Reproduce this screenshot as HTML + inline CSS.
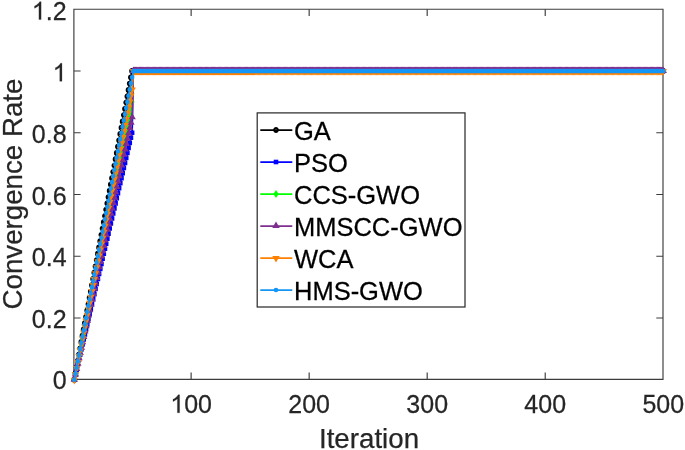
<!DOCTYPE html>
<html><head><meta charset="utf-8"><title>Convergence Rate vs Iteration</title><style>
html,body{margin:0;padding:0;background:#fff;width:685px;height:450px;overflow:hidden}
svg{display:block;will-change:transform}
text{font-family:"Liberation Sans", sans-serif;fill:#262626;stroke:#262626;stroke-width:0.25px}
</style></head><body>
<svg width="685" height="450" viewBox="0 0 685 450">
<rect width="685" height="450" fill="#fff"/>
<path d="M73.9 9.2H663.0V379.3H73.9Z" stroke="#3c3c3c" stroke-width="1.15" fill="none"/>
<path d="M73.9 318.04h6.7M663.0 318.04h-6.7M73.9 256.28h6.7M663.0 256.28h-6.7M73.9 194.52h6.7M663.0 194.52h-6.7M73.9 132.76h6.7M663.0 132.76h-6.7M73.9 71h6.7M663.0 71h-6.7M191.13 379.3v-6.7M191.13 9.2v6.7M309.16 379.3v-6.7M309.16 9.2v6.7M427.19 379.3v-6.7M427.19 9.2v6.7M545.22 379.3v-6.7M545.22 9.2v6.7" stroke="#3c3c3c" stroke-width="1.15" fill="none"/>
<path d="M74.28 379.8L75.46 373.5L76.64 367.2L77.82 360.89L79 354.59L80.18 348.29L81.36 341.99L82.54 335.69L83.72 329.38L84.9 323.08L86.08 316.78L87.26 310.48L88.44 304.18L89.62 297.87L90.8 291.57L91.98 285.27L93.17 278.97L94.35 272.67L95.53 266.36L96.71 260.06L97.89 253.76L99.07 247.46L100.25 241.16L101.43 234.85L102.61 228.55L103.79 222.25L104.97 215.95L106.15 209.64L107.33 203.34L108.51 197.04L109.69 190.74L110.87 184.44L112.05 178.13L113.23 171.83L114.41 165.53L115.59 159.23L116.77 152.93L117.95 146.62L119.13 140.32L120.31 134.02L121.49 127.72L122.67 121.42L123.85 115.11L125.03 108.81L126.21 102.51L127.39 96.21L128.57 89.91L129.75 83.6L130.93 77.3L132.11 71L133.3 71L663.25 71" fill="none" stroke="#000000" stroke-width="1.75" stroke-linejoin="round"/>
<path d="M72.38 379.8a1.9 1.9 0 1 0 3.8 0a1.9 1.9 0 1 0 -3.8 0zM73.56 373.5a1.9 1.9 0 1 0 3.8 0a1.9 1.9 0 1 0 -3.8 0zM74.74 367.2a1.9 1.9 0 1 0 3.8 0a1.9 1.9 0 1 0 -3.8 0zM75.92 360.89a1.9 1.9 0 1 0 3.8 0a1.9 1.9 0 1 0 -3.8 0zM77.1 354.59a1.9 1.9 0 1 0 3.8 0a1.9 1.9 0 1 0 -3.8 0zM78.28 348.29a1.9 1.9 0 1 0 3.8 0a1.9 1.9 0 1 0 -3.8 0zM79.46 341.99a1.9 1.9 0 1 0 3.8 0a1.9 1.9 0 1 0 -3.8 0zM80.64 335.69a1.9 1.9 0 1 0 3.8 0a1.9 1.9 0 1 0 -3.8 0zM81.82 329.38a1.9 1.9 0 1 0 3.8 0a1.9 1.9 0 1 0 -3.8 0zM83 323.08a1.9 1.9 0 1 0 3.8 0a1.9 1.9 0 1 0 -3.8 0zM84.18 316.78a1.9 1.9 0 1 0 3.8 0a1.9 1.9 0 1 0 -3.8 0zM85.36 310.48a1.9 1.9 0 1 0 3.8 0a1.9 1.9 0 1 0 -3.8 0zM86.54 304.18a1.9 1.9 0 1 0 3.8 0a1.9 1.9 0 1 0 -3.8 0zM87.72 297.87a1.9 1.9 0 1 0 3.8 0a1.9 1.9 0 1 0 -3.8 0zM88.9 291.57a1.9 1.9 0 1 0 3.8 0a1.9 1.9 0 1 0 -3.8 0zM90.08 285.27a1.9 1.9 0 1 0 3.8 0a1.9 1.9 0 1 0 -3.8 0zM91.27 278.97a1.9 1.9 0 1 0 3.8 0a1.9 1.9 0 1 0 -3.8 0zM92.45 272.67a1.9 1.9 0 1 0 3.8 0a1.9 1.9 0 1 0 -3.8 0zM93.63 266.36a1.9 1.9 0 1 0 3.8 0a1.9 1.9 0 1 0 -3.8 0zM94.81 260.06a1.9 1.9 0 1 0 3.8 0a1.9 1.9 0 1 0 -3.8 0zM95.99 253.76a1.9 1.9 0 1 0 3.8 0a1.9 1.9 0 1 0 -3.8 0zM97.17 247.46a1.9 1.9 0 1 0 3.8 0a1.9 1.9 0 1 0 -3.8 0zM98.35 241.16a1.9 1.9 0 1 0 3.8 0a1.9 1.9 0 1 0 -3.8 0zM99.53 234.85a1.9 1.9 0 1 0 3.8 0a1.9 1.9 0 1 0 -3.8 0zM100.71 228.55a1.9 1.9 0 1 0 3.8 0a1.9 1.9 0 1 0 -3.8 0zM101.89 222.25a1.9 1.9 0 1 0 3.8 0a1.9 1.9 0 1 0 -3.8 0zM103.07 215.95a1.9 1.9 0 1 0 3.8 0a1.9 1.9 0 1 0 -3.8 0zM104.25 209.64a1.9 1.9 0 1 0 3.8 0a1.9 1.9 0 1 0 -3.8 0zM105.43 203.34a1.9 1.9 0 1 0 3.8 0a1.9 1.9 0 1 0 -3.8 0zM106.61 197.04a1.9 1.9 0 1 0 3.8 0a1.9 1.9 0 1 0 -3.8 0zM107.79 190.74a1.9 1.9 0 1 0 3.8 0a1.9 1.9 0 1 0 -3.8 0zM108.97 184.44a1.9 1.9 0 1 0 3.8 0a1.9 1.9 0 1 0 -3.8 0zM110.15 178.13a1.9 1.9 0 1 0 3.8 0a1.9 1.9 0 1 0 -3.8 0zM111.33 171.83a1.9 1.9 0 1 0 3.8 0a1.9 1.9 0 1 0 -3.8 0zM112.51 165.53a1.9 1.9 0 1 0 3.8 0a1.9 1.9 0 1 0 -3.8 0zM113.69 159.23a1.9 1.9 0 1 0 3.8 0a1.9 1.9 0 1 0 -3.8 0zM114.87 152.93a1.9 1.9 0 1 0 3.8 0a1.9 1.9 0 1 0 -3.8 0zM116.05 146.62a1.9 1.9 0 1 0 3.8 0a1.9 1.9 0 1 0 -3.8 0zM117.23 140.32a1.9 1.9 0 1 0 3.8 0a1.9 1.9 0 1 0 -3.8 0zM118.41 134.02a1.9 1.9 0 1 0 3.8 0a1.9 1.9 0 1 0 -3.8 0zM119.59 127.72a1.9 1.9 0 1 0 3.8 0a1.9 1.9 0 1 0 -3.8 0zM120.77 121.42a1.9 1.9 0 1 0 3.8 0a1.9 1.9 0 1 0 -3.8 0zM121.95 115.11a1.9 1.9 0 1 0 3.8 0a1.9 1.9 0 1 0 -3.8 0zM123.13 108.81a1.9 1.9 0 1 0 3.8 0a1.9 1.9 0 1 0 -3.8 0zM124.31 102.51a1.9 1.9 0 1 0 3.8 0a1.9 1.9 0 1 0 -3.8 0zM125.49 96.21a1.9 1.9 0 1 0 3.8 0a1.9 1.9 0 1 0 -3.8 0zM126.67 89.91a1.9 1.9 0 1 0 3.8 0a1.9 1.9 0 1 0 -3.8 0zM127.85 83.6a1.9 1.9 0 1 0 3.8 0a1.9 1.9 0 1 0 -3.8 0zM129.03 77.3a1.9 1.9 0 1 0 3.8 0a1.9 1.9 0 1 0 -3.8 0zM130.21 71a1.9 1.9 0 1 0 3.8 0a1.9 1.9 0 1 0 -3.8 0zM131.4 71a1.9 1.9 0 1 0 3.8 0a1.9 1.9 0 1 0 -3.8 0zM132.58 71a1.9 1.9 0 1 0 3.8 0a1.9 1.9 0 1 0 -3.8 0zM133.76 71a1.9 1.9 0 1 0 3.8 0a1.9 1.9 0 1 0 -3.8 0zM134.94 71a1.9 1.9 0 1 0 3.8 0a1.9 1.9 0 1 0 -3.8 0zM136.12 71a1.9 1.9 0 1 0 3.8 0a1.9 1.9 0 1 0 -3.8 0zM137.3 71a1.9 1.9 0 1 0 3.8 0a1.9 1.9 0 1 0 -3.8 0zM138.48 71a1.9 1.9 0 1 0 3.8 0a1.9 1.9 0 1 0 -3.8 0zM139.66 71a1.9 1.9 0 1 0 3.8 0a1.9 1.9 0 1 0 -3.8 0zM140.84 71a1.9 1.9 0 1 0 3.8 0a1.9 1.9 0 1 0 -3.8 0zM142.02 71a1.9 1.9 0 1 0 3.8 0a1.9 1.9 0 1 0 -3.8 0zM143.2 71a1.9 1.9 0 1 0 3.8 0a1.9 1.9 0 1 0 -3.8 0zM144.38 71a1.9 1.9 0 1 0 3.8 0a1.9 1.9 0 1 0 -3.8 0zM145.56 71a1.9 1.9 0 1 0 3.8 0a1.9 1.9 0 1 0 -3.8 0zM146.74 71a1.9 1.9 0 1 0 3.8 0a1.9 1.9 0 1 0 -3.8 0zM147.92 71a1.9 1.9 0 1 0 3.8 0a1.9 1.9 0 1 0 -3.8 0zM149.1 71a1.9 1.9 0 1 0 3.8 0a1.9 1.9 0 1 0 -3.8 0zM150.28 71a1.9 1.9 0 1 0 3.8 0a1.9 1.9 0 1 0 -3.8 0zM151.46 71a1.9 1.9 0 1 0 3.8 0a1.9 1.9 0 1 0 -3.8 0zM152.64 71a1.9 1.9 0 1 0 3.8 0a1.9 1.9 0 1 0 -3.8 0zM153.82 71a1.9 1.9 0 1 0 3.8 0a1.9 1.9 0 1 0 -3.8 0zM155 71a1.9 1.9 0 1 0 3.8 0a1.9 1.9 0 1 0 -3.8 0zM156.18 71a1.9 1.9 0 1 0 3.8 0a1.9 1.9 0 1 0 -3.8 0zM157.36 71a1.9 1.9 0 1 0 3.8 0a1.9 1.9 0 1 0 -3.8 0zM158.54 71a1.9 1.9 0 1 0 3.8 0a1.9 1.9 0 1 0 -3.8 0zM159.72 71a1.9 1.9 0 1 0 3.8 0a1.9 1.9 0 1 0 -3.8 0zM160.9 71a1.9 1.9 0 1 0 3.8 0a1.9 1.9 0 1 0 -3.8 0zM162.08 71a1.9 1.9 0 1 0 3.8 0a1.9 1.9 0 1 0 -3.8 0zM163.26 71a1.9 1.9 0 1 0 3.8 0a1.9 1.9 0 1 0 -3.8 0zM164.44 71a1.9 1.9 0 1 0 3.8 0a1.9 1.9 0 1 0 -3.8 0zM165.62 71a1.9 1.9 0 1 0 3.8 0a1.9 1.9 0 1 0 -3.8 0zM166.8 71a1.9 1.9 0 1 0 3.8 0a1.9 1.9 0 1 0 -3.8 0zM167.98 71a1.9 1.9 0 1 0 3.8 0a1.9 1.9 0 1 0 -3.8 0zM169.16 71a1.9 1.9 0 1 0 3.8 0a1.9 1.9 0 1 0 -3.8 0zM170.35 71a1.9 1.9 0 1 0 3.8 0a1.9 1.9 0 1 0 -3.8 0zM171.53 71a1.9 1.9 0 1 0 3.8 0a1.9 1.9 0 1 0 -3.8 0zM172.71 71a1.9 1.9 0 1 0 3.8 0a1.9 1.9 0 1 0 -3.8 0zM173.89 71a1.9 1.9 0 1 0 3.8 0a1.9 1.9 0 1 0 -3.8 0zM175.07 71a1.9 1.9 0 1 0 3.8 0a1.9 1.9 0 1 0 -3.8 0zM176.25 71a1.9 1.9 0 1 0 3.8 0a1.9 1.9 0 1 0 -3.8 0zM177.43 71a1.9 1.9 0 1 0 3.8 0a1.9 1.9 0 1 0 -3.8 0zM178.61 71a1.9 1.9 0 1 0 3.8 0a1.9 1.9 0 1 0 -3.8 0zM179.79 71a1.9 1.9 0 1 0 3.8 0a1.9 1.9 0 1 0 -3.8 0zM180.97 71a1.9 1.9 0 1 0 3.8 0a1.9 1.9 0 1 0 -3.8 0zM182.15 71a1.9 1.9 0 1 0 3.8 0a1.9 1.9 0 1 0 -3.8 0zM183.33 71a1.9 1.9 0 1 0 3.8 0a1.9 1.9 0 1 0 -3.8 0zM184.51 71a1.9 1.9 0 1 0 3.8 0a1.9 1.9 0 1 0 -3.8 0zM185.69 71a1.9 1.9 0 1 0 3.8 0a1.9 1.9 0 1 0 -3.8 0zM186.87 71a1.9 1.9 0 1 0 3.8 0a1.9 1.9 0 1 0 -3.8 0zM188.05 71a1.9 1.9 0 1 0 3.8 0a1.9 1.9 0 1 0 -3.8 0zM189.23 71a1.9 1.9 0 1 0 3.8 0a1.9 1.9 0 1 0 -3.8 0zM190.41 71a1.9 1.9 0 1 0 3.8 0a1.9 1.9 0 1 0 -3.8 0zM191.59 71a1.9 1.9 0 1 0 3.8 0a1.9 1.9 0 1 0 -3.8 0zM192.77 71a1.9 1.9 0 1 0 3.8 0a1.9 1.9 0 1 0 -3.8 0zM193.95 71a1.9 1.9 0 1 0 3.8 0a1.9 1.9 0 1 0 -3.8 0zM195.13 71a1.9 1.9 0 1 0 3.8 0a1.9 1.9 0 1 0 -3.8 0zM196.31 71a1.9 1.9 0 1 0 3.8 0a1.9 1.9 0 1 0 -3.8 0zM197.49 71a1.9 1.9 0 1 0 3.8 0a1.9 1.9 0 1 0 -3.8 0zM198.67 71a1.9 1.9 0 1 0 3.8 0a1.9 1.9 0 1 0 -3.8 0zM199.85 71a1.9 1.9 0 1 0 3.8 0a1.9 1.9 0 1 0 -3.8 0zM201.03 71a1.9 1.9 0 1 0 3.8 0a1.9 1.9 0 1 0 -3.8 0zM202.21 71a1.9 1.9 0 1 0 3.8 0a1.9 1.9 0 1 0 -3.8 0zM203.39 71a1.9 1.9 0 1 0 3.8 0a1.9 1.9 0 1 0 -3.8 0zM204.57 71a1.9 1.9 0 1 0 3.8 0a1.9 1.9 0 1 0 -3.8 0zM205.75 71a1.9 1.9 0 1 0 3.8 0a1.9 1.9 0 1 0 -3.8 0zM206.93 71a1.9 1.9 0 1 0 3.8 0a1.9 1.9 0 1 0 -3.8 0zM208.11 71a1.9 1.9 0 1 0 3.8 0a1.9 1.9 0 1 0 -3.8 0zM209.3 71a1.9 1.9 0 1 0 3.8 0a1.9 1.9 0 1 0 -3.8 0zM210.48 71a1.9 1.9 0 1 0 3.8 0a1.9 1.9 0 1 0 -3.8 0zM211.66 71a1.9 1.9 0 1 0 3.8 0a1.9 1.9 0 1 0 -3.8 0zM212.84 71a1.9 1.9 0 1 0 3.8 0a1.9 1.9 0 1 0 -3.8 0zM214.02 71a1.9 1.9 0 1 0 3.8 0a1.9 1.9 0 1 0 -3.8 0zM215.2 71a1.9 1.9 0 1 0 3.8 0a1.9 1.9 0 1 0 -3.8 0zM216.38 71a1.9 1.9 0 1 0 3.8 0a1.9 1.9 0 1 0 -3.8 0zM217.56 71a1.9 1.9 0 1 0 3.8 0a1.9 1.9 0 1 0 -3.8 0zM218.74 71a1.9 1.9 0 1 0 3.8 0a1.9 1.9 0 1 0 -3.8 0zM219.92 71a1.9 1.9 0 1 0 3.8 0a1.9 1.9 0 1 0 -3.8 0zM221.1 71a1.9 1.9 0 1 0 3.8 0a1.9 1.9 0 1 0 -3.8 0zM222.28 71a1.9 1.9 0 1 0 3.8 0a1.9 1.9 0 1 0 -3.8 0zM223.46 71a1.9 1.9 0 1 0 3.8 0a1.9 1.9 0 1 0 -3.8 0zM224.64 71a1.9 1.9 0 1 0 3.8 0a1.9 1.9 0 1 0 -3.8 0zM225.82 71a1.9 1.9 0 1 0 3.8 0a1.9 1.9 0 1 0 -3.8 0zM227 71a1.9 1.9 0 1 0 3.8 0a1.9 1.9 0 1 0 -3.8 0zM228.18 71a1.9 1.9 0 1 0 3.8 0a1.9 1.9 0 1 0 -3.8 0zM229.36 71a1.9 1.9 0 1 0 3.8 0a1.9 1.9 0 1 0 -3.8 0zM230.54 71a1.9 1.9 0 1 0 3.8 0a1.9 1.9 0 1 0 -3.8 0zM231.72 71a1.9 1.9 0 1 0 3.8 0a1.9 1.9 0 1 0 -3.8 0zM232.9 71a1.9 1.9 0 1 0 3.8 0a1.9 1.9 0 1 0 -3.8 0zM234.08 71a1.9 1.9 0 1 0 3.8 0a1.9 1.9 0 1 0 -3.8 0zM235.26 71a1.9 1.9 0 1 0 3.8 0a1.9 1.9 0 1 0 -3.8 0zM236.44 71a1.9 1.9 0 1 0 3.8 0a1.9 1.9 0 1 0 -3.8 0zM237.62 71a1.9 1.9 0 1 0 3.8 0a1.9 1.9 0 1 0 -3.8 0zM238.8 71a1.9 1.9 0 1 0 3.8 0a1.9 1.9 0 1 0 -3.8 0zM239.98 71a1.9 1.9 0 1 0 3.8 0a1.9 1.9 0 1 0 -3.8 0zM241.16 71a1.9 1.9 0 1 0 3.8 0a1.9 1.9 0 1 0 -3.8 0zM242.34 71a1.9 1.9 0 1 0 3.8 0a1.9 1.9 0 1 0 -3.8 0zM243.52 71a1.9 1.9 0 1 0 3.8 0a1.9 1.9 0 1 0 -3.8 0zM244.7 71a1.9 1.9 0 1 0 3.8 0a1.9 1.9 0 1 0 -3.8 0zM245.88 71a1.9 1.9 0 1 0 3.8 0a1.9 1.9 0 1 0 -3.8 0zM247.06 71a1.9 1.9 0 1 0 3.8 0a1.9 1.9 0 1 0 -3.8 0zM248.24 71a1.9 1.9 0 1 0 3.8 0a1.9 1.9 0 1 0 -3.8 0zM249.43 71a1.9 1.9 0 1 0 3.8 0a1.9 1.9 0 1 0 -3.8 0zM250.61 71a1.9 1.9 0 1 0 3.8 0a1.9 1.9 0 1 0 -3.8 0zM251.79 71a1.9 1.9 0 1 0 3.8 0a1.9 1.9 0 1 0 -3.8 0zM252.97 71a1.9 1.9 0 1 0 3.8 0a1.9 1.9 0 1 0 -3.8 0zM254.15 71a1.9 1.9 0 1 0 3.8 0a1.9 1.9 0 1 0 -3.8 0zM255.33 71a1.9 1.9 0 1 0 3.8 0a1.9 1.9 0 1 0 -3.8 0zM256.51 71a1.9 1.9 0 1 0 3.8 0a1.9 1.9 0 1 0 -3.8 0zM257.69 71a1.9 1.9 0 1 0 3.8 0a1.9 1.9 0 1 0 -3.8 0zM258.87 71a1.9 1.9 0 1 0 3.8 0a1.9 1.9 0 1 0 -3.8 0zM260.05 71a1.9 1.9 0 1 0 3.8 0a1.9 1.9 0 1 0 -3.8 0zM261.23 71a1.9 1.9 0 1 0 3.8 0a1.9 1.9 0 1 0 -3.8 0zM262.41 71a1.9 1.9 0 1 0 3.8 0a1.9 1.9 0 1 0 -3.8 0zM263.59 71a1.9 1.9 0 1 0 3.8 0a1.9 1.9 0 1 0 -3.8 0zM264.77 71a1.9 1.9 0 1 0 3.8 0a1.9 1.9 0 1 0 -3.8 0zM265.95 71a1.9 1.9 0 1 0 3.8 0a1.9 1.9 0 1 0 -3.8 0zM267.13 71a1.9 1.9 0 1 0 3.8 0a1.9 1.9 0 1 0 -3.8 0zM268.31 71a1.9 1.9 0 1 0 3.8 0a1.9 1.9 0 1 0 -3.8 0zM269.49 71a1.9 1.9 0 1 0 3.8 0a1.9 1.9 0 1 0 -3.8 0zM270.67 71a1.9 1.9 0 1 0 3.8 0a1.9 1.9 0 1 0 -3.8 0zM271.85 71a1.9 1.9 0 1 0 3.8 0a1.9 1.9 0 1 0 -3.8 0zM273.03 71a1.9 1.9 0 1 0 3.8 0a1.9 1.9 0 1 0 -3.8 0zM274.21 71a1.9 1.9 0 1 0 3.8 0a1.9 1.9 0 1 0 -3.8 0zM275.39 71a1.9 1.9 0 1 0 3.8 0a1.9 1.9 0 1 0 -3.8 0zM276.57 71a1.9 1.9 0 1 0 3.8 0a1.9 1.9 0 1 0 -3.8 0zM277.75 71a1.9 1.9 0 1 0 3.8 0a1.9 1.9 0 1 0 -3.8 0zM278.93 71a1.9 1.9 0 1 0 3.8 0a1.9 1.9 0 1 0 -3.8 0zM280.11 71a1.9 1.9 0 1 0 3.8 0a1.9 1.9 0 1 0 -3.8 0zM281.29 71a1.9 1.9 0 1 0 3.8 0a1.9 1.9 0 1 0 -3.8 0zM282.47 71a1.9 1.9 0 1 0 3.8 0a1.9 1.9 0 1 0 -3.8 0zM283.65 71a1.9 1.9 0 1 0 3.8 0a1.9 1.9 0 1 0 -3.8 0zM284.83 71a1.9 1.9 0 1 0 3.8 0a1.9 1.9 0 1 0 -3.8 0zM286.01 71a1.9 1.9 0 1 0 3.8 0a1.9 1.9 0 1 0 -3.8 0zM287.19 71a1.9 1.9 0 1 0 3.8 0a1.9 1.9 0 1 0 -3.8 0zM288.38 71a1.9 1.9 0 1 0 3.8 0a1.9 1.9 0 1 0 -3.8 0zM289.56 71a1.9 1.9 0 1 0 3.8 0a1.9 1.9 0 1 0 -3.8 0zM290.74 71a1.9 1.9 0 1 0 3.8 0a1.9 1.9 0 1 0 -3.8 0zM291.92 71a1.9 1.9 0 1 0 3.8 0a1.9 1.9 0 1 0 -3.8 0zM293.1 71a1.9 1.9 0 1 0 3.8 0a1.9 1.9 0 1 0 -3.8 0zM294.28 71a1.9 1.9 0 1 0 3.8 0a1.9 1.9 0 1 0 -3.8 0zM295.46 71a1.9 1.9 0 1 0 3.8 0a1.9 1.9 0 1 0 -3.8 0zM296.64 71a1.9 1.9 0 1 0 3.8 0a1.9 1.9 0 1 0 -3.8 0zM297.82 71a1.9 1.9 0 1 0 3.8 0a1.9 1.9 0 1 0 -3.8 0zM299 71a1.9 1.9 0 1 0 3.8 0a1.9 1.9 0 1 0 -3.8 0zM300.18 71a1.9 1.9 0 1 0 3.8 0a1.9 1.9 0 1 0 -3.8 0zM301.36 71a1.9 1.9 0 1 0 3.8 0a1.9 1.9 0 1 0 -3.8 0zM302.54 71a1.9 1.9 0 1 0 3.8 0a1.9 1.9 0 1 0 -3.8 0zM303.72 71a1.9 1.9 0 1 0 3.8 0a1.9 1.9 0 1 0 -3.8 0zM304.9 71a1.9 1.9 0 1 0 3.8 0a1.9 1.9 0 1 0 -3.8 0zM306.08 71a1.9 1.9 0 1 0 3.8 0a1.9 1.9 0 1 0 -3.8 0zM307.26 71a1.9 1.9 0 1 0 3.8 0a1.9 1.9 0 1 0 -3.8 0zM308.44 71a1.9 1.9 0 1 0 3.8 0a1.9 1.9 0 1 0 -3.8 0zM309.62 71a1.9 1.9 0 1 0 3.8 0a1.9 1.9 0 1 0 -3.8 0zM310.8 71a1.9 1.9 0 1 0 3.8 0a1.9 1.9 0 1 0 -3.8 0zM311.98 71a1.9 1.9 0 1 0 3.8 0a1.9 1.9 0 1 0 -3.8 0zM313.16 71a1.9 1.9 0 1 0 3.8 0a1.9 1.9 0 1 0 -3.8 0zM314.34 71a1.9 1.9 0 1 0 3.8 0a1.9 1.9 0 1 0 -3.8 0zM315.52 71a1.9 1.9 0 1 0 3.8 0a1.9 1.9 0 1 0 -3.8 0zM316.7 71a1.9 1.9 0 1 0 3.8 0a1.9 1.9 0 1 0 -3.8 0zM317.88 71a1.9 1.9 0 1 0 3.8 0a1.9 1.9 0 1 0 -3.8 0zM319.06 71a1.9 1.9 0 1 0 3.8 0a1.9 1.9 0 1 0 -3.8 0zM320.24 71a1.9 1.9 0 1 0 3.8 0a1.9 1.9 0 1 0 -3.8 0zM321.42 71a1.9 1.9 0 1 0 3.8 0a1.9 1.9 0 1 0 -3.8 0zM322.6 71a1.9 1.9 0 1 0 3.8 0a1.9 1.9 0 1 0 -3.8 0zM323.78 71a1.9 1.9 0 1 0 3.8 0a1.9 1.9 0 1 0 -3.8 0zM324.96 71a1.9 1.9 0 1 0 3.8 0a1.9 1.9 0 1 0 -3.8 0zM326.14 71a1.9 1.9 0 1 0 3.8 0a1.9 1.9 0 1 0 -3.8 0zM327.33 71a1.9 1.9 0 1 0 3.8 0a1.9 1.9 0 1 0 -3.8 0zM328.51 71a1.9 1.9 0 1 0 3.8 0a1.9 1.9 0 1 0 -3.8 0zM329.69 71a1.9 1.9 0 1 0 3.8 0a1.9 1.9 0 1 0 -3.8 0zM330.87 71a1.9 1.9 0 1 0 3.8 0a1.9 1.9 0 1 0 -3.8 0zM332.05 71a1.9 1.9 0 1 0 3.8 0a1.9 1.9 0 1 0 -3.8 0zM333.23 71a1.9 1.9 0 1 0 3.8 0a1.9 1.9 0 1 0 -3.8 0zM334.41 71a1.9 1.9 0 1 0 3.8 0a1.9 1.9 0 1 0 -3.8 0zM335.59 71a1.9 1.9 0 1 0 3.8 0a1.9 1.9 0 1 0 -3.8 0zM336.77 71a1.9 1.9 0 1 0 3.8 0a1.9 1.9 0 1 0 -3.8 0zM337.95 71a1.9 1.9 0 1 0 3.8 0a1.9 1.9 0 1 0 -3.8 0zM339.13 71a1.9 1.9 0 1 0 3.8 0a1.9 1.9 0 1 0 -3.8 0zM340.31 71a1.9 1.9 0 1 0 3.8 0a1.9 1.9 0 1 0 -3.8 0zM341.49 71a1.9 1.9 0 1 0 3.8 0a1.9 1.9 0 1 0 -3.8 0zM342.67 71a1.9 1.9 0 1 0 3.8 0a1.9 1.9 0 1 0 -3.8 0zM343.85 71a1.9 1.9 0 1 0 3.8 0a1.9 1.9 0 1 0 -3.8 0zM345.03 71a1.9 1.9 0 1 0 3.8 0a1.9 1.9 0 1 0 -3.8 0zM346.21 71a1.9 1.9 0 1 0 3.8 0a1.9 1.9 0 1 0 -3.8 0zM347.39 71a1.9 1.9 0 1 0 3.8 0a1.9 1.9 0 1 0 -3.8 0zM348.57 71a1.9 1.9 0 1 0 3.8 0a1.9 1.9 0 1 0 -3.8 0zM349.75 71a1.9 1.9 0 1 0 3.8 0a1.9 1.9 0 1 0 -3.8 0zM350.93 71a1.9 1.9 0 1 0 3.8 0a1.9 1.9 0 1 0 -3.8 0zM352.11 71a1.9 1.9 0 1 0 3.8 0a1.9 1.9 0 1 0 -3.8 0zM353.29 71a1.9 1.9 0 1 0 3.8 0a1.9 1.9 0 1 0 -3.8 0zM354.47 71a1.9 1.9 0 1 0 3.8 0a1.9 1.9 0 1 0 -3.8 0zM355.65 71a1.9 1.9 0 1 0 3.8 0a1.9 1.9 0 1 0 -3.8 0zM356.83 71a1.9 1.9 0 1 0 3.8 0a1.9 1.9 0 1 0 -3.8 0zM358.01 71a1.9 1.9 0 1 0 3.8 0a1.9 1.9 0 1 0 -3.8 0zM359.19 71a1.9 1.9 0 1 0 3.8 0a1.9 1.9 0 1 0 -3.8 0zM360.37 71a1.9 1.9 0 1 0 3.8 0a1.9 1.9 0 1 0 -3.8 0zM361.55 71a1.9 1.9 0 1 0 3.8 0a1.9 1.9 0 1 0 -3.8 0zM362.73 71a1.9 1.9 0 1 0 3.8 0a1.9 1.9 0 1 0 -3.8 0zM363.91 71a1.9 1.9 0 1 0 3.8 0a1.9 1.9 0 1 0 -3.8 0zM365.09 71a1.9 1.9 0 1 0 3.8 0a1.9 1.9 0 1 0 -3.8 0zM366.27 71a1.9 1.9 0 1 0 3.8 0a1.9 1.9 0 1 0 -3.8 0zM367.46 71a1.9 1.9 0 1 0 3.8 0a1.9 1.9 0 1 0 -3.8 0zM368.64 71a1.9 1.9 0 1 0 3.8 0a1.9 1.9 0 1 0 -3.8 0zM369.82 71a1.9 1.9 0 1 0 3.8 0a1.9 1.9 0 1 0 -3.8 0zM371 71a1.9 1.9 0 1 0 3.8 0a1.9 1.9 0 1 0 -3.8 0zM372.18 71a1.9 1.9 0 1 0 3.8 0a1.9 1.9 0 1 0 -3.8 0zM373.36 71a1.9 1.9 0 1 0 3.8 0a1.9 1.9 0 1 0 -3.8 0zM374.54 71a1.9 1.9 0 1 0 3.8 0a1.9 1.9 0 1 0 -3.8 0zM375.72 71a1.9 1.9 0 1 0 3.8 0a1.9 1.9 0 1 0 -3.8 0zM376.9 71a1.9 1.9 0 1 0 3.8 0a1.9 1.9 0 1 0 -3.8 0zM378.08 71a1.9 1.9 0 1 0 3.8 0a1.9 1.9 0 1 0 -3.8 0zM379.26 71a1.9 1.9 0 1 0 3.8 0a1.9 1.9 0 1 0 -3.8 0zM380.44 71a1.9 1.9 0 1 0 3.8 0a1.9 1.9 0 1 0 -3.8 0zM381.62 71a1.9 1.9 0 1 0 3.8 0a1.9 1.9 0 1 0 -3.8 0zM382.8 71a1.9 1.9 0 1 0 3.8 0a1.9 1.9 0 1 0 -3.8 0zM383.98 71a1.9 1.9 0 1 0 3.8 0a1.9 1.9 0 1 0 -3.8 0zM385.16 71a1.9 1.9 0 1 0 3.8 0a1.9 1.9 0 1 0 -3.8 0zM386.34 71a1.9 1.9 0 1 0 3.8 0a1.9 1.9 0 1 0 -3.8 0zM387.52 71a1.9 1.9 0 1 0 3.8 0a1.9 1.9 0 1 0 -3.8 0zM388.7 71a1.9 1.9 0 1 0 3.8 0a1.9 1.9 0 1 0 -3.8 0zM389.88 71a1.9 1.9 0 1 0 3.8 0a1.9 1.9 0 1 0 -3.8 0zM391.06 71a1.9 1.9 0 1 0 3.8 0a1.9 1.9 0 1 0 -3.8 0zM392.24 71a1.9 1.9 0 1 0 3.8 0a1.9 1.9 0 1 0 -3.8 0zM393.42 71a1.9 1.9 0 1 0 3.8 0a1.9 1.9 0 1 0 -3.8 0zM394.6 71a1.9 1.9 0 1 0 3.8 0a1.9 1.9 0 1 0 -3.8 0zM395.78 71a1.9 1.9 0 1 0 3.8 0a1.9 1.9 0 1 0 -3.8 0zM396.96 71a1.9 1.9 0 1 0 3.8 0a1.9 1.9 0 1 0 -3.8 0zM398.14 71a1.9 1.9 0 1 0 3.8 0a1.9 1.9 0 1 0 -3.8 0zM399.32 71a1.9 1.9 0 1 0 3.8 0a1.9 1.9 0 1 0 -3.8 0zM400.5 71a1.9 1.9 0 1 0 3.8 0a1.9 1.9 0 1 0 -3.8 0zM401.68 71a1.9 1.9 0 1 0 3.8 0a1.9 1.9 0 1 0 -3.8 0zM402.86 71a1.9 1.9 0 1 0 3.8 0a1.9 1.9 0 1 0 -3.8 0zM404.04 71a1.9 1.9 0 1 0 3.8 0a1.9 1.9 0 1 0 -3.8 0zM405.22 71a1.9 1.9 0 1 0 3.8 0a1.9 1.9 0 1 0 -3.8 0zM406.41 71a1.9 1.9 0 1 0 3.8 0a1.9 1.9 0 1 0 -3.8 0zM407.59 71a1.9 1.9 0 1 0 3.8 0a1.9 1.9 0 1 0 -3.8 0zM408.77 71a1.9 1.9 0 1 0 3.8 0a1.9 1.9 0 1 0 -3.8 0zM409.95 71a1.9 1.9 0 1 0 3.8 0a1.9 1.9 0 1 0 -3.8 0zM411.13 71a1.9 1.9 0 1 0 3.8 0a1.9 1.9 0 1 0 -3.8 0zM412.31 71a1.9 1.9 0 1 0 3.8 0a1.9 1.9 0 1 0 -3.8 0zM413.49 71a1.9 1.9 0 1 0 3.8 0a1.9 1.9 0 1 0 -3.8 0zM414.67 71a1.9 1.9 0 1 0 3.8 0a1.9 1.9 0 1 0 -3.8 0zM415.85 71a1.9 1.9 0 1 0 3.8 0a1.9 1.9 0 1 0 -3.8 0zM417.03 71a1.9 1.9 0 1 0 3.8 0a1.9 1.9 0 1 0 -3.8 0zM418.21 71a1.9 1.9 0 1 0 3.8 0a1.9 1.9 0 1 0 -3.8 0zM419.39 71a1.9 1.9 0 1 0 3.8 0a1.9 1.9 0 1 0 -3.8 0zM420.57 71a1.9 1.9 0 1 0 3.8 0a1.9 1.9 0 1 0 -3.8 0zM421.75 71a1.9 1.9 0 1 0 3.8 0a1.9 1.9 0 1 0 -3.8 0zM422.93 71a1.9 1.9 0 1 0 3.8 0a1.9 1.9 0 1 0 -3.8 0zM424.11 71a1.9 1.9 0 1 0 3.8 0a1.9 1.9 0 1 0 -3.8 0zM425.29 71a1.9 1.9 0 1 0 3.8 0a1.9 1.9 0 1 0 -3.8 0zM426.47 71a1.9 1.9 0 1 0 3.8 0a1.9 1.9 0 1 0 -3.8 0zM427.65 71a1.9 1.9 0 1 0 3.8 0a1.9 1.9 0 1 0 -3.8 0zM428.83 71a1.9 1.9 0 1 0 3.8 0a1.9 1.9 0 1 0 -3.8 0zM430.01 71a1.9 1.9 0 1 0 3.8 0a1.9 1.9 0 1 0 -3.8 0zM431.19 71a1.9 1.9 0 1 0 3.8 0a1.9 1.9 0 1 0 -3.8 0zM432.37 71a1.9 1.9 0 1 0 3.8 0a1.9 1.9 0 1 0 -3.8 0zM433.55 71a1.9 1.9 0 1 0 3.8 0a1.9 1.9 0 1 0 -3.8 0zM434.73 71a1.9 1.9 0 1 0 3.8 0a1.9 1.9 0 1 0 -3.8 0zM435.91 71a1.9 1.9 0 1 0 3.8 0a1.9 1.9 0 1 0 -3.8 0zM437.09 71a1.9 1.9 0 1 0 3.8 0a1.9 1.9 0 1 0 -3.8 0zM438.27 71a1.9 1.9 0 1 0 3.8 0a1.9 1.9 0 1 0 -3.8 0zM439.45 71a1.9 1.9 0 1 0 3.8 0a1.9 1.9 0 1 0 -3.8 0zM440.63 71a1.9 1.9 0 1 0 3.8 0a1.9 1.9 0 1 0 -3.8 0zM441.81 71a1.9 1.9 0 1 0 3.8 0a1.9 1.9 0 1 0 -3.8 0zM442.99 71a1.9 1.9 0 1 0 3.8 0a1.9 1.9 0 1 0 -3.8 0zM444.17 71a1.9 1.9 0 1 0 3.8 0a1.9 1.9 0 1 0 -3.8 0zM445.36 71a1.9 1.9 0 1 0 3.8 0a1.9 1.9 0 1 0 -3.8 0zM446.54 71a1.9 1.9 0 1 0 3.8 0a1.9 1.9 0 1 0 -3.8 0zM447.72 71a1.9 1.9 0 1 0 3.8 0a1.9 1.9 0 1 0 -3.8 0zM448.9 71a1.9 1.9 0 1 0 3.8 0a1.9 1.9 0 1 0 -3.8 0zM450.08 71a1.9 1.9 0 1 0 3.8 0a1.9 1.9 0 1 0 -3.8 0zM451.26 71a1.9 1.9 0 1 0 3.8 0a1.9 1.9 0 1 0 -3.8 0zM452.44 71a1.9 1.9 0 1 0 3.8 0a1.9 1.9 0 1 0 -3.8 0zM453.62 71a1.9 1.9 0 1 0 3.8 0a1.9 1.9 0 1 0 -3.8 0zM454.8 71a1.9 1.9 0 1 0 3.8 0a1.9 1.9 0 1 0 -3.8 0zM455.98 71a1.9 1.9 0 1 0 3.8 0a1.9 1.9 0 1 0 -3.8 0zM457.16 71a1.9 1.9 0 1 0 3.8 0a1.9 1.9 0 1 0 -3.8 0zM458.34 71a1.9 1.9 0 1 0 3.8 0a1.9 1.9 0 1 0 -3.8 0zM459.52 71a1.9 1.9 0 1 0 3.8 0a1.9 1.9 0 1 0 -3.8 0zM460.7 71a1.9 1.9 0 1 0 3.8 0a1.9 1.9 0 1 0 -3.8 0zM461.88 71a1.9 1.9 0 1 0 3.8 0a1.9 1.9 0 1 0 -3.8 0zM463.06 71a1.9 1.9 0 1 0 3.8 0a1.9 1.9 0 1 0 -3.8 0zM464.24 71a1.9 1.9 0 1 0 3.8 0a1.9 1.9 0 1 0 -3.8 0zM465.42 71a1.9 1.9 0 1 0 3.8 0a1.9 1.9 0 1 0 -3.8 0zM466.6 71a1.9 1.9 0 1 0 3.8 0a1.9 1.9 0 1 0 -3.8 0zM467.78 71a1.9 1.9 0 1 0 3.8 0a1.9 1.9 0 1 0 -3.8 0zM468.96 71a1.9 1.9 0 1 0 3.8 0a1.9 1.9 0 1 0 -3.8 0zM470.14 71a1.9 1.9 0 1 0 3.8 0a1.9 1.9 0 1 0 -3.8 0zM471.32 71a1.9 1.9 0 1 0 3.8 0a1.9 1.9 0 1 0 -3.8 0zM472.5 71a1.9 1.9 0 1 0 3.8 0a1.9 1.9 0 1 0 -3.8 0zM473.68 71a1.9 1.9 0 1 0 3.8 0a1.9 1.9 0 1 0 -3.8 0zM474.86 71a1.9 1.9 0 1 0 3.8 0a1.9 1.9 0 1 0 -3.8 0zM476.04 71a1.9 1.9 0 1 0 3.8 0a1.9 1.9 0 1 0 -3.8 0zM477.22 71a1.9 1.9 0 1 0 3.8 0a1.9 1.9 0 1 0 -3.8 0zM478.4 71a1.9 1.9 0 1 0 3.8 0a1.9 1.9 0 1 0 -3.8 0zM479.58 71a1.9 1.9 0 1 0 3.8 0a1.9 1.9 0 1 0 -3.8 0zM480.76 71a1.9 1.9 0 1 0 3.8 0a1.9 1.9 0 1 0 -3.8 0zM481.94 71a1.9 1.9 0 1 0 3.8 0a1.9 1.9 0 1 0 -3.8 0zM483.12 71a1.9 1.9 0 1 0 3.8 0a1.9 1.9 0 1 0 -3.8 0zM484.3 71a1.9 1.9 0 1 0 3.8 0a1.9 1.9 0 1 0 -3.8 0zM485.49 71a1.9 1.9 0 1 0 3.8 0a1.9 1.9 0 1 0 -3.8 0zM486.67 71a1.9 1.9 0 1 0 3.8 0a1.9 1.9 0 1 0 -3.8 0zM487.85 71a1.9 1.9 0 1 0 3.8 0a1.9 1.9 0 1 0 -3.8 0zM489.03 71a1.9 1.9 0 1 0 3.8 0a1.9 1.9 0 1 0 -3.8 0zM490.21 71a1.9 1.9 0 1 0 3.8 0a1.9 1.9 0 1 0 -3.8 0zM491.39 71a1.9 1.9 0 1 0 3.8 0a1.9 1.9 0 1 0 -3.8 0zM492.57 71a1.9 1.9 0 1 0 3.8 0a1.9 1.9 0 1 0 -3.8 0zM493.75 71a1.9 1.9 0 1 0 3.8 0a1.9 1.9 0 1 0 -3.8 0zM494.93 71a1.9 1.9 0 1 0 3.8 0a1.9 1.9 0 1 0 -3.8 0zM496.11 71a1.9 1.9 0 1 0 3.8 0a1.9 1.9 0 1 0 -3.8 0zM497.29 71a1.9 1.9 0 1 0 3.8 0a1.9 1.9 0 1 0 -3.8 0zM498.47 71a1.9 1.9 0 1 0 3.8 0a1.9 1.9 0 1 0 -3.8 0zM499.65 71a1.9 1.9 0 1 0 3.8 0a1.9 1.9 0 1 0 -3.8 0zM500.83 71a1.9 1.9 0 1 0 3.8 0a1.9 1.9 0 1 0 -3.8 0zM502.01 71a1.9 1.9 0 1 0 3.8 0a1.9 1.9 0 1 0 -3.8 0zM503.19 71a1.9 1.9 0 1 0 3.8 0a1.9 1.9 0 1 0 -3.8 0zM504.37 71a1.9 1.9 0 1 0 3.8 0a1.9 1.9 0 1 0 -3.8 0zM505.55 71a1.9 1.9 0 1 0 3.8 0a1.9 1.9 0 1 0 -3.8 0zM506.73 71a1.9 1.9 0 1 0 3.8 0a1.9 1.9 0 1 0 -3.8 0zM507.91 71a1.9 1.9 0 1 0 3.8 0a1.9 1.9 0 1 0 -3.8 0zM509.09 71a1.9 1.9 0 1 0 3.8 0a1.9 1.9 0 1 0 -3.8 0zM510.27 71a1.9 1.9 0 1 0 3.8 0a1.9 1.9 0 1 0 -3.8 0zM511.45 71a1.9 1.9 0 1 0 3.8 0a1.9 1.9 0 1 0 -3.8 0zM512.63 71a1.9 1.9 0 1 0 3.8 0a1.9 1.9 0 1 0 -3.8 0zM513.81 71a1.9 1.9 0 1 0 3.8 0a1.9 1.9 0 1 0 -3.8 0zM514.99 71a1.9 1.9 0 1 0 3.8 0a1.9 1.9 0 1 0 -3.8 0zM516.17 71a1.9 1.9 0 1 0 3.8 0a1.9 1.9 0 1 0 -3.8 0zM517.35 71a1.9 1.9 0 1 0 3.8 0a1.9 1.9 0 1 0 -3.8 0zM518.53 71a1.9 1.9 0 1 0 3.8 0a1.9 1.9 0 1 0 -3.8 0zM519.71 71a1.9 1.9 0 1 0 3.8 0a1.9 1.9 0 1 0 -3.8 0zM520.89 71a1.9 1.9 0 1 0 3.8 0a1.9 1.9 0 1 0 -3.8 0zM522.07 71a1.9 1.9 0 1 0 3.8 0a1.9 1.9 0 1 0 -3.8 0zM523.25 71a1.9 1.9 0 1 0 3.8 0a1.9 1.9 0 1 0 -3.8 0zM524.44 71a1.9 1.9 0 1 0 3.8 0a1.9 1.9 0 1 0 -3.8 0zM525.62 71a1.9 1.9 0 1 0 3.8 0a1.9 1.9 0 1 0 -3.8 0zM526.8 71a1.9 1.9 0 1 0 3.8 0a1.9 1.9 0 1 0 -3.8 0zM527.98 71a1.9 1.9 0 1 0 3.8 0a1.9 1.9 0 1 0 -3.8 0zM529.16 71a1.9 1.9 0 1 0 3.8 0a1.9 1.9 0 1 0 -3.8 0zM530.34 71a1.9 1.9 0 1 0 3.8 0a1.9 1.9 0 1 0 -3.8 0zM531.52 71a1.9 1.9 0 1 0 3.8 0a1.9 1.9 0 1 0 -3.8 0zM532.7 71a1.9 1.9 0 1 0 3.8 0a1.9 1.9 0 1 0 -3.8 0zM533.88 71a1.9 1.9 0 1 0 3.8 0a1.9 1.9 0 1 0 -3.8 0zM535.06 71a1.9 1.9 0 1 0 3.8 0a1.9 1.9 0 1 0 -3.8 0zM536.24 71a1.9 1.9 0 1 0 3.8 0a1.9 1.9 0 1 0 -3.8 0zM537.42 71a1.9 1.9 0 1 0 3.8 0a1.9 1.9 0 1 0 -3.8 0zM538.6 71a1.9 1.9 0 1 0 3.8 0a1.9 1.9 0 1 0 -3.8 0zM539.78 71a1.9 1.9 0 1 0 3.8 0a1.9 1.9 0 1 0 -3.8 0zM540.96 71a1.9 1.9 0 1 0 3.8 0a1.9 1.9 0 1 0 -3.8 0zM542.14 71a1.9 1.9 0 1 0 3.8 0a1.9 1.9 0 1 0 -3.8 0zM543.32 71a1.9 1.9 0 1 0 3.8 0a1.9 1.9 0 1 0 -3.8 0zM544.5 71a1.9 1.9 0 1 0 3.8 0a1.9 1.9 0 1 0 -3.8 0zM545.68 71a1.9 1.9 0 1 0 3.8 0a1.9 1.9 0 1 0 -3.8 0zM546.86 71a1.9 1.9 0 1 0 3.8 0a1.9 1.9 0 1 0 -3.8 0zM548.04 71a1.9 1.9 0 1 0 3.8 0a1.9 1.9 0 1 0 -3.8 0zM549.22 71a1.9 1.9 0 1 0 3.8 0a1.9 1.9 0 1 0 -3.8 0zM550.4 71a1.9 1.9 0 1 0 3.8 0a1.9 1.9 0 1 0 -3.8 0zM551.58 71a1.9 1.9 0 1 0 3.8 0a1.9 1.9 0 1 0 -3.8 0zM552.76 71a1.9 1.9 0 1 0 3.8 0a1.9 1.9 0 1 0 -3.8 0zM553.94 71a1.9 1.9 0 1 0 3.8 0a1.9 1.9 0 1 0 -3.8 0zM555.12 71a1.9 1.9 0 1 0 3.8 0a1.9 1.9 0 1 0 -3.8 0zM556.3 71a1.9 1.9 0 1 0 3.8 0a1.9 1.9 0 1 0 -3.8 0zM557.48 71a1.9 1.9 0 1 0 3.8 0a1.9 1.9 0 1 0 -3.8 0zM558.66 71a1.9 1.9 0 1 0 3.8 0a1.9 1.9 0 1 0 -3.8 0zM559.84 71a1.9 1.9 0 1 0 3.8 0a1.9 1.9 0 1 0 -3.8 0zM561.02 71a1.9 1.9 0 1 0 3.8 0a1.9 1.9 0 1 0 -3.8 0zM562.2 71a1.9 1.9 0 1 0 3.8 0a1.9 1.9 0 1 0 -3.8 0zM563.39 71a1.9 1.9 0 1 0 3.8 0a1.9 1.9 0 1 0 -3.8 0zM564.57 71a1.9 1.9 0 1 0 3.8 0a1.9 1.9 0 1 0 -3.8 0zM565.75 71a1.9 1.9 0 1 0 3.8 0a1.9 1.9 0 1 0 -3.8 0zM566.93 71a1.9 1.9 0 1 0 3.8 0a1.9 1.9 0 1 0 -3.8 0zM568.11 71a1.9 1.9 0 1 0 3.8 0a1.9 1.9 0 1 0 -3.8 0zM569.29 71a1.9 1.9 0 1 0 3.8 0a1.9 1.9 0 1 0 -3.8 0zM570.47 71a1.9 1.9 0 1 0 3.8 0a1.9 1.9 0 1 0 -3.8 0zM571.65 71a1.9 1.9 0 1 0 3.8 0a1.9 1.9 0 1 0 -3.8 0zM572.83 71a1.9 1.9 0 1 0 3.8 0a1.9 1.9 0 1 0 -3.8 0zM574.01 71a1.9 1.9 0 1 0 3.8 0a1.9 1.9 0 1 0 -3.8 0zM575.19 71a1.9 1.9 0 1 0 3.8 0a1.9 1.9 0 1 0 -3.8 0zM576.37 71a1.9 1.9 0 1 0 3.8 0a1.9 1.9 0 1 0 -3.8 0zM577.55 71a1.9 1.9 0 1 0 3.8 0a1.9 1.9 0 1 0 -3.8 0zM578.73 71a1.9 1.9 0 1 0 3.8 0a1.9 1.9 0 1 0 -3.8 0zM579.91 71a1.9 1.9 0 1 0 3.8 0a1.9 1.9 0 1 0 -3.8 0zM581.09 71a1.9 1.9 0 1 0 3.8 0a1.9 1.9 0 1 0 -3.8 0zM582.27 71a1.9 1.9 0 1 0 3.8 0a1.9 1.9 0 1 0 -3.8 0zM583.45 71a1.9 1.9 0 1 0 3.8 0a1.9 1.9 0 1 0 -3.8 0zM584.63 71a1.9 1.9 0 1 0 3.8 0a1.9 1.9 0 1 0 -3.8 0zM585.81 71a1.9 1.9 0 1 0 3.8 0a1.9 1.9 0 1 0 -3.8 0zM586.99 71a1.9 1.9 0 1 0 3.8 0a1.9 1.9 0 1 0 -3.8 0zM588.17 71a1.9 1.9 0 1 0 3.8 0a1.9 1.9 0 1 0 -3.8 0zM589.35 71a1.9 1.9 0 1 0 3.8 0a1.9 1.9 0 1 0 -3.8 0zM590.53 71a1.9 1.9 0 1 0 3.8 0a1.9 1.9 0 1 0 -3.8 0zM591.71 71a1.9 1.9 0 1 0 3.8 0a1.9 1.9 0 1 0 -3.8 0zM592.89 71a1.9 1.9 0 1 0 3.8 0a1.9 1.9 0 1 0 -3.8 0zM594.07 71a1.9 1.9 0 1 0 3.8 0a1.9 1.9 0 1 0 -3.8 0zM595.25 71a1.9 1.9 0 1 0 3.8 0a1.9 1.9 0 1 0 -3.8 0zM596.43 71a1.9 1.9 0 1 0 3.8 0a1.9 1.9 0 1 0 -3.8 0zM597.61 71a1.9 1.9 0 1 0 3.8 0a1.9 1.9 0 1 0 -3.8 0zM598.79 71a1.9 1.9 0 1 0 3.8 0a1.9 1.9 0 1 0 -3.8 0zM599.97 71a1.9 1.9 0 1 0 3.8 0a1.9 1.9 0 1 0 -3.8 0zM601.15 71a1.9 1.9 0 1 0 3.8 0a1.9 1.9 0 1 0 -3.8 0zM602.34 71a1.9 1.9 0 1 0 3.8 0a1.9 1.9 0 1 0 -3.8 0zM603.52 71a1.9 1.9 0 1 0 3.8 0a1.9 1.9 0 1 0 -3.8 0zM604.7 71a1.9 1.9 0 1 0 3.8 0a1.9 1.9 0 1 0 -3.8 0zM605.88 71a1.9 1.9 0 1 0 3.8 0a1.9 1.9 0 1 0 -3.8 0zM607.06 71a1.9 1.9 0 1 0 3.8 0a1.9 1.9 0 1 0 -3.8 0zM608.24 71a1.9 1.9 0 1 0 3.8 0a1.9 1.9 0 1 0 -3.8 0zM609.42 71a1.9 1.9 0 1 0 3.8 0a1.9 1.9 0 1 0 -3.8 0zM610.6 71a1.9 1.9 0 1 0 3.8 0a1.9 1.9 0 1 0 -3.8 0zM611.78 71a1.9 1.9 0 1 0 3.8 0a1.9 1.9 0 1 0 -3.8 0zM612.96 71a1.9 1.9 0 1 0 3.8 0a1.9 1.9 0 1 0 -3.8 0zM614.14 71a1.9 1.9 0 1 0 3.8 0a1.9 1.9 0 1 0 -3.8 0zM615.32 71a1.9 1.9 0 1 0 3.8 0a1.9 1.9 0 1 0 -3.8 0zM616.5 71a1.9 1.9 0 1 0 3.8 0a1.9 1.9 0 1 0 -3.8 0zM617.68 71a1.9 1.9 0 1 0 3.8 0a1.9 1.9 0 1 0 -3.8 0zM618.86 71a1.9 1.9 0 1 0 3.8 0a1.9 1.9 0 1 0 -3.8 0zM620.04 71a1.9 1.9 0 1 0 3.8 0a1.9 1.9 0 1 0 -3.8 0zM621.22 71a1.9 1.9 0 1 0 3.8 0a1.9 1.9 0 1 0 -3.8 0zM622.4 71a1.9 1.9 0 1 0 3.8 0a1.9 1.9 0 1 0 -3.8 0zM623.58 71a1.9 1.9 0 1 0 3.8 0a1.9 1.9 0 1 0 -3.8 0zM624.76 71a1.9 1.9 0 1 0 3.8 0a1.9 1.9 0 1 0 -3.8 0zM625.94 71a1.9 1.9 0 1 0 3.8 0a1.9 1.9 0 1 0 -3.8 0zM627.12 71a1.9 1.9 0 1 0 3.8 0a1.9 1.9 0 1 0 -3.8 0zM628.3 71a1.9 1.9 0 1 0 3.8 0a1.9 1.9 0 1 0 -3.8 0zM629.48 71a1.9 1.9 0 1 0 3.8 0a1.9 1.9 0 1 0 -3.8 0zM630.66 71a1.9 1.9 0 1 0 3.8 0a1.9 1.9 0 1 0 -3.8 0zM631.84 71a1.9 1.9 0 1 0 3.8 0a1.9 1.9 0 1 0 -3.8 0zM633.02 71a1.9 1.9 0 1 0 3.8 0a1.9 1.9 0 1 0 -3.8 0zM634.2 71a1.9 1.9 0 1 0 3.8 0a1.9 1.9 0 1 0 -3.8 0zM635.38 71a1.9 1.9 0 1 0 3.8 0a1.9 1.9 0 1 0 -3.8 0zM636.56 71a1.9 1.9 0 1 0 3.8 0a1.9 1.9 0 1 0 -3.8 0zM637.74 71a1.9 1.9 0 1 0 3.8 0a1.9 1.9 0 1 0 -3.8 0zM638.92 71a1.9 1.9 0 1 0 3.8 0a1.9 1.9 0 1 0 -3.8 0zM640.1 71a1.9 1.9 0 1 0 3.8 0a1.9 1.9 0 1 0 -3.8 0zM641.28 71a1.9 1.9 0 1 0 3.8 0a1.9 1.9 0 1 0 -3.8 0zM642.47 71a1.9 1.9 0 1 0 3.8 0a1.9 1.9 0 1 0 -3.8 0zM643.65 71a1.9 1.9 0 1 0 3.8 0a1.9 1.9 0 1 0 -3.8 0zM644.83 71a1.9 1.9 0 1 0 3.8 0a1.9 1.9 0 1 0 -3.8 0zM646.01 71a1.9 1.9 0 1 0 3.8 0a1.9 1.9 0 1 0 -3.8 0zM647.19 71a1.9 1.9 0 1 0 3.8 0a1.9 1.9 0 1 0 -3.8 0zM648.37 71a1.9 1.9 0 1 0 3.8 0a1.9 1.9 0 1 0 -3.8 0zM649.55 71a1.9 1.9 0 1 0 3.8 0a1.9 1.9 0 1 0 -3.8 0zM650.73 71a1.9 1.9 0 1 0 3.8 0a1.9 1.9 0 1 0 -3.8 0zM651.91 71a1.9 1.9 0 1 0 3.8 0a1.9 1.9 0 1 0 -3.8 0zM653.09 71a1.9 1.9 0 1 0 3.8 0a1.9 1.9 0 1 0 -3.8 0zM654.27 71a1.9 1.9 0 1 0 3.8 0a1.9 1.9 0 1 0 -3.8 0zM655.45 71a1.9 1.9 0 1 0 3.8 0a1.9 1.9 0 1 0 -3.8 0zM656.63 71a1.9 1.9 0 1 0 3.8 0a1.9 1.9 0 1 0 -3.8 0zM657.81 71a1.9 1.9 0 1 0 3.8 0a1.9 1.9 0 1 0 -3.8 0zM658.99 71a1.9 1.9 0 1 0 3.8 0a1.9 1.9 0 1 0 -3.8 0zM660.17 71a1.9 1.9 0 1 0 3.8 0a1.9 1.9 0 1 0 -3.8 0zM661.35 71a1.9 1.9 0 1 0 3.8 0a1.9 1.9 0 1 0 -3.8 0z" fill="none" stroke="#000000" stroke-width="2.0"/>
<path d="M74.28 379.8L75.46 374.76L76.64 369.72L77.82 364.68L79 359.63L80.18 354.59L81.36 349.55L82.54 344.51L83.72 339.47L84.9 334.43L86.08 329.38L87.26 324.34L88.44 319.3L89.62 314.26L90.8 309.22L91.98 304.18L93.17 299.13L94.35 294.09L95.53 289.05L96.71 284.01L97.89 278.97L99.07 273.93L100.25 268.88L101.43 263.84L102.61 258.8L103.79 253.76L104.97 248.72L106.15 243.68L107.33 238.63L108.51 233.59L109.69 228.55L110.87 223.51L112.05 218.47L113.23 213.43L114.41 208.38L115.59 203.34L116.77 198.3L117.95 193.26L119.13 188.22L120.31 183.18L121.49 178.13L122.67 173.09L123.85 168.05L125.03 163.01L126.21 157.97L127.39 152.93L128.57 147.88L129.75 142.84L130.93 137.8L132.11 132.76L133.3 71L663.25 71" fill="none" stroke="#0000FF" stroke-width="1.75" stroke-linejoin="round"/>
<path d="M71.98 377.5h4.6v4.6h-4.6zM73.16 372.46h4.6v4.6h-4.6zM74.34 367.42h4.6v4.6h-4.6zM75.52 362.38h4.6v4.6h-4.6zM76.7 357.33h4.6v4.6h-4.6zM77.88 352.29h4.6v4.6h-4.6zM79.06 347.25h4.6v4.6h-4.6zM80.24 342.21h4.6v4.6h-4.6zM81.42 337.17h4.6v4.6h-4.6zM82.6 332.13h4.6v4.6h-4.6zM83.78 327.08h4.6v4.6h-4.6zM84.96 322.04h4.6v4.6h-4.6zM86.14 317h4.6v4.6h-4.6zM87.32 311.96h4.6v4.6h-4.6zM88.5 306.92h4.6v4.6h-4.6zM89.68 301.88h4.6v4.6h-4.6zM90.87 296.83h4.6v4.6h-4.6zM92.05 291.79h4.6v4.6h-4.6zM93.23 286.75h4.6v4.6h-4.6zM94.41 281.71h4.6v4.6h-4.6zM95.59 276.67h4.6v4.6h-4.6zM96.77 271.63h4.6v4.6h-4.6zM97.95 266.58h4.6v4.6h-4.6zM99.13 261.54h4.6v4.6h-4.6zM100.31 256.5h4.6v4.6h-4.6zM101.49 251.46h4.6v4.6h-4.6zM102.67 246.42h4.6v4.6h-4.6zM103.85 241.38h4.6v4.6h-4.6zM105.03 236.33h4.6v4.6h-4.6zM106.21 231.29h4.6v4.6h-4.6zM107.39 226.25h4.6v4.6h-4.6zM108.57 221.21h4.6v4.6h-4.6zM109.75 216.17h4.6v4.6h-4.6zM110.93 211.13h4.6v4.6h-4.6zM112.11 206.08h4.6v4.6h-4.6zM113.29 201.04h4.6v4.6h-4.6zM114.47 196h4.6v4.6h-4.6zM115.65 190.96h4.6v4.6h-4.6zM116.83 185.92h4.6v4.6h-4.6zM118.01 180.88h4.6v4.6h-4.6zM119.19 175.83h4.6v4.6h-4.6zM120.37 170.79h4.6v4.6h-4.6zM121.55 165.75h4.6v4.6h-4.6zM122.73 160.71h4.6v4.6h-4.6zM123.91 155.67h4.6v4.6h-4.6zM125.09 150.63h4.6v4.6h-4.6zM126.27 145.58h4.6v4.6h-4.6zM127.45 140.54h4.6v4.6h-4.6zM128.63 135.5h4.6v4.6h-4.6zM129.81 130.46h4.6v4.6h-4.6zM131 68.7h4.6v4.6h-4.6zM132.18 68.7h4.6v4.6h-4.6zM133.36 68.7h4.6v4.6h-4.6zM134.54 68.7h4.6v4.6h-4.6zM135.72 68.7h4.6v4.6h-4.6zM136.9 68.7h4.6v4.6h-4.6zM138.08 68.7h4.6v4.6h-4.6zM139.26 68.7h4.6v4.6h-4.6zM140.44 68.7h4.6v4.6h-4.6zM141.62 68.7h4.6v4.6h-4.6zM142.8 68.7h4.6v4.6h-4.6zM143.98 68.7h4.6v4.6h-4.6zM145.16 68.7h4.6v4.6h-4.6zM146.34 68.7h4.6v4.6h-4.6zM147.52 68.7h4.6v4.6h-4.6zM148.7 68.7h4.6v4.6h-4.6zM149.88 68.7h4.6v4.6h-4.6zM151.06 68.7h4.6v4.6h-4.6zM152.24 68.7h4.6v4.6h-4.6zM153.42 68.7h4.6v4.6h-4.6zM154.6 68.7h4.6v4.6h-4.6zM155.78 68.7h4.6v4.6h-4.6zM156.96 68.7h4.6v4.6h-4.6zM158.14 68.7h4.6v4.6h-4.6zM159.32 68.7h4.6v4.6h-4.6zM160.5 68.7h4.6v4.6h-4.6zM161.68 68.7h4.6v4.6h-4.6zM162.86 68.7h4.6v4.6h-4.6zM164.04 68.7h4.6v4.6h-4.6zM165.22 68.7h4.6v4.6h-4.6zM166.4 68.7h4.6v4.6h-4.6zM167.58 68.7h4.6v4.6h-4.6zM168.76 68.7h4.6v4.6h-4.6zM169.95 68.7h4.6v4.6h-4.6zM171.13 68.7h4.6v4.6h-4.6zM172.31 68.7h4.6v4.6h-4.6zM173.49 68.7h4.6v4.6h-4.6zM174.67 68.7h4.6v4.6h-4.6zM175.85 68.7h4.6v4.6h-4.6zM177.03 68.7h4.6v4.6h-4.6zM178.21 68.7h4.6v4.6h-4.6zM179.39 68.7h4.6v4.6h-4.6zM180.57 68.7h4.6v4.6h-4.6zM181.75 68.7h4.6v4.6h-4.6zM182.93 68.7h4.6v4.6h-4.6zM184.11 68.7h4.6v4.6h-4.6zM185.29 68.7h4.6v4.6h-4.6zM186.47 68.7h4.6v4.6h-4.6zM187.65 68.7h4.6v4.6h-4.6zM188.83 68.7h4.6v4.6h-4.6zM190.01 68.7h4.6v4.6h-4.6zM191.19 68.7h4.6v4.6h-4.6zM192.37 68.7h4.6v4.6h-4.6zM193.55 68.7h4.6v4.6h-4.6zM194.73 68.7h4.6v4.6h-4.6zM195.91 68.7h4.6v4.6h-4.6zM197.09 68.7h4.6v4.6h-4.6zM198.27 68.7h4.6v4.6h-4.6zM199.45 68.7h4.6v4.6h-4.6zM200.63 68.7h4.6v4.6h-4.6zM201.81 68.7h4.6v4.6h-4.6zM202.99 68.7h4.6v4.6h-4.6zM204.17 68.7h4.6v4.6h-4.6zM205.35 68.7h4.6v4.6h-4.6zM206.53 68.7h4.6v4.6h-4.6zM207.71 68.7h4.6v4.6h-4.6zM208.9 68.7h4.6v4.6h-4.6zM210.08 68.7h4.6v4.6h-4.6zM211.26 68.7h4.6v4.6h-4.6zM212.44 68.7h4.6v4.6h-4.6zM213.62 68.7h4.6v4.6h-4.6zM214.8 68.7h4.6v4.6h-4.6zM215.98 68.7h4.6v4.6h-4.6zM217.16 68.7h4.6v4.6h-4.6zM218.34 68.7h4.6v4.6h-4.6zM219.52 68.7h4.6v4.6h-4.6zM220.7 68.7h4.6v4.6h-4.6zM221.88 68.7h4.6v4.6h-4.6zM223.06 68.7h4.6v4.6h-4.6zM224.24 68.7h4.6v4.6h-4.6zM225.42 68.7h4.6v4.6h-4.6zM226.6 68.7h4.6v4.6h-4.6zM227.78 68.7h4.6v4.6h-4.6zM228.96 68.7h4.6v4.6h-4.6zM230.14 68.7h4.6v4.6h-4.6zM231.32 68.7h4.6v4.6h-4.6zM232.5 68.7h4.6v4.6h-4.6zM233.68 68.7h4.6v4.6h-4.6zM234.86 68.7h4.6v4.6h-4.6zM236.04 68.7h4.6v4.6h-4.6zM237.22 68.7h4.6v4.6h-4.6zM238.4 68.7h4.6v4.6h-4.6zM239.58 68.7h4.6v4.6h-4.6zM240.76 68.7h4.6v4.6h-4.6zM241.94 68.7h4.6v4.6h-4.6zM243.12 68.7h4.6v4.6h-4.6zM244.3 68.7h4.6v4.6h-4.6zM245.48 68.7h4.6v4.6h-4.6zM246.66 68.7h4.6v4.6h-4.6zM247.84 68.7h4.6v4.6h-4.6zM249.03 68.7h4.6v4.6h-4.6zM250.21 68.7h4.6v4.6h-4.6zM251.39 68.7h4.6v4.6h-4.6zM252.57 68.7h4.6v4.6h-4.6zM253.75 68.7h4.6v4.6h-4.6zM254.93 68.7h4.6v4.6h-4.6zM256.11 68.7h4.6v4.6h-4.6zM257.29 68.7h4.6v4.6h-4.6zM258.47 68.7h4.6v4.6h-4.6zM259.65 68.7h4.6v4.6h-4.6zM260.83 68.7h4.6v4.6h-4.6zM262.01 68.7h4.6v4.6h-4.6zM263.19 68.7h4.6v4.6h-4.6zM264.37 68.7h4.6v4.6h-4.6zM265.55 68.7h4.6v4.6h-4.6zM266.73 68.7h4.6v4.6h-4.6zM267.91 68.7h4.6v4.6h-4.6zM269.09 68.7h4.6v4.6h-4.6zM270.27 68.7h4.6v4.6h-4.6zM271.45 68.7h4.6v4.6h-4.6zM272.63 68.7h4.6v4.6h-4.6zM273.81 68.7h4.6v4.6h-4.6zM274.99 68.7h4.6v4.6h-4.6zM276.17 68.7h4.6v4.6h-4.6zM277.35 68.7h4.6v4.6h-4.6zM278.53 68.7h4.6v4.6h-4.6zM279.71 68.7h4.6v4.6h-4.6zM280.89 68.7h4.6v4.6h-4.6zM282.07 68.7h4.6v4.6h-4.6zM283.25 68.7h4.6v4.6h-4.6zM284.43 68.7h4.6v4.6h-4.6zM285.61 68.7h4.6v4.6h-4.6zM286.79 68.7h4.6v4.6h-4.6zM287.98 68.7h4.6v4.6h-4.6zM289.16 68.7h4.6v4.6h-4.6zM290.34 68.7h4.6v4.6h-4.6zM291.52 68.7h4.6v4.6h-4.6zM292.7 68.7h4.6v4.6h-4.6zM293.88 68.7h4.6v4.6h-4.6zM295.06 68.7h4.6v4.6h-4.6zM296.24 68.7h4.6v4.6h-4.6zM297.42 68.7h4.6v4.6h-4.6zM298.6 68.7h4.6v4.6h-4.6zM299.78 68.7h4.6v4.6h-4.6zM300.96 68.7h4.6v4.6h-4.6zM302.14 68.7h4.6v4.6h-4.6zM303.32 68.7h4.6v4.6h-4.6zM304.5 68.7h4.6v4.6h-4.6zM305.68 68.7h4.6v4.6h-4.6zM306.86 68.7h4.6v4.6h-4.6zM308.04 68.7h4.6v4.6h-4.6zM309.22 68.7h4.6v4.6h-4.6zM310.4 68.7h4.6v4.6h-4.6zM311.58 68.7h4.6v4.6h-4.6zM312.76 68.7h4.6v4.6h-4.6zM313.94 68.7h4.6v4.6h-4.6zM315.12 68.7h4.6v4.6h-4.6zM316.3 68.7h4.6v4.6h-4.6zM317.48 68.7h4.6v4.6h-4.6zM318.66 68.7h4.6v4.6h-4.6zM319.84 68.7h4.6v4.6h-4.6zM321.02 68.7h4.6v4.6h-4.6zM322.2 68.7h4.6v4.6h-4.6zM323.38 68.7h4.6v4.6h-4.6zM324.56 68.7h4.6v4.6h-4.6zM325.74 68.7h4.6v4.6h-4.6zM326.93 68.7h4.6v4.6h-4.6zM328.11 68.7h4.6v4.6h-4.6zM329.29 68.7h4.6v4.6h-4.6zM330.47 68.7h4.6v4.6h-4.6zM331.65 68.7h4.6v4.6h-4.6zM332.83 68.7h4.6v4.6h-4.6zM334.01 68.7h4.6v4.6h-4.6zM335.19 68.7h4.6v4.6h-4.6zM336.37 68.7h4.6v4.6h-4.6zM337.55 68.7h4.6v4.6h-4.6zM338.73 68.7h4.6v4.6h-4.6zM339.91 68.7h4.6v4.6h-4.6zM341.09 68.7h4.6v4.6h-4.6zM342.27 68.7h4.6v4.6h-4.6zM343.45 68.7h4.6v4.6h-4.6zM344.63 68.7h4.6v4.6h-4.6zM345.81 68.7h4.6v4.6h-4.6zM346.99 68.7h4.6v4.6h-4.6zM348.17 68.7h4.6v4.6h-4.6zM349.35 68.7h4.6v4.6h-4.6zM350.53 68.7h4.6v4.6h-4.6zM351.71 68.7h4.6v4.6h-4.6zM352.89 68.7h4.6v4.6h-4.6zM354.07 68.7h4.6v4.6h-4.6zM355.25 68.7h4.6v4.6h-4.6zM356.43 68.7h4.6v4.6h-4.6zM357.61 68.7h4.6v4.6h-4.6zM358.79 68.7h4.6v4.6h-4.6zM359.97 68.7h4.6v4.6h-4.6zM361.15 68.7h4.6v4.6h-4.6zM362.33 68.7h4.6v4.6h-4.6zM363.51 68.7h4.6v4.6h-4.6zM364.69 68.7h4.6v4.6h-4.6zM365.87 68.7h4.6v4.6h-4.6zM367.06 68.7h4.6v4.6h-4.6zM368.24 68.7h4.6v4.6h-4.6zM369.42 68.7h4.6v4.6h-4.6zM370.6 68.7h4.6v4.6h-4.6zM371.78 68.7h4.6v4.6h-4.6zM372.96 68.7h4.6v4.6h-4.6zM374.14 68.7h4.6v4.6h-4.6zM375.32 68.7h4.6v4.6h-4.6zM376.5 68.7h4.6v4.6h-4.6zM377.68 68.7h4.6v4.6h-4.6zM378.86 68.7h4.6v4.6h-4.6zM380.04 68.7h4.6v4.6h-4.6zM381.22 68.7h4.6v4.6h-4.6zM382.4 68.7h4.6v4.6h-4.6zM383.58 68.7h4.6v4.6h-4.6zM384.76 68.7h4.6v4.6h-4.6zM385.94 68.7h4.6v4.6h-4.6zM387.12 68.7h4.6v4.6h-4.6zM388.3 68.7h4.6v4.6h-4.6zM389.48 68.7h4.6v4.6h-4.6zM390.66 68.7h4.6v4.6h-4.6zM391.84 68.7h4.6v4.6h-4.6zM393.02 68.7h4.6v4.6h-4.6zM394.2 68.7h4.6v4.6h-4.6zM395.38 68.7h4.6v4.6h-4.6zM396.56 68.7h4.6v4.6h-4.6zM397.74 68.7h4.6v4.6h-4.6zM398.92 68.7h4.6v4.6h-4.6zM400.1 68.7h4.6v4.6h-4.6zM401.28 68.7h4.6v4.6h-4.6zM402.46 68.7h4.6v4.6h-4.6zM403.64 68.7h4.6v4.6h-4.6zM404.82 68.7h4.6v4.6h-4.6zM406.01 68.7h4.6v4.6h-4.6zM407.19 68.7h4.6v4.6h-4.6zM408.37 68.7h4.6v4.6h-4.6zM409.55 68.7h4.6v4.6h-4.6zM410.73 68.7h4.6v4.6h-4.6zM411.91 68.7h4.6v4.6h-4.6zM413.09 68.7h4.6v4.6h-4.6zM414.27 68.7h4.6v4.6h-4.6zM415.45 68.7h4.6v4.6h-4.6zM416.63 68.7h4.6v4.6h-4.6zM417.81 68.7h4.6v4.6h-4.6zM418.99 68.7h4.6v4.6h-4.6zM420.17 68.7h4.6v4.6h-4.6zM421.35 68.7h4.6v4.6h-4.6zM422.53 68.7h4.6v4.6h-4.6zM423.71 68.7h4.6v4.6h-4.6zM424.89 68.7h4.6v4.6h-4.6zM426.07 68.7h4.6v4.6h-4.6zM427.25 68.7h4.6v4.6h-4.6zM428.43 68.7h4.6v4.6h-4.6zM429.61 68.7h4.6v4.6h-4.6zM430.79 68.7h4.6v4.6h-4.6zM431.97 68.7h4.6v4.6h-4.6zM433.15 68.7h4.6v4.6h-4.6zM434.33 68.7h4.6v4.6h-4.6zM435.51 68.7h4.6v4.6h-4.6zM436.69 68.7h4.6v4.6h-4.6zM437.87 68.7h4.6v4.6h-4.6zM439.05 68.7h4.6v4.6h-4.6zM440.23 68.7h4.6v4.6h-4.6zM441.41 68.7h4.6v4.6h-4.6zM442.59 68.7h4.6v4.6h-4.6zM443.77 68.7h4.6v4.6h-4.6zM444.96 68.7h4.6v4.6h-4.6zM446.14 68.7h4.6v4.6h-4.6zM447.32 68.7h4.6v4.6h-4.6zM448.5 68.7h4.6v4.6h-4.6zM449.68 68.7h4.6v4.6h-4.6zM450.86 68.7h4.6v4.6h-4.6zM452.04 68.7h4.6v4.6h-4.6zM453.22 68.7h4.6v4.6h-4.6zM454.4 68.7h4.6v4.6h-4.6zM455.58 68.7h4.6v4.6h-4.6zM456.76 68.7h4.6v4.6h-4.6zM457.94 68.7h4.6v4.6h-4.6zM459.12 68.7h4.6v4.6h-4.6zM460.3 68.7h4.6v4.6h-4.6zM461.48 68.7h4.6v4.6h-4.6zM462.66 68.7h4.6v4.6h-4.6zM463.84 68.7h4.6v4.6h-4.6zM465.02 68.7h4.6v4.6h-4.6zM466.2 68.7h4.6v4.6h-4.6zM467.38 68.7h4.6v4.6h-4.6zM468.56 68.7h4.6v4.6h-4.6zM469.74 68.7h4.6v4.6h-4.6zM470.92 68.7h4.6v4.6h-4.6zM472.1 68.7h4.6v4.6h-4.6zM473.28 68.7h4.6v4.6h-4.6zM474.46 68.7h4.6v4.6h-4.6zM475.64 68.7h4.6v4.6h-4.6zM476.82 68.7h4.6v4.6h-4.6zM478 68.7h4.6v4.6h-4.6zM479.18 68.7h4.6v4.6h-4.6zM480.36 68.7h4.6v4.6h-4.6zM481.54 68.7h4.6v4.6h-4.6zM482.72 68.7h4.6v4.6h-4.6zM483.9 68.7h4.6v4.6h-4.6zM485.09 68.7h4.6v4.6h-4.6zM486.27 68.7h4.6v4.6h-4.6zM487.45 68.7h4.6v4.6h-4.6zM488.63 68.7h4.6v4.6h-4.6zM489.81 68.7h4.6v4.6h-4.6zM490.99 68.7h4.6v4.6h-4.6zM492.17 68.7h4.6v4.6h-4.6zM493.35 68.7h4.6v4.6h-4.6zM494.53 68.7h4.6v4.6h-4.6zM495.71 68.7h4.6v4.6h-4.6zM496.89 68.7h4.6v4.6h-4.6zM498.07 68.7h4.6v4.6h-4.6zM499.25 68.7h4.6v4.6h-4.6zM500.43 68.7h4.6v4.6h-4.6zM501.61 68.7h4.6v4.6h-4.6zM502.79 68.7h4.6v4.6h-4.6zM503.97 68.7h4.6v4.6h-4.6zM505.15 68.7h4.6v4.6h-4.6zM506.33 68.7h4.6v4.6h-4.6zM507.51 68.7h4.6v4.6h-4.6zM508.69 68.7h4.6v4.6h-4.6zM509.87 68.7h4.6v4.6h-4.6zM511.05 68.7h4.6v4.6h-4.6zM512.23 68.7h4.6v4.6h-4.6zM513.41 68.7h4.6v4.6h-4.6zM514.59 68.7h4.6v4.6h-4.6zM515.77 68.7h4.6v4.6h-4.6zM516.95 68.7h4.6v4.6h-4.6zM518.13 68.7h4.6v4.6h-4.6zM519.31 68.7h4.6v4.6h-4.6zM520.49 68.7h4.6v4.6h-4.6zM521.67 68.7h4.6v4.6h-4.6zM522.85 68.7h4.6v4.6h-4.6zM524.04 68.7h4.6v4.6h-4.6zM525.22 68.7h4.6v4.6h-4.6zM526.4 68.7h4.6v4.6h-4.6zM527.58 68.7h4.6v4.6h-4.6zM528.76 68.7h4.6v4.6h-4.6zM529.94 68.7h4.6v4.6h-4.6zM531.12 68.7h4.6v4.6h-4.6zM532.3 68.7h4.6v4.6h-4.6zM533.48 68.7h4.6v4.6h-4.6zM534.66 68.7h4.6v4.6h-4.6zM535.84 68.7h4.6v4.6h-4.6zM537.02 68.7h4.6v4.6h-4.6zM538.2 68.7h4.6v4.6h-4.6zM539.38 68.7h4.6v4.6h-4.6zM540.56 68.7h4.6v4.6h-4.6zM541.74 68.7h4.6v4.6h-4.6zM542.92 68.7h4.6v4.6h-4.6zM544.1 68.7h4.6v4.6h-4.6zM545.28 68.7h4.6v4.6h-4.6zM546.46 68.7h4.6v4.6h-4.6zM547.64 68.7h4.6v4.6h-4.6zM548.82 68.7h4.6v4.6h-4.6zM550 68.7h4.6v4.6h-4.6zM551.18 68.7h4.6v4.6h-4.6zM552.36 68.7h4.6v4.6h-4.6zM553.54 68.7h4.6v4.6h-4.6zM554.72 68.7h4.6v4.6h-4.6zM555.9 68.7h4.6v4.6h-4.6zM557.08 68.7h4.6v4.6h-4.6zM558.26 68.7h4.6v4.6h-4.6zM559.44 68.7h4.6v4.6h-4.6zM560.62 68.7h4.6v4.6h-4.6zM561.8 68.7h4.6v4.6h-4.6zM562.99 68.7h4.6v4.6h-4.6zM564.17 68.7h4.6v4.6h-4.6zM565.35 68.7h4.6v4.6h-4.6zM566.53 68.7h4.6v4.6h-4.6zM567.71 68.7h4.6v4.6h-4.6zM568.89 68.7h4.6v4.6h-4.6zM570.07 68.7h4.6v4.6h-4.6zM571.25 68.7h4.6v4.6h-4.6zM572.43 68.7h4.6v4.6h-4.6zM573.61 68.7h4.6v4.6h-4.6zM574.79 68.7h4.6v4.6h-4.6zM575.97 68.7h4.6v4.6h-4.6zM577.15 68.7h4.6v4.6h-4.6zM578.33 68.7h4.6v4.6h-4.6zM579.51 68.7h4.6v4.6h-4.6zM580.69 68.7h4.6v4.6h-4.6zM581.87 68.7h4.6v4.6h-4.6zM583.05 68.7h4.6v4.6h-4.6zM584.23 68.7h4.6v4.6h-4.6zM585.41 68.7h4.6v4.6h-4.6zM586.59 68.7h4.6v4.6h-4.6zM587.77 68.7h4.6v4.6h-4.6zM588.95 68.7h4.6v4.6h-4.6zM590.13 68.7h4.6v4.6h-4.6zM591.31 68.7h4.6v4.6h-4.6zM592.49 68.7h4.6v4.6h-4.6zM593.67 68.7h4.6v4.6h-4.6zM594.85 68.7h4.6v4.6h-4.6zM596.03 68.7h4.6v4.6h-4.6zM597.21 68.7h4.6v4.6h-4.6zM598.39 68.7h4.6v4.6h-4.6zM599.57 68.7h4.6v4.6h-4.6zM600.75 68.7h4.6v4.6h-4.6zM601.94 68.7h4.6v4.6h-4.6zM603.12 68.7h4.6v4.6h-4.6zM604.3 68.7h4.6v4.6h-4.6zM605.48 68.7h4.6v4.6h-4.6zM606.66 68.7h4.6v4.6h-4.6zM607.84 68.7h4.6v4.6h-4.6zM609.02 68.7h4.6v4.6h-4.6zM610.2 68.7h4.6v4.6h-4.6zM611.38 68.7h4.6v4.6h-4.6zM612.56 68.7h4.6v4.6h-4.6zM613.74 68.7h4.6v4.6h-4.6zM614.92 68.7h4.6v4.6h-4.6zM616.1 68.7h4.6v4.6h-4.6zM617.28 68.7h4.6v4.6h-4.6zM618.46 68.7h4.6v4.6h-4.6zM619.64 68.7h4.6v4.6h-4.6zM620.82 68.7h4.6v4.6h-4.6zM622 68.7h4.6v4.6h-4.6zM623.18 68.7h4.6v4.6h-4.6zM624.36 68.7h4.6v4.6h-4.6zM625.54 68.7h4.6v4.6h-4.6zM626.72 68.7h4.6v4.6h-4.6zM627.9 68.7h4.6v4.6h-4.6zM629.08 68.7h4.6v4.6h-4.6zM630.26 68.7h4.6v4.6h-4.6zM631.44 68.7h4.6v4.6h-4.6zM632.62 68.7h4.6v4.6h-4.6zM633.8 68.7h4.6v4.6h-4.6zM634.98 68.7h4.6v4.6h-4.6zM636.16 68.7h4.6v4.6h-4.6zM637.34 68.7h4.6v4.6h-4.6zM638.52 68.7h4.6v4.6h-4.6zM639.7 68.7h4.6v4.6h-4.6zM640.88 68.7h4.6v4.6h-4.6zM642.07 68.7h4.6v4.6h-4.6zM643.25 68.7h4.6v4.6h-4.6zM644.43 68.7h4.6v4.6h-4.6zM645.61 68.7h4.6v4.6h-4.6zM646.79 68.7h4.6v4.6h-4.6zM647.97 68.7h4.6v4.6h-4.6zM649.15 68.7h4.6v4.6h-4.6zM650.33 68.7h4.6v4.6h-4.6zM651.51 68.7h4.6v4.6h-4.6zM652.69 68.7h4.6v4.6h-4.6zM653.87 68.7h4.6v4.6h-4.6zM655.05 68.7h4.6v4.6h-4.6zM656.23 68.7h4.6v4.6h-4.6zM657.41 68.7h4.6v4.6h-4.6zM658.59 68.7h4.6v4.6h-4.6zM659.77 68.7h4.6v4.6h-4.6zM660.95 68.7h4.6v4.6h-4.6z" fill="#0000FF"/>
<path d="M74.28 379.8L75.46 374.13L76.64 368.46L77.82 362.78L79 357.11L80.18 351.44L81.36 345.77L82.54 340.1L83.72 334.43L84.9 328.75L86.08 323.08L87.26 317.41L88.44 311.74L89.62 306.07L90.8 300.39L91.98 294.72L93.17 289.05L94.35 283.38L95.53 277.71L96.71 272.04L97.89 266.36L99.07 260.69L100.25 255.02L101.43 249.35L102.61 243.68L103.79 238L104.97 232.33L106.15 226.66L107.33 220.99L108.51 215.32L109.69 209.64L110.87 203.97L112.05 198.3L113.23 192.63L114.41 186.96L115.59 181.29L116.77 175.61L117.95 169.94L119.13 164.27L120.31 158.6L121.49 152.93L122.67 147.25L123.85 141.58L125.03 135.91L126.21 130.24L127.39 124.57L128.57 118.9L129.75 113.22L130.93 107.55L132.11 101.88L133.3 71L663.25 71" fill="none" stroke="#00FF00" stroke-width="1.75" stroke-linejoin="round"/>
<path d="M74.28 376.5l2.5 3.3l-2.5 3.3l-2.5 -3.3zM75.46 370.83l2.5 3.3l-2.5 3.3l-2.5 -3.3zM76.64 365.16l2.5 3.3l-2.5 3.3l-2.5 -3.3zM77.82 359.48l2.5 3.3l-2.5 3.3l-2.5 -3.3zM79 353.81l2.5 3.3l-2.5 3.3l-2.5 -3.3zM80.18 348.14l2.5 3.3l-2.5 3.3l-2.5 -3.3zM81.36 342.47l2.5 3.3l-2.5 3.3l-2.5 -3.3zM82.54 336.8l2.5 3.3l-2.5 3.3l-2.5 -3.3zM83.72 331.13l2.5 3.3l-2.5 3.3l-2.5 -3.3zM84.9 325.45l2.5 3.3l-2.5 3.3l-2.5 -3.3zM86.08 319.78l2.5 3.3l-2.5 3.3l-2.5 -3.3zM87.26 314.11l2.5 3.3l-2.5 3.3l-2.5 -3.3zM88.44 308.44l2.5 3.3l-2.5 3.3l-2.5 -3.3zM89.62 302.77l2.5 3.3l-2.5 3.3l-2.5 -3.3zM90.8 297.09l2.5 3.3l-2.5 3.3l-2.5 -3.3zM91.98 291.42l2.5 3.3l-2.5 3.3l-2.5 -3.3zM93.17 285.75l2.5 3.3l-2.5 3.3l-2.5 -3.3zM94.35 280.08l2.5 3.3l-2.5 3.3l-2.5 -3.3zM95.53 274.41l2.5 3.3l-2.5 3.3l-2.5 -3.3zM96.71 268.74l2.5 3.3l-2.5 3.3l-2.5 -3.3zM97.89 263.06l2.5 3.3l-2.5 3.3l-2.5 -3.3zM99.07 257.39l2.5 3.3l-2.5 3.3l-2.5 -3.3zM100.25 251.72l2.5 3.3l-2.5 3.3l-2.5 -3.3zM101.43 246.05l2.5 3.3l-2.5 3.3l-2.5 -3.3zM102.61 240.38l2.5 3.3l-2.5 3.3l-2.5 -3.3zM103.79 234.7l2.5 3.3l-2.5 3.3l-2.5 -3.3zM104.97 229.03l2.5 3.3l-2.5 3.3l-2.5 -3.3zM106.15 223.36l2.5 3.3l-2.5 3.3l-2.5 -3.3zM107.33 217.69l2.5 3.3l-2.5 3.3l-2.5 -3.3zM108.51 212.02l2.5 3.3l-2.5 3.3l-2.5 -3.3zM109.69 206.34l2.5 3.3l-2.5 3.3l-2.5 -3.3zM110.87 200.67l2.5 3.3l-2.5 3.3l-2.5 -3.3zM112.05 195l2.5 3.3l-2.5 3.3l-2.5 -3.3zM113.23 189.33l2.5 3.3l-2.5 3.3l-2.5 -3.3zM114.41 183.66l2.5 3.3l-2.5 3.3l-2.5 -3.3zM115.59 177.99l2.5 3.3l-2.5 3.3l-2.5 -3.3zM116.77 172.31l2.5 3.3l-2.5 3.3l-2.5 -3.3zM117.95 166.64l2.5 3.3l-2.5 3.3l-2.5 -3.3zM119.13 160.97l2.5 3.3l-2.5 3.3l-2.5 -3.3zM120.31 155.3l2.5 3.3l-2.5 3.3l-2.5 -3.3zM121.49 149.63l2.5 3.3l-2.5 3.3l-2.5 -3.3zM122.67 143.95l2.5 3.3l-2.5 3.3l-2.5 -3.3zM123.85 138.28l2.5 3.3l-2.5 3.3l-2.5 -3.3zM125.03 132.61l2.5 3.3l-2.5 3.3l-2.5 -3.3zM126.21 126.94l2.5 3.3l-2.5 3.3l-2.5 -3.3zM127.39 121.27l2.5 3.3l-2.5 3.3l-2.5 -3.3zM128.57 115.6l2.5 3.3l-2.5 3.3l-2.5 -3.3zM129.75 109.92l2.5 3.3l-2.5 3.3l-2.5 -3.3zM130.93 104.25l2.5 3.3l-2.5 3.3l-2.5 -3.3zM132.11 98.58l2.5 3.3l-2.5 3.3l-2.5 -3.3zM133.3 67.7l2.5 3.3l-2.5 3.3l-2.5 -3.3zM134.48 67.7l2.5 3.3l-2.5 3.3l-2.5 -3.3zM135.66 67.7l2.5 3.3l-2.5 3.3l-2.5 -3.3zM136.84 67.7l2.5 3.3l-2.5 3.3l-2.5 -3.3zM138.02 67.7l2.5 3.3l-2.5 3.3l-2.5 -3.3zM139.2 67.7l2.5 3.3l-2.5 3.3l-2.5 -3.3zM140.38 67.7l2.5 3.3l-2.5 3.3l-2.5 -3.3zM141.56 67.7l2.5 3.3l-2.5 3.3l-2.5 -3.3zM142.74 67.7l2.5 3.3l-2.5 3.3l-2.5 -3.3zM143.92 67.7l2.5 3.3l-2.5 3.3l-2.5 -3.3zM145.1 67.7l2.5 3.3l-2.5 3.3l-2.5 -3.3zM146.28 67.7l2.5 3.3l-2.5 3.3l-2.5 -3.3zM147.46 67.7l2.5 3.3l-2.5 3.3l-2.5 -3.3zM148.64 67.7l2.5 3.3l-2.5 3.3l-2.5 -3.3zM149.82 67.7l2.5 3.3l-2.5 3.3l-2.5 -3.3zM151 67.7l2.5 3.3l-2.5 3.3l-2.5 -3.3zM152.18 67.7l2.5 3.3l-2.5 3.3l-2.5 -3.3zM153.36 67.7l2.5 3.3l-2.5 3.3l-2.5 -3.3zM154.54 67.7l2.5 3.3l-2.5 3.3l-2.5 -3.3zM155.72 67.7l2.5 3.3l-2.5 3.3l-2.5 -3.3zM156.9 67.7l2.5 3.3l-2.5 3.3l-2.5 -3.3zM158.08 67.7l2.5 3.3l-2.5 3.3l-2.5 -3.3zM159.26 67.7l2.5 3.3l-2.5 3.3l-2.5 -3.3zM160.44 67.7l2.5 3.3l-2.5 3.3l-2.5 -3.3zM161.62 67.7l2.5 3.3l-2.5 3.3l-2.5 -3.3zM162.8 67.7l2.5 3.3l-2.5 3.3l-2.5 -3.3zM163.98 67.7l2.5 3.3l-2.5 3.3l-2.5 -3.3zM165.16 67.7l2.5 3.3l-2.5 3.3l-2.5 -3.3zM166.34 67.7l2.5 3.3l-2.5 3.3l-2.5 -3.3zM167.52 67.7l2.5 3.3l-2.5 3.3l-2.5 -3.3zM168.7 67.7l2.5 3.3l-2.5 3.3l-2.5 -3.3zM169.88 67.7l2.5 3.3l-2.5 3.3l-2.5 -3.3zM171.06 67.7l2.5 3.3l-2.5 3.3l-2.5 -3.3zM172.25 67.7l2.5 3.3l-2.5 3.3l-2.5 -3.3zM173.43 67.7l2.5 3.3l-2.5 3.3l-2.5 -3.3zM174.61 67.7l2.5 3.3l-2.5 3.3l-2.5 -3.3zM175.79 67.7l2.5 3.3l-2.5 3.3l-2.5 -3.3zM176.97 67.7l2.5 3.3l-2.5 3.3l-2.5 -3.3zM178.15 67.7l2.5 3.3l-2.5 3.3l-2.5 -3.3zM179.33 67.7l2.5 3.3l-2.5 3.3l-2.5 -3.3zM180.51 67.7l2.5 3.3l-2.5 3.3l-2.5 -3.3zM181.69 67.7l2.5 3.3l-2.5 3.3l-2.5 -3.3zM182.87 67.7l2.5 3.3l-2.5 3.3l-2.5 -3.3zM184.05 67.7l2.5 3.3l-2.5 3.3l-2.5 -3.3zM185.23 67.7l2.5 3.3l-2.5 3.3l-2.5 -3.3zM186.41 67.7l2.5 3.3l-2.5 3.3l-2.5 -3.3zM187.59 67.7l2.5 3.3l-2.5 3.3l-2.5 -3.3zM188.77 67.7l2.5 3.3l-2.5 3.3l-2.5 -3.3zM189.95 67.7l2.5 3.3l-2.5 3.3l-2.5 -3.3zM191.13 67.7l2.5 3.3l-2.5 3.3l-2.5 -3.3zM192.31 67.7l2.5 3.3l-2.5 3.3l-2.5 -3.3zM193.49 67.7l2.5 3.3l-2.5 3.3l-2.5 -3.3zM194.67 67.7l2.5 3.3l-2.5 3.3l-2.5 -3.3zM195.85 67.7l2.5 3.3l-2.5 3.3l-2.5 -3.3zM197.03 67.7l2.5 3.3l-2.5 3.3l-2.5 -3.3zM198.21 67.7l2.5 3.3l-2.5 3.3l-2.5 -3.3zM199.39 67.7l2.5 3.3l-2.5 3.3l-2.5 -3.3zM200.57 67.7l2.5 3.3l-2.5 3.3l-2.5 -3.3zM201.75 67.7l2.5 3.3l-2.5 3.3l-2.5 -3.3zM202.93 67.7l2.5 3.3l-2.5 3.3l-2.5 -3.3zM204.11 67.7l2.5 3.3l-2.5 3.3l-2.5 -3.3zM205.29 67.7l2.5 3.3l-2.5 3.3l-2.5 -3.3zM206.47 67.7l2.5 3.3l-2.5 3.3l-2.5 -3.3zM207.65 67.7l2.5 3.3l-2.5 3.3l-2.5 -3.3zM208.83 67.7l2.5 3.3l-2.5 3.3l-2.5 -3.3zM210.01 67.7l2.5 3.3l-2.5 3.3l-2.5 -3.3zM211.2 67.7l2.5 3.3l-2.5 3.3l-2.5 -3.3zM212.38 67.7l2.5 3.3l-2.5 3.3l-2.5 -3.3zM213.56 67.7l2.5 3.3l-2.5 3.3l-2.5 -3.3zM214.74 67.7l2.5 3.3l-2.5 3.3l-2.5 -3.3zM215.92 67.7l2.5 3.3l-2.5 3.3l-2.5 -3.3zM217.1 67.7l2.5 3.3l-2.5 3.3l-2.5 -3.3zM218.28 67.7l2.5 3.3l-2.5 3.3l-2.5 -3.3zM219.46 67.7l2.5 3.3l-2.5 3.3l-2.5 -3.3zM220.64 67.7l2.5 3.3l-2.5 3.3l-2.5 -3.3zM221.82 67.7l2.5 3.3l-2.5 3.3l-2.5 -3.3zM223 67.7l2.5 3.3l-2.5 3.3l-2.5 -3.3zM224.18 67.7l2.5 3.3l-2.5 3.3l-2.5 -3.3zM225.36 67.7l2.5 3.3l-2.5 3.3l-2.5 -3.3zM226.54 67.7l2.5 3.3l-2.5 3.3l-2.5 -3.3zM227.72 67.7l2.5 3.3l-2.5 3.3l-2.5 -3.3zM228.9 67.7l2.5 3.3l-2.5 3.3l-2.5 -3.3zM230.08 67.7l2.5 3.3l-2.5 3.3l-2.5 -3.3zM231.26 67.7l2.5 3.3l-2.5 3.3l-2.5 -3.3zM232.44 67.7l2.5 3.3l-2.5 3.3l-2.5 -3.3zM233.62 67.7l2.5 3.3l-2.5 3.3l-2.5 -3.3zM234.8 67.7l2.5 3.3l-2.5 3.3l-2.5 -3.3zM235.98 67.7l2.5 3.3l-2.5 3.3l-2.5 -3.3zM237.16 67.7l2.5 3.3l-2.5 3.3l-2.5 -3.3zM238.34 67.7l2.5 3.3l-2.5 3.3l-2.5 -3.3zM239.52 67.7l2.5 3.3l-2.5 3.3l-2.5 -3.3zM240.7 67.7l2.5 3.3l-2.5 3.3l-2.5 -3.3zM241.88 67.7l2.5 3.3l-2.5 3.3l-2.5 -3.3zM243.06 67.7l2.5 3.3l-2.5 3.3l-2.5 -3.3zM244.24 67.7l2.5 3.3l-2.5 3.3l-2.5 -3.3zM245.42 67.7l2.5 3.3l-2.5 3.3l-2.5 -3.3zM246.6 67.7l2.5 3.3l-2.5 3.3l-2.5 -3.3zM247.78 67.7l2.5 3.3l-2.5 3.3l-2.5 -3.3zM248.96 67.7l2.5 3.3l-2.5 3.3l-2.5 -3.3zM250.14 67.7l2.5 3.3l-2.5 3.3l-2.5 -3.3zM251.33 67.7l2.5 3.3l-2.5 3.3l-2.5 -3.3zM252.51 67.7l2.5 3.3l-2.5 3.3l-2.5 -3.3zM253.69 67.7l2.5 3.3l-2.5 3.3l-2.5 -3.3zM254.87 67.7l2.5 3.3l-2.5 3.3l-2.5 -3.3zM256.05 67.7l2.5 3.3l-2.5 3.3l-2.5 -3.3zM257.23 67.7l2.5 3.3l-2.5 3.3l-2.5 -3.3zM258.41 67.7l2.5 3.3l-2.5 3.3l-2.5 -3.3zM259.59 67.7l2.5 3.3l-2.5 3.3l-2.5 -3.3zM260.77 67.7l2.5 3.3l-2.5 3.3l-2.5 -3.3zM261.95 67.7l2.5 3.3l-2.5 3.3l-2.5 -3.3zM263.13 67.7l2.5 3.3l-2.5 3.3l-2.5 -3.3zM264.31 67.7l2.5 3.3l-2.5 3.3l-2.5 -3.3zM265.49 67.7l2.5 3.3l-2.5 3.3l-2.5 -3.3zM266.67 67.7l2.5 3.3l-2.5 3.3l-2.5 -3.3zM267.85 67.7l2.5 3.3l-2.5 3.3l-2.5 -3.3zM269.03 67.7l2.5 3.3l-2.5 3.3l-2.5 -3.3zM270.21 67.7l2.5 3.3l-2.5 3.3l-2.5 -3.3zM271.39 67.7l2.5 3.3l-2.5 3.3l-2.5 -3.3zM272.57 67.7l2.5 3.3l-2.5 3.3l-2.5 -3.3zM273.75 67.7l2.5 3.3l-2.5 3.3l-2.5 -3.3zM274.93 67.7l2.5 3.3l-2.5 3.3l-2.5 -3.3zM276.11 67.7l2.5 3.3l-2.5 3.3l-2.5 -3.3zM277.29 67.7l2.5 3.3l-2.5 3.3l-2.5 -3.3zM278.47 67.7l2.5 3.3l-2.5 3.3l-2.5 -3.3zM279.65 67.7l2.5 3.3l-2.5 3.3l-2.5 -3.3zM280.83 67.7l2.5 3.3l-2.5 3.3l-2.5 -3.3zM282.01 67.7l2.5 3.3l-2.5 3.3l-2.5 -3.3zM283.19 67.7l2.5 3.3l-2.5 3.3l-2.5 -3.3zM284.37 67.7l2.5 3.3l-2.5 3.3l-2.5 -3.3zM285.55 67.7l2.5 3.3l-2.5 3.3l-2.5 -3.3zM286.73 67.7l2.5 3.3l-2.5 3.3l-2.5 -3.3zM287.91 67.7l2.5 3.3l-2.5 3.3l-2.5 -3.3zM289.09 67.7l2.5 3.3l-2.5 3.3l-2.5 -3.3zM290.28 67.7l2.5 3.3l-2.5 3.3l-2.5 -3.3zM291.46 67.7l2.5 3.3l-2.5 3.3l-2.5 -3.3zM292.64 67.7l2.5 3.3l-2.5 3.3l-2.5 -3.3zM293.82 67.7l2.5 3.3l-2.5 3.3l-2.5 -3.3zM295 67.7l2.5 3.3l-2.5 3.3l-2.5 -3.3zM296.18 67.7l2.5 3.3l-2.5 3.3l-2.5 -3.3zM297.36 67.7l2.5 3.3l-2.5 3.3l-2.5 -3.3zM298.54 67.7l2.5 3.3l-2.5 3.3l-2.5 -3.3zM299.72 67.7l2.5 3.3l-2.5 3.3l-2.5 -3.3zM300.9 67.7l2.5 3.3l-2.5 3.3l-2.5 -3.3zM302.08 67.7l2.5 3.3l-2.5 3.3l-2.5 -3.3zM303.26 67.7l2.5 3.3l-2.5 3.3l-2.5 -3.3zM304.44 67.7l2.5 3.3l-2.5 3.3l-2.5 -3.3zM305.62 67.7l2.5 3.3l-2.5 3.3l-2.5 -3.3zM306.8 67.7l2.5 3.3l-2.5 3.3l-2.5 -3.3zM307.98 67.7l2.5 3.3l-2.5 3.3l-2.5 -3.3zM309.16 67.7l2.5 3.3l-2.5 3.3l-2.5 -3.3zM310.34 67.7l2.5 3.3l-2.5 3.3l-2.5 -3.3zM311.52 67.7l2.5 3.3l-2.5 3.3l-2.5 -3.3zM312.7 67.7l2.5 3.3l-2.5 3.3l-2.5 -3.3zM313.88 67.7l2.5 3.3l-2.5 3.3l-2.5 -3.3zM315.06 67.7l2.5 3.3l-2.5 3.3l-2.5 -3.3zM316.24 67.7l2.5 3.3l-2.5 3.3l-2.5 -3.3zM317.42 67.7l2.5 3.3l-2.5 3.3l-2.5 -3.3zM318.6 67.7l2.5 3.3l-2.5 3.3l-2.5 -3.3zM319.78 67.7l2.5 3.3l-2.5 3.3l-2.5 -3.3zM320.96 67.7l2.5 3.3l-2.5 3.3l-2.5 -3.3zM322.14 67.7l2.5 3.3l-2.5 3.3l-2.5 -3.3zM323.32 67.7l2.5 3.3l-2.5 3.3l-2.5 -3.3zM324.5 67.7l2.5 3.3l-2.5 3.3l-2.5 -3.3zM325.68 67.7l2.5 3.3l-2.5 3.3l-2.5 -3.3zM326.86 67.7l2.5 3.3l-2.5 3.3l-2.5 -3.3zM328.04 67.7l2.5 3.3l-2.5 3.3l-2.5 -3.3zM329.23 67.7l2.5 3.3l-2.5 3.3l-2.5 -3.3zM330.41 67.7l2.5 3.3l-2.5 3.3l-2.5 -3.3zM331.59 67.7l2.5 3.3l-2.5 3.3l-2.5 -3.3zM332.77 67.7l2.5 3.3l-2.5 3.3l-2.5 -3.3zM333.95 67.7l2.5 3.3l-2.5 3.3l-2.5 -3.3zM335.13 67.7l2.5 3.3l-2.5 3.3l-2.5 -3.3zM336.31 67.7l2.5 3.3l-2.5 3.3l-2.5 -3.3zM337.49 67.7l2.5 3.3l-2.5 3.3l-2.5 -3.3zM338.67 67.7l2.5 3.3l-2.5 3.3l-2.5 -3.3zM339.85 67.7l2.5 3.3l-2.5 3.3l-2.5 -3.3zM341.03 67.7l2.5 3.3l-2.5 3.3l-2.5 -3.3zM342.21 67.7l2.5 3.3l-2.5 3.3l-2.5 -3.3zM343.39 67.7l2.5 3.3l-2.5 3.3l-2.5 -3.3zM344.57 67.7l2.5 3.3l-2.5 3.3l-2.5 -3.3zM345.75 67.7l2.5 3.3l-2.5 3.3l-2.5 -3.3zM346.93 67.7l2.5 3.3l-2.5 3.3l-2.5 -3.3zM348.11 67.7l2.5 3.3l-2.5 3.3l-2.5 -3.3zM349.29 67.7l2.5 3.3l-2.5 3.3l-2.5 -3.3zM350.47 67.7l2.5 3.3l-2.5 3.3l-2.5 -3.3zM351.65 67.7l2.5 3.3l-2.5 3.3l-2.5 -3.3zM352.83 67.7l2.5 3.3l-2.5 3.3l-2.5 -3.3zM354.01 67.7l2.5 3.3l-2.5 3.3l-2.5 -3.3zM355.19 67.7l2.5 3.3l-2.5 3.3l-2.5 -3.3zM356.37 67.7l2.5 3.3l-2.5 3.3l-2.5 -3.3zM357.55 67.7l2.5 3.3l-2.5 3.3l-2.5 -3.3zM358.73 67.7l2.5 3.3l-2.5 3.3l-2.5 -3.3zM359.91 67.7l2.5 3.3l-2.5 3.3l-2.5 -3.3zM361.09 67.7l2.5 3.3l-2.5 3.3l-2.5 -3.3zM362.27 67.7l2.5 3.3l-2.5 3.3l-2.5 -3.3zM363.45 67.7l2.5 3.3l-2.5 3.3l-2.5 -3.3zM364.63 67.7l2.5 3.3l-2.5 3.3l-2.5 -3.3zM365.81 67.7l2.5 3.3l-2.5 3.3l-2.5 -3.3zM366.99 67.7l2.5 3.3l-2.5 3.3l-2.5 -3.3zM368.17 67.7l2.5 3.3l-2.5 3.3l-2.5 -3.3zM369.36 67.7l2.5 3.3l-2.5 3.3l-2.5 -3.3zM370.54 67.7l2.5 3.3l-2.5 3.3l-2.5 -3.3zM371.72 67.7l2.5 3.3l-2.5 3.3l-2.5 -3.3zM372.9 67.7l2.5 3.3l-2.5 3.3l-2.5 -3.3zM374.08 67.7l2.5 3.3l-2.5 3.3l-2.5 -3.3zM375.26 67.7l2.5 3.3l-2.5 3.3l-2.5 -3.3zM376.44 67.7l2.5 3.3l-2.5 3.3l-2.5 -3.3zM377.62 67.7l2.5 3.3l-2.5 3.3l-2.5 -3.3zM378.8 67.7l2.5 3.3l-2.5 3.3l-2.5 -3.3zM379.98 67.7l2.5 3.3l-2.5 3.3l-2.5 -3.3zM381.16 67.7l2.5 3.3l-2.5 3.3l-2.5 -3.3zM382.34 67.7l2.5 3.3l-2.5 3.3l-2.5 -3.3zM383.52 67.7l2.5 3.3l-2.5 3.3l-2.5 -3.3zM384.7 67.7l2.5 3.3l-2.5 3.3l-2.5 -3.3zM385.88 67.7l2.5 3.3l-2.5 3.3l-2.5 -3.3zM387.06 67.7l2.5 3.3l-2.5 3.3l-2.5 -3.3zM388.24 67.7l2.5 3.3l-2.5 3.3l-2.5 -3.3zM389.42 67.7l2.5 3.3l-2.5 3.3l-2.5 -3.3zM390.6 67.7l2.5 3.3l-2.5 3.3l-2.5 -3.3zM391.78 67.7l2.5 3.3l-2.5 3.3l-2.5 -3.3zM392.96 67.7l2.5 3.3l-2.5 3.3l-2.5 -3.3zM394.14 67.7l2.5 3.3l-2.5 3.3l-2.5 -3.3zM395.32 67.7l2.5 3.3l-2.5 3.3l-2.5 -3.3zM396.5 67.7l2.5 3.3l-2.5 3.3l-2.5 -3.3zM397.68 67.7l2.5 3.3l-2.5 3.3l-2.5 -3.3zM398.86 67.7l2.5 3.3l-2.5 3.3l-2.5 -3.3zM400.04 67.7l2.5 3.3l-2.5 3.3l-2.5 -3.3zM401.22 67.7l2.5 3.3l-2.5 3.3l-2.5 -3.3zM402.4 67.7l2.5 3.3l-2.5 3.3l-2.5 -3.3zM403.58 67.7l2.5 3.3l-2.5 3.3l-2.5 -3.3zM404.76 67.7l2.5 3.3l-2.5 3.3l-2.5 -3.3zM405.94 67.7l2.5 3.3l-2.5 3.3l-2.5 -3.3zM407.12 67.7l2.5 3.3l-2.5 3.3l-2.5 -3.3zM408.31 67.7l2.5 3.3l-2.5 3.3l-2.5 -3.3zM409.49 67.7l2.5 3.3l-2.5 3.3l-2.5 -3.3zM410.67 67.7l2.5 3.3l-2.5 3.3l-2.5 -3.3zM411.85 67.7l2.5 3.3l-2.5 3.3l-2.5 -3.3zM413.03 67.7l2.5 3.3l-2.5 3.3l-2.5 -3.3zM414.21 67.7l2.5 3.3l-2.5 3.3l-2.5 -3.3zM415.39 67.7l2.5 3.3l-2.5 3.3l-2.5 -3.3zM416.57 67.7l2.5 3.3l-2.5 3.3l-2.5 -3.3zM417.75 67.7l2.5 3.3l-2.5 3.3l-2.5 -3.3zM418.93 67.7l2.5 3.3l-2.5 3.3l-2.5 -3.3zM420.11 67.7l2.5 3.3l-2.5 3.3l-2.5 -3.3zM421.29 67.7l2.5 3.3l-2.5 3.3l-2.5 -3.3zM422.47 67.7l2.5 3.3l-2.5 3.3l-2.5 -3.3zM423.65 67.7l2.5 3.3l-2.5 3.3l-2.5 -3.3zM424.83 67.7l2.5 3.3l-2.5 3.3l-2.5 -3.3zM426.01 67.7l2.5 3.3l-2.5 3.3l-2.5 -3.3zM427.19 67.7l2.5 3.3l-2.5 3.3l-2.5 -3.3zM428.37 67.7l2.5 3.3l-2.5 3.3l-2.5 -3.3zM429.55 67.7l2.5 3.3l-2.5 3.3l-2.5 -3.3zM430.73 67.7l2.5 3.3l-2.5 3.3l-2.5 -3.3zM431.91 67.7l2.5 3.3l-2.5 3.3l-2.5 -3.3zM433.09 67.7l2.5 3.3l-2.5 3.3l-2.5 -3.3zM434.27 67.7l2.5 3.3l-2.5 3.3l-2.5 -3.3zM435.45 67.7l2.5 3.3l-2.5 3.3l-2.5 -3.3zM436.63 67.7l2.5 3.3l-2.5 3.3l-2.5 -3.3zM437.81 67.7l2.5 3.3l-2.5 3.3l-2.5 -3.3zM438.99 67.7l2.5 3.3l-2.5 3.3l-2.5 -3.3zM440.17 67.7l2.5 3.3l-2.5 3.3l-2.5 -3.3zM441.35 67.7l2.5 3.3l-2.5 3.3l-2.5 -3.3zM442.53 67.7l2.5 3.3l-2.5 3.3l-2.5 -3.3zM443.71 67.7l2.5 3.3l-2.5 3.3l-2.5 -3.3zM444.89 67.7l2.5 3.3l-2.5 3.3l-2.5 -3.3zM446.07 67.7l2.5 3.3l-2.5 3.3l-2.5 -3.3zM447.26 67.7l2.5 3.3l-2.5 3.3l-2.5 -3.3zM448.44 67.7l2.5 3.3l-2.5 3.3l-2.5 -3.3zM449.62 67.7l2.5 3.3l-2.5 3.3l-2.5 -3.3zM450.8 67.7l2.5 3.3l-2.5 3.3l-2.5 -3.3zM451.98 67.7l2.5 3.3l-2.5 3.3l-2.5 -3.3zM453.16 67.7l2.5 3.3l-2.5 3.3l-2.5 -3.3zM454.34 67.7l2.5 3.3l-2.5 3.3l-2.5 -3.3zM455.52 67.7l2.5 3.3l-2.5 3.3l-2.5 -3.3zM456.7 67.7l2.5 3.3l-2.5 3.3l-2.5 -3.3zM457.88 67.7l2.5 3.3l-2.5 3.3l-2.5 -3.3zM459.06 67.7l2.5 3.3l-2.5 3.3l-2.5 -3.3zM460.24 67.7l2.5 3.3l-2.5 3.3l-2.5 -3.3zM461.42 67.7l2.5 3.3l-2.5 3.3l-2.5 -3.3zM462.6 67.7l2.5 3.3l-2.5 3.3l-2.5 -3.3zM463.78 67.7l2.5 3.3l-2.5 3.3l-2.5 -3.3zM464.96 67.7l2.5 3.3l-2.5 3.3l-2.5 -3.3zM466.14 67.7l2.5 3.3l-2.5 3.3l-2.5 -3.3zM467.32 67.7l2.5 3.3l-2.5 3.3l-2.5 -3.3zM468.5 67.7l2.5 3.3l-2.5 3.3l-2.5 -3.3zM469.68 67.7l2.5 3.3l-2.5 3.3l-2.5 -3.3zM470.86 67.7l2.5 3.3l-2.5 3.3l-2.5 -3.3zM472.04 67.7l2.5 3.3l-2.5 3.3l-2.5 -3.3zM473.22 67.7l2.5 3.3l-2.5 3.3l-2.5 -3.3zM474.4 67.7l2.5 3.3l-2.5 3.3l-2.5 -3.3zM475.58 67.7l2.5 3.3l-2.5 3.3l-2.5 -3.3zM476.76 67.7l2.5 3.3l-2.5 3.3l-2.5 -3.3zM477.94 67.7l2.5 3.3l-2.5 3.3l-2.5 -3.3zM479.12 67.7l2.5 3.3l-2.5 3.3l-2.5 -3.3zM480.3 67.7l2.5 3.3l-2.5 3.3l-2.5 -3.3zM481.48 67.7l2.5 3.3l-2.5 3.3l-2.5 -3.3zM482.66 67.7l2.5 3.3l-2.5 3.3l-2.5 -3.3zM483.84 67.7l2.5 3.3l-2.5 3.3l-2.5 -3.3zM485.02 67.7l2.5 3.3l-2.5 3.3l-2.5 -3.3zM486.2 67.7l2.5 3.3l-2.5 3.3l-2.5 -3.3zM487.39 67.7l2.5 3.3l-2.5 3.3l-2.5 -3.3zM488.57 67.7l2.5 3.3l-2.5 3.3l-2.5 -3.3zM489.75 67.7l2.5 3.3l-2.5 3.3l-2.5 -3.3zM490.93 67.7l2.5 3.3l-2.5 3.3l-2.5 -3.3zM492.11 67.7l2.5 3.3l-2.5 3.3l-2.5 -3.3zM493.29 67.7l2.5 3.3l-2.5 3.3l-2.5 -3.3zM494.47 67.7l2.5 3.3l-2.5 3.3l-2.5 -3.3zM495.65 67.7l2.5 3.3l-2.5 3.3l-2.5 -3.3zM496.83 67.7l2.5 3.3l-2.5 3.3l-2.5 -3.3zM498.01 67.7l2.5 3.3l-2.5 3.3l-2.5 -3.3zM499.19 67.7l2.5 3.3l-2.5 3.3l-2.5 -3.3zM500.37 67.7l2.5 3.3l-2.5 3.3l-2.5 -3.3zM501.55 67.7l2.5 3.3l-2.5 3.3l-2.5 -3.3zM502.73 67.7l2.5 3.3l-2.5 3.3l-2.5 -3.3zM503.91 67.7l2.5 3.3l-2.5 3.3l-2.5 -3.3zM505.09 67.7l2.5 3.3l-2.5 3.3l-2.5 -3.3zM506.27 67.7l2.5 3.3l-2.5 3.3l-2.5 -3.3zM507.45 67.7l2.5 3.3l-2.5 3.3l-2.5 -3.3zM508.63 67.7l2.5 3.3l-2.5 3.3l-2.5 -3.3zM509.81 67.7l2.5 3.3l-2.5 3.3l-2.5 -3.3zM510.99 67.7l2.5 3.3l-2.5 3.3l-2.5 -3.3zM512.17 67.7l2.5 3.3l-2.5 3.3l-2.5 -3.3zM513.35 67.7l2.5 3.3l-2.5 3.3l-2.5 -3.3zM514.53 67.7l2.5 3.3l-2.5 3.3l-2.5 -3.3zM515.71 67.7l2.5 3.3l-2.5 3.3l-2.5 -3.3zM516.89 67.7l2.5 3.3l-2.5 3.3l-2.5 -3.3zM518.07 67.7l2.5 3.3l-2.5 3.3l-2.5 -3.3zM519.25 67.7l2.5 3.3l-2.5 3.3l-2.5 -3.3zM520.43 67.7l2.5 3.3l-2.5 3.3l-2.5 -3.3zM521.61 67.7l2.5 3.3l-2.5 3.3l-2.5 -3.3zM522.79 67.7l2.5 3.3l-2.5 3.3l-2.5 -3.3zM523.97 67.7l2.5 3.3l-2.5 3.3l-2.5 -3.3zM525.15 67.7l2.5 3.3l-2.5 3.3l-2.5 -3.3zM526.34 67.7l2.5 3.3l-2.5 3.3l-2.5 -3.3zM527.52 67.7l2.5 3.3l-2.5 3.3l-2.5 -3.3zM528.7 67.7l2.5 3.3l-2.5 3.3l-2.5 -3.3zM529.88 67.7l2.5 3.3l-2.5 3.3l-2.5 -3.3zM531.06 67.7l2.5 3.3l-2.5 3.3l-2.5 -3.3zM532.24 67.7l2.5 3.3l-2.5 3.3l-2.5 -3.3zM533.42 67.7l2.5 3.3l-2.5 3.3l-2.5 -3.3zM534.6 67.7l2.5 3.3l-2.5 3.3l-2.5 -3.3zM535.78 67.7l2.5 3.3l-2.5 3.3l-2.5 -3.3zM536.96 67.7l2.5 3.3l-2.5 3.3l-2.5 -3.3zM538.14 67.7l2.5 3.3l-2.5 3.3l-2.5 -3.3zM539.32 67.7l2.5 3.3l-2.5 3.3l-2.5 -3.3zM540.5 67.7l2.5 3.3l-2.5 3.3l-2.5 -3.3zM541.68 67.7l2.5 3.3l-2.5 3.3l-2.5 -3.3zM542.86 67.7l2.5 3.3l-2.5 3.3l-2.5 -3.3zM544.04 67.7l2.5 3.3l-2.5 3.3l-2.5 -3.3zM545.22 67.7l2.5 3.3l-2.5 3.3l-2.5 -3.3zM546.4 67.7l2.5 3.3l-2.5 3.3l-2.5 -3.3zM547.58 67.7l2.5 3.3l-2.5 3.3l-2.5 -3.3zM548.76 67.7l2.5 3.3l-2.5 3.3l-2.5 -3.3zM549.94 67.7l2.5 3.3l-2.5 3.3l-2.5 -3.3zM551.12 67.7l2.5 3.3l-2.5 3.3l-2.5 -3.3zM552.3 67.7l2.5 3.3l-2.5 3.3l-2.5 -3.3zM553.48 67.7l2.5 3.3l-2.5 3.3l-2.5 -3.3zM554.66 67.7l2.5 3.3l-2.5 3.3l-2.5 -3.3zM555.84 67.7l2.5 3.3l-2.5 3.3l-2.5 -3.3zM557.02 67.7l2.5 3.3l-2.5 3.3l-2.5 -3.3zM558.2 67.7l2.5 3.3l-2.5 3.3l-2.5 -3.3zM559.38 67.7l2.5 3.3l-2.5 3.3l-2.5 -3.3zM560.56 67.7l2.5 3.3l-2.5 3.3l-2.5 -3.3zM561.74 67.7l2.5 3.3l-2.5 3.3l-2.5 -3.3zM562.92 67.7l2.5 3.3l-2.5 3.3l-2.5 -3.3zM564.1 67.7l2.5 3.3l-2.5 3.3l-2.5 -3.3zM565.29 67.7l2.5 3.3l-2.5 3.3l-2.5 -3.3zM566.47 67.7l2.5 3.3l-2.5 3.3l-2.5 -3.3zM567.65 67.7l2.5 3.3l-2.5 3.3l-2.5 -3.3zM568.83 67.7l2.5 3.3l-2.5 3.3l-2.5 -3.3zM570.01 67.7l2.5 3.3l-2.5 3.3l-2.5 -3.3zM571.19 67.7l2.5 3.3l-2.5 3.3l-2.5 -3.3zM572.37 67.7l2.5 3.3l-2.5 3.3l-2.5 -3.3zM573.55 67.7l2.5 3.3l-2.5 3.3l-2.5 -3.3zM574.73 67.7l2.5 3.3l-2.5 3.3l-2.5 -3.3zM575.91 67.7l2.5 3.3l-2.5 3.3l-2.5 -3.3zM577.09 67.7l2.5 3.3l-2.5 3.3l-2.5 -3.3zM578.27 67.7l2.5 3.3l-2.5 3.3l-2.5 -3.3zM579.45 67.7l2.5 3.3l-2.5 3.3l-2.5 -3.3zM580.63 67.7l2.5 3.3l-2.5 3.3l-2.5 -3.3zM581.81 67.7l2.5 3.3l-2.5 3.3l-2.5 -3.3zM582.99 67.7l2.5 3.3l-2.5 3.3l-2.5 -3.3zM584.17 67.7l2.5 3.3l-2.5 3.3l-2.5 -3.3zM585.35 67.7l2.5 3.3l-2.5 3.3l-2.5 -3.3zM586.53 67.7l2.5 3.3l-2.5 3.3l-2.5 -3.3zM587.71 67.7l2.5 3.3l-2.5 3.3l-2.5 -3.3zM588.89 67.7l2.5 3.3l-2.5 3.3l-2.5 -3.3zM590.07 67.7l2.5 3.3l-2.5 3.3l-2.5 -3.3zM591.25 67.7l2.5 3.3l-2.5 3.3l-2.5 -3.3zM592.43 67.7l2.5 3.3l-2.5 3.3l-2.5 -3.3zM593.61 67.7l2.5 3.3l-2.5 3.3l-2.5 -3.3zM594.79 67.7l2.5 3.3l-2.5 3.3l-2.5 -3.3zM595.97 67.7l2.5 3.3l-2.5 3.3l-2.5 -3.3zM597.15 67.7l2.5 3.3l-2.5 3.3l-2.5 -3.3zM598.33 67.7l2.5 3.3l-2.5 3.3l-2.5 -3.3zM599.51 67.7l2.5 3.3l-2.5 3.3l-2.5 -3.3zM600.69 67.7l2.5 3.3l-2.5 3.3l-2.5 -3.3zM601.87 67.7l2.5 3.3l-2.5 3.3l-2.5 -3.3zM603.05 67.7l2.5 3.3l-2.5 3.3l-2.5 -3.3zM604.24 67.7l2.5 3.3l-2.5 3.3l-2.5 -3.3zM605.42 67.7l2.5 3.3l-2.5 3.3l-2.5 -3.3zM606.6 67.7l2.5 3.3l-2.5 3.3l-2.5 -3.3zM607.78 67.7l2.5 3.3l-2.5 3.3l-2.5 -3.3zM608.96 67.7l2.5 3.3l-2.5 3.3l-2.5 -3.3zM610.14 67.7l2.5 3.3l-2.5 3.3l-2.5 -3.3zM611.32 67.7l2.5 3.3l-2.5 3.3l-2.5 -3.3zM612.5 67.7l2.5 3.3l-2.5 3.3l-2.5 -3.3zM613.68 67.7l2.5 3.3l-2.5 3.3l-2.5 -3.3zM614.86 67.7l2.5 3.3l-2.5 3.3l-2.5 -3.3zM616.04 67.7l2.5 3.3l-2.5 3.3l-2.5 -3.3zM617.22 67.7l2.5 3.3l-2.5 3.3l-2.5 -3.3zM618.4 67.7l2.5 3.3l-2.5 3.3l-2.5 -3.3zM619.58 67.7l2.5 3.3l-2.5 3.3l-2.5 -3.3zM620.76 67.7l2.5 3.3l-2.5 3.3l-2.5 -3.3zM621.94 67.7l2.5 3.3l-2.5 3.3l-2.5 -3.3zM623.12 67.7l2.5 3.3l-2.5 3.3l-2.5 -3.3zM624.3 67.7l2.5 3.3l-2.5 3.3l-2.5 -3.3zM625.48 67.7l2.5 3.3l-2.5 3.3l-2.5 -3.3zM626.66 67.7l2.5 3.3l-2.5 3.3l-2.5 -3.3zM627.84 67.7l2.5 3.3l-2.5 3.3l-2.5 -3.3zM629.02 67.7l2.5 3.3l-2.5 3.3l-2.5 -3.3zM630.2 67.7l2.5 3.3l-2.5 3.3l-2.5 -3.3zM631.38 67.7l2.5 3.3l-2.5 3.3l-2.5 -3.3zM632.56 67.7l2.5 3.3l-2.5 3.3l-2.5 -3.3zM633.74 67.7l2.5 3.3l-2.5 3.3l-2.5 -3.3zM634.92 67.7l2.5 3.3l-2.5 3.3l-2.5 -3.3zM636.1 67.7l2.5 3.3l-2.5 3.3l-2.5 -3.3zM637.28 67.7l2.5 3.3l-2.5 3.3l-2.5 -3.3zM638.46 67.7l2.5 3.3l-2.5 3.3l-2.5 -3.3zM639.64 67.7l2.5 3.3l-2.5 3.3l-2.5 -3.3zM640.82 67.7l2.5 3.3l-2.5 3.3l-2.5 -3.3zM642 67.7l2.5 3.3l-2.5 3.3l-2.5 -3.3zM643.18 67.7l2.5 3.3l-2.5 3.3l-2.5 -3.3zM644.37 67.7l2.5 3.3l-2.5 3.3l-2.5 -3.3zM645.55 67.7l2.5 3.3l-2.5 3.3l-2.5 -3.3zM646.73 67.7l2.5 3.3l-2.5 3.3l-2.5 -3.3zM647.91 67.7l2.5 3.3l-2.5 3.3l-2.5 -3.3zM649.09 67.7l2.5 3.3l-2.5 3.3l-2.5 -3.3zM650.27 67.7l2.5 3.3l-2.5 3.3l-2.5 -3.3zM651.45 67.7l2.5 3.3l-2.5 3.3l-2.5 -3.3zM652.63 67.7l2.5 3.3l-2.5 3.3l-2.5 -3.3zM653.81 67.7l2.5 3.3l-2.5 3.3l-2.5 -3.3zM654.99 67.7l2.5 3.3l-2.5 3.3l-2.5 -3.3zM656.17 67.7l2.5 3.3l-2.5 3.3l-2.5 -3.3zM657.35 67.7l2.5 3.3l-2.5 3.3l-2.5 -3.3zM658.53 67.7l2.5 3.3l-2.5 3.3l-2.5 -3.3zM659.71 67.7l2.5 3.3l-2.5 3.3l-2.5 -3.3zM660.89 67.7l2.5 3.3l-2.5 3.3l-2.5 -3.3zM662.07 67.7l2.5 3.3l-2.5 3.3l-2.5 -3.3zM663.25 67.7l2.5 3.3l-2.5 3.3l-2.5 -3.3z" fill="#00FF00"/>
<path d="M74.28 379.8L75.46 374.44L76.64 369.09L77.82 363.73L79 358.37L80.18 353.02L81.36 347.66L82.54 342.3L83.72 336.95L84.9 331.59L86.08 326.23L87.26 320.88L88.44 315.52L89.62 310.16L90.8 304.81L91.98 299.45L93.17 294.09L94.35 288.74L95.53 283.38L96.71 278.02L97.89 272.67L99.07 267.31L100.25 261.95L101.43 256.6L102.61 251.24L103.79 245.88L104.97 240.52L106.15 235.17L107.33 229.81L108.51 224.45L109.69 219.1L110.87 213.74L112.05 208.38L113.23 203.03L114.41 197.67L115.59 192.31L116.77 186.96L117.95 181.6L119.13 176.24L120.31 170.89L121.49 165.53L122.67 160.17L123.85 154.82L125.03 149.46L126.21 144.1L127.39 138.75L128.57 133.39L129.75 128.03L130.93 122.68L132.11 117.32L133.3 71L663.25 71" fill="none" stroke="#7E2F8E" stroke-width="1.75" stroke-linejoin="round"/>
<path d="M74.28 375.2l3.7 6.6h-7.4zM75.46 369.84l3.7 6.6h-7.4zM76.64 364.49l3.7 6.6h-7.4zM77.82 359.13l3.7 6.6h-7.4zM79 353.77l3.7 6.6h-7.4zM80.18 348.42l3.7 6.6h-7.4zM81.36 343.06l3.7 6.6h-7.4zM82.54 337.7l3.7 6.6h-7.4zM83.72 332.35l3.7 6.6h-7.4zM84.9 326.99l3.7 6.6h-7.4zM86.08 321.63l3.7 6.6h-7.4zM87.26 316.28l3.7 6.6h-7.4zM88.44 310.92l3.7 6.6h-7.4zM89.62 305.56l3.7 6.6h-7.4zM90.8 300.21l3.7 6.6h-7.4zM91.98 294.85l3.7 6.6h-7.4zM93.17 289.49l3.7 6.6h-7.4zM94.35 284.14l3.7 6.6h-7.4zM95.53 278.78l3.7 6.6h-7.4zM96.71 273.42l3.7 6.6h-7.4zM97.89 268.07l3.7 6.6h-7.4zM99.07 262.71l3.7 6.6h-7.4zM100.25 257.35l3.7 6.6h-7.4zM101.43 252l3.7 6.6h-7.4zM102.61 246.64l3.7 6.6h-7.4zM103.79 241.28l3.7 6.6h-7.4zM104.97 235.92l3.7 6.6h-7.4zM106.15 230.57l3.7 6.6h-7.4zM107.33 225.21l3.7 6.6h-7.4zM108.51 219.85l3.7 6.6h-7.4zM109.69 214.5l3.7 6.6h-7.4zM110.87 209.14l3.7 6.6h-7.4zM112.05 203.78l3.7 6.6h-7.4zM113.23 198.43l3.7 6.6h-7.4zM114.41 193.07l3.7 6.6h-7.4zM115.59 187.71l3.7 6.6h-7.4zM116.77 182.36l3.7 6.6h-7.4zM117.95 177l3.7 6.6h-7.4zM119.13 171.64l3.7 6.6h-7.4zM120.31 166.29l3.7 6.6h-7.4zM121.49 160.93l3.7 6.6h-7.4zM122.67 155.57l3.7 6.6h-7.4zM123.85 150.22l3.7 6.6h-7.4zM125.03 144.86l3.7 6.6h-7.4zM126.21 139.5l3.7 6.6h-7.4zM127.39 134.15l3.7 6.6h-7.4zM128.57 128.79l3.7 6.6h-7.4zM129.75 123.43l3.7 6.6h-7.4zM130.93 118.08l3.7 6.6h-7.4zM132.11 112.72l3.7 6.6h-7.4zM133.3 66.4l3.7 6.6h-7.4zM134.48 66.4l3.7 6.6h-7.4zM135.66 66.4l3.7 6.6h-7.4zM136.84 66.4l3.7 6.6h-7.4zM138.02 66.4l3.7 6.6h-7.4zM139.2 66.4l3.7 6.6h-7.4zM140.38 66.4l3.7 6.6h-7.4zM141.56 66.4l3.7 6.6h-7.4zM142.74 66.4l3.7 6.6h-7.4zM143.92 66.4l3.7 6.6h-7.4zM145.1 66.4l3.7 6.6h-7.4zM146.28 66.4l3.7 6.6h-7.4zM147.46 66.4l3.7 6.6h-7.4zM148.64 66.4l3.7 6.6h-7.4zM149.82 66.4l3.7 6.6h-7.4zM151 66.4l3.7 6.6h-7.4zM152.18 66.4l3.7 6.6h-7.4zM153.36 66.4l3.7 6.6h-7.4zM154.54 66.4l3.7 6.6h-7.4zM155.72 66.4l3.7 6.6h-7.4zM156.9 66.4l3.7 6.6h-7.4zM158.08 66.4l3.7 6.6h-7.4zM159.26 66.4l3.7 6.6h-7.4zM160.44 66.4l3.7 6.6h-7.4zM161.62 66.4l3.7 6.6h-7.4zM162.8 66.4l3.7 6.6h-7.4zM163.98 66.4l3.7 6.6h-7.4zM165.16 66.4l3.7 6.6h-7.4zM166.34 66.4l3.7 6.6h-7.4zM167.52 66.4l3.7 6.6h-7.4zM168.7 66.4l3.7 6.6h-7.4zM169.88 66.4l3.7 6.6h-7.4zM171.06 66.4l3.7 6.6h-7.4zM172.25 66.4l3.7 6.6h-7.4zM173.43 66.4l3.7 6.6h-7.4zM174.61 66.4l3.7 6.6h-7.4zM175.79 66.4l3.7 6.6h-7.4zM176.97 66.4l3.7 6.6h-7.4zM178.15 66.4l3.7 6.6h-7.4zM179.33 66.4l3.7 6.6h-7.4zM180.51 66.4l3.7 6.6h-7.4zM181.69 66.4l3.7 6.6h-7.4zM182.87 66.4l3.7 6.6h-7.4zM184.05 66.4l3.7 6.6h-7.4zM185.23 66.4l3.7 6.6h-7.4zM186.41 66.4l3.7 6.6h-7.4zM187.59 66.4l3.7 6.6h-7.4zM188.77 66.4l3.7 6.6h-7.4zM189.95 66.4l3.7 6.6h-7.4zM191.13 66.4l3.7 6.6h-7.4zM192.31 66.4l3.7 6.6h-7.4zM193.49 66.4l3.7 6.6h-7.4zM194.67 66.4l3.7 6.6h-7.4zM195.85 66.4l3.7 6.6h-7.4zM197.03 66.4l3.7 6.6h-7.4zM198.21 66.4l3.7 6.6h-7.4zM199.39 66.4l3.7 6.6h-7.4zM200.57 66.4l3.7 6.6h-7.4zM201.75 66.4l3.7 6.6h-7.4zM202.93 66.4l3.7 6.6h-7.4zM204.11 66.4l3.7 6.6h-7.4zM205.29 66.4l3.7 6.6h-7.4zM206.47 66.4l3.7 6.6h-7.4zM207.65 66.4l3.7 6.6h-7.4zM208.83 66.4l3.7 6.6h-7.4zM210.01 66.4l3.7 6.6h-7.4zM211.2 66.4l3.7 6.6h-7.4zM212.38 66.4l3.7 6.6h-7.4zM213.56 66.4l3.7 6.6h-7.4zM214.74 66.4l3.7 6.6h-7.4zM215.92 66.4l3.7 6.6h-7.4zM217.1 66.4l3.7 6.6h-7.4zM218.28 66.4l3.7 6.6h-7.4zM219.46 66.4l3.7 6.6h-7.4zM220.64 66.4l3.7 6.6h-7.4zM221.82 66.4l3.7 6.6h-7.4zM223 66.4l3.7 6.6h-7.4zM224.18 66.4l3.7 6.6h-7.4zM225.36 66.4l3.7 6.6h-7.4zM226.54 66.4l3.7 6.6h-7.4zM227.72 66.4l3.7 6.6h-7.4zM228.9 66.4l3.7 6.6h-7.4zM230.08 66.4l3.7 6.6h-7.4zM231.26 66.4l3.7 6.6h-7.4zM232.44 66.4l3.7 6.6h-7.4zM233.62 66.4l3.7 6.6h-7.4zM234.8 66.4l3.7 6.6h-7.4zM235.98 66.4l3.7 6.6h-7.4zM237.16 66.4l3.7 6.6h-7.4zM238.34 66.4l3.7 6.6h-7.4zM239.52 66.4l3.7 6.6h-7.4zM240.7 66.4l3.7 6.6h-7.4zM241.88 66.4l3.7 6.6h-7.4zM243.06 66.4l3.7 6.6h-7.4zM244.24 66.4l3.7 6.6h-7.4zM245.42 66.4l3.7 6.6h-7.4zM246.6 66.4l3.7 6.6h-7.4zM247.78 66.4l3.7 6.6h-7.4zM248.96 66.4l3.7 6.6h-7.4zM250.14 66.4l3.7 6.6h-7.4zM251.33 66.4l3.7 6.6h-7.4zM252.51 66.4l3.7 6.6h-7.4zM253.69 66.4l3.7 6.6h-7.4zM254.87 66.4l3.7 6.6h-7.4zM256.05 66.4l3.7 6.6h-7.4zM257.23 66.4l3.7 6.6h-7.4zM258.41 66.4l3.7 6.6h-7.4zM259.59 66.4l3.7 6.6h-7.4zM260.77 66.4l3.7 6.6h-7.4zM261.95 66.4l3.7 6.6h-7.4zM263.13 66.4l3.7 6.6h-7.4zM264.31 66.4l3.7 6.6h-7.4zM265.49 66.4l3.7 6.6h-7.4zM266.67 66.4l3.7 6.6h-7.4zM267.85 66.4l3.7 6.6h-7.4zM269.03 66.4l3.7 6.6h-7.4zM270.21 66.4l3.7 6.6h-7.4zM271.39 66.4l3.7 6.6h-7.4zM272.57 66.4l3.7 6.6h-7.4zM273.75 66.4l3.7 6.6h-7.4zM274.93 66.4l3.7 6.6h-7.4zM276.11 66.4l3.7 6.6h-7.4zM277.29 66.4l3.7 6.6h-7.4zM278.47 66.4l3.7 6.6h-7.4zM279.65 66.4l3.7 6.6h-7.4zM280.83 66.4l3.7 6.6h-7.4zM282.01 66.4l3.7 6.6h-7.4zM283.19 66.4l3.7 6.6h-7.4zM284.37 66.4l3.7 6.6h-7.4zM285.55 66.4l3.7 6.6h-7.4zM286.73 66.4l3.7 6.6h-7.4zM287.91 66.4l3.7 6.6h-7.4zM289.09 66.4l3.7 6.6h-7.4zM290.28 66.4l3.7 6.6h-7.4zM291.46 66.4l3.7 6.6h-7.4zM292.64 66.4l3.7 6.6h-7.4zM293.82 66.4l3.7 6.6h-7.4zM295 66.4l3.7 6.6h-7.4zM296.18 66.4l3.7 6.6h-7.4zM297.36 66.4l3.7 6.6h-7.4zM298.54 66.4l3.7 6.6h-7.4zM299.72 66.4l3.7 6.6h-7.4zM300.9 66.4l3.7 6.6h-7.4zM302.08 66.4l3.7 6.6h-7.4zM303.26 66.4l3.7 6.6h-7.4zM304.44 66.4l3.7 6.6h-7.4zM305.62 66.4l3.7 6.6h-7.4zM306.8 66.4l3.7 6.6h-7.4zM307.98 66.4l3.7 6.6h-7.4zM309.16 66.4l3.7 6.6h-7.4zM310.34 66.4l3.7 6.6h-7.4zM311.52 66.4l3.7 6.6h-7.4zM312.7 66.4l3.7 6.6h-7.4zM313.88 66.4l3.7 6.6h-7.4zM315.06 66.4l3.7 6.6h-7.4zM316.24 66.4l3.7 6.6h-7.4zM317.42 66.4l3.7 6.6h-7.4zM318.6 66.4l3.7 6.6h-7.4zM319.78 66.4l3.7 6.6h-7.4zM320.96 66.4l3.7 6.6h-7.4zM322.14 66.4l3.7 6.6h-7.4zM323.32 66.4l3.7 6.6h-7.4zM324.5 66.4l3.7 6.6h-7.4zM325.68 66.4l3.7 6.6h-7.4zM326.86 66.4l3.7 6.6h-7.4zM328.04 66.4l3.7 6.6h-7.4zM329.23 66.4l3.7 6.6h-7.4zM330.41 66.4l3.7 6.6h-7.4zM331.59 66.4l3.7 6.6h-7.4zM332.77 66.4l3.7 6.6h-7.4zM333.95 66.4l3.7 6.6h-7.4zM335.13 66.4l3.7 6.6h-7.4zM336.31 66.4l3.7 6.6h-7.4zM337.49 66.4l3.7 6.6h-7.4zM338.67 66.4l3.7 6.6h-7.4zM339.85 66.4l3.7 6.6h-7.4zM341.03 66.4l3.7 6.6h-7.4zM342.21 66.4l3.7 6.6h-7.4zM343.39 66.4l3.7 6.6h-7.4zM344.57 66.4l3.7 6.6h-7.4zM345.75 66.4l3.7 6.6h-7.4zM346.93 66.4l3.7 6.6h-7.4zM348.11 66.4l3.7 6.6h-7.4zM349.29 66.4l3.7 6.6h-7.4zM350.47 66.4l3.7 6.6h-7.4zM351.65 66.4l3.7 6.6h-7.4zM352.83 66.4l3.7 6.6h-7.4zM354.01 66.4l3.7 6.6h-7.4zM355.19 66.4l3.7 6.6h-7.4zM356.37 66.4l3.7 6.6h-7.4zM357.55 66.4l3.7 6.6h-7.4zM358.73 66.4l3.7 6.6h-7.4zM359.91 66.4l3.7 6.6h-7.4zM361.09 66.4l3.7 6.6h-7.4zM362.27 66.4l3.7 6.6h-7.4zM363.45 66.4l3.7 6.6h-7.4zM364.63 66.4l3.7 6.6h-7.4zM365.81 66.4l3.7 6.6h-7.4zM366.99 66.4l3.7 6.6h-7.4zM368.17 66.4l3.7 6.6h-7.4zM369.36 66.4l3.7 6.6h-7.4zM370.54 66.4l3.7 6.6h-7.4zM371.72 66.4l3.7 6.6h-7.4zM372.9 66.4l3.7 6.6h-7.4zM374.08 66.4l3.7 6.6h-7.4zM375.26 66.4l3.7 6.6h-7.4zM376.44 66.4l3.7 6.6h-7.4zM377.62 66.4l3.7 6.6h-7.4zM378.8 66.4l3.7 6.6h-7.4zM379.98 66.4l3.7 6.6h-7.4zM381.16 66.4l3.7 6.6h-7.4zM382.34 66.4l3.7 6.6h-7.4zM383.52 66.4l3.7 6.6h-7.4zM384.7 66.4l3.7 6.6h-7.4zM385.88 66.4l3.7 6.6h-7.4zM387.06 66.4l3.7 6.6h-7.4zM388.24 66.4l3.7 6.6h-7.4zM389.42 66.4l3.7 6.6h-7.4zM390.6 66.4l3.7 6.6h-7.4zM391.78 66.4l3.7 6.6h-7.4zM392.96 66.4l3.7 6.6h-7.4zM394.14 66.4l3.7 6.6h-7.4zM395.32 66.4l3.7 6.6h-7.4zM396.5 66.4l3.7 6.6h-7.4zM397.68 66.4l3.7 6.6h-7.4zM398.86 66.4l3.7 6.6h-7.4zM400.04 66.4l3.7 6.6h-7.4zM401.22 66.4l3.7 6.6h-7.4zM402.4 66.4l3.7 6.6h-7.4zM403.58 66.4l3.7 6.6h-7.4zM404.76 66.4l3.7 6.6h-7.4zM405.94 66.4l3.7 6.6h-7.4zM407.12 66.4l3.7 6.6h-7.4zM408.31 66.4l3.7 6.6h-7.4zM409.49 66.4l3.7 6.6h-7.4zM410.67 66.4l3.7 6.6h-7.4zM411.85 66.4l3.7 6.6h-7.4zM413.03 66.4l3.7 6.6h-7.4zM414.21 66.4l3.7 6.6h-7.4zM415.39 66.4l3.7 6.6h-7.4zM416.57 66.4l3.7 6.6h-7.4zM417.75 66.4l3.7 6.6h-7.4zM418.93 66.4l3.7 6.6h-7.4zM420.11 66.4l3.7 6.6h-7.4zM421.29 66.4l3.7 6.6h-7.4zM422.47 66.4l3.7 6.6h-7.4zM423.65 66.4l3.7 6.6h-7.4zM424.83 66.4l3.7 6.6h-7.4zM426.01 66.4l3.7 6.6h-7.4zM427.19 66.4l3.7 6.6h-7.4zM428.37 66.4l3.7 6.6h-7.4zM429.55 66.4l3.7 6.6h-7.4zM430.73 66.4l3.7 6.6h-7.4zM431.91 66.4l3.7 6.6h-7.4zM433.09 66.4l3.7 6.6h-7.4zM434.27 66.4l3.7 6.6h-7.4zM435.45 66.4l3.7 6.6h-7.4zM436.63 66.4l3.7 6.6h-7.4zM437.81 66.4l3.7 6.6h-7.4zM438.99 66.4l3.7 6.6h-7.4zM440.17 66.4l3.7 6.6h-7.4zM441.35 66.4l3.7 6.6h-7.4zM442.53 66.4l3.7 6.6h-7.4zM443.71 66.4l3.7 6.6h-7.4zM444.89 66.4l3.7 6.6h-7.4zM446.07 66.4l3.7 6.6h-7.4zM447.26 66.4l3.7 6.6h-7.4zM448.44 66.4l3.7 6.6h-7.4zM449.62 66.4l3.7 6.6h-7.4zM450.8 66.4l3.7 6.6h-7.4zM451.98 66.4l3.7 6.6h-7.4zM453.16 66.4l3.7 6.6h-7.4zM454.34 66.4l3.7 6.6h-7.4zM455.52 66.4l3.7 6.6h-7.4zM456.7 66.4l3.7 6.6h-7.4zM457.88 66.4l3.7 6.6h-7.4zM459.06 66.4l3.7 6.6h-7.4zM460.24 66.4l3.7 6.6h-7.4zM461.42 66.4l3.7 6.6h-7.4zM462.6 66.4l3.7 6.6h-7.4zM463.78 66.4l3.7 6.6h-7.4zM464.96 66.4l3.7 6.6h-7.4zM466.14 66.4l3.7 6.6h-7.4zM467.32 66.4l3.7 6.6h-7.4zM468.5 66.4l3.7 6.6h-7.4zM469.68 66.4l3.7 6.6h-7.4zM470.86 66.4l3.7 6.6h-7.4zM472.04 66.4l3.7 6.6h-7.4zM473.22 66.4l3.7 6.6h-7.4zM474.4 66.4l3.7 6.6h-7.4zM475.58 66.4l3.7 6.6h-7.4zM476.76 66.4l3.7 6.6h-7.4zM477.94 66.4l3.7 6.6h-7.4zM479.12 66.4l3.7 6.6h-7.4zM480.3 66.4l3.7 6.6h-7.4zM481.48 66.4l3.7 6.6h-7.4zM482.66 66.4l3.7 6.6h-7.4zM483.84 66.4l3.7 6.6h-7.4zM485.02 66.4l3.7 6.6h-7.4zM486.2 66.4l3.7 6.6h-7.4zM487.39 66.4l3.7 6.6h-7.4zM488.57 66.4l3.7 6.6h-7.4zM489.75 66.4l3.7 6.6h-7.4zM490.93 66.4l3.7 6.6h-7.4zM492.11 66.4l3.7 6.6h-7.4zM493.29 66.4l3.7 6.6h-7.4zM494.47 66.4l3.7 6.6h-7.4zM495.65 66.4l3.7 6.6h-7.4zM496.83 66.4l3.7 6.6h-7.4zM498.01 66.4l3.7 6.6h-7.4zM499.19 66.4l3.7 6.6h-7.4zM500.37 66.4l3.7 6.6h-7.4zM501.55 66.4l3.7 6.6h-7.4zM502.73 66.4l3.7 6.6h-7.4zM503.91 66.4l3.7 6.6h-7.4zM505.09 66.4l3.7 6.6h-7.4zM506.27 66.4l3.7 6.6h-7.4zM507.45 66.4l3.7 6.6h-7.4zM508.63 66.4l3.7 6.6h-7.4zM509.81 66.4l3.7 6.6h-7.4zM510.99 66.4l3.7 6.6h-7.4zM512.17 66.4l3.7 6.6h-7.4zM513.35 66.4l3.7 6.6h-7.4zM514.53 66.4l3.7 6.6h-7.4zM515.71 66.4l3.7 6.6h-7.4zM516.89 66.4l3.7 6.6h-7.4zM518.07 66.4l3.7 6.6h-7.4zM519.25 66.4l3.7 6.6h-7.4zM520.43 66.4l3.7 6.6h-7.4zM521.61 66.4l3.7 6.6h-7.4zM522.79 66.4l3.7 6.6h-7.4zM523.97 66.4l3.7 6.6h-7.4zM525.15 66.4l3.7 6.6h-7.4zM526.34 66.4l3.7 6.6h-7.4zM527.52 66.4l3.7 6.6h-7.4zM528.7 66.4l3.7 6.6h-7.4zM529.88 66.4l3.7 6.6h-7.4zM531.06 66.4l3.7 6.6h-7.4zM532.24 66.4l3.7 6.6h-7.4zM533.42 66.4l3.7 6.6h-7.4zM534.6 66.4l3.7 6.6h-7.4zM535.78 66.4l3.7 6.6h-7.4zM536.96 66.4l3.7 6.6h-7.4zM538.14 66.4l3.7 6.6h-7.4zM539.32 66.4l3.7 6.6h-7.4zM540.5 66.4l3.7 6.6h-7.4zM541.68 66.4l3.7 6.6h-7.4zM542.86 66.4l3.7 6.6h-7.4zM544.04 66.4l3.7 6.6h-7.4zM545.22 66.4l3.7 6.6h-7.4zM546.4 66.4l3.7 6.6h-7.4zM547.58 66.4l3.7 6.6h-7.4zM548.76 66.4l3.7 6.6h-7.4zM549.94 66.4l3.7 6.6h-7.4zM551.12 66.4l3.7 6.6h-7.4zM552.3 66.4l3.7 6.6h-7.4zM553.48 66.4l3.7 6.6h-7.4zM554.66 66.4l3.7 6.6h-7.4zM555.84 66.4l3.7 6.6h-7.4zM557.02 66.4l3.7 6.6h-7.4zM558.2 66.4l3.7 6.6h-7.4zM559.38 66.4l3.7 6.6h-7.4zM560.56 66.4l3.7 6.6h-7.4zM561.74 66.4l3.7 6.6h-7.4zM562.92 66.4l3.7 6.6h-7.4zM564.1 66.4l3.7 6.6h-7.4zM565.29 66.4l3.7 6.6h-7.4zM566.47 66.4l3.7 6.6h-7.4zM567.65 66.4l3.7 6.6h-7.4zM568.83 66.4l3.7 6.6h-7.4zM570.01 66.4l3.7 6.6h-7.4zM571.19 66.4l3.7 6.6h-7.4zM572.37 66.4l3.7 6.6h-7.4zM573.55 66.4l3.7 6.6h-7.4zM574.73 66.4l3.7 6.6h-7.4zM575.91 66.4l3.7 6.6h-7.4zM577.09 66.4l3.7 6.6h-7.4zM578.27 66.4l3.7 6.6h-7.4zM579.45 66.4l3.7 6.6h-7.4zM580.63 66.4l3.7 6.6h-7.4zM581.81 66.4l3.7 6.6h-7.4zM582.99 66.4l3.7 6.6h-7.4zM584.17 66.4l3.7 6.6h-7.4zM585.35 66.4l3.7 6.6h-7.4zM586.53 66.4l3.7 6.6h-7.4zM587.71 66.4l3.7 6.6h-7.4zM588.89 66.4l3.7 6.6h-7.4zM590.07 66.4l3.7 6.6h-7.4zM591.25 66.4l3.7 6.6h-7.4zM592.43 66.4l3.7 6.6h-7.4zM593.61 66.4l3.7 6.6h-7.4zM594.79 66.4l3.7 6.6h-7.4zM595.97 66.4l3.7 6.6h-7.4zM597.15 66.4l3.7 6.6h-7.4zM598.33 66.4l3.7 6.6h-7.4zM599.51 66.4l3.7 6.6h-7.4zM600.69 66.4l3.7 6.6h-7.4zM601.87 66.4l3.7 6.6h-7.4zM603.05 66.4l3.7 6.6h-7.4zM604.24 66.4l3.7 6.6h-7.4zM605.42 66.4l3.7 6.6h-7.4zM606.6 66.4l3.7 6.6h-7.4zM607.78 66.4l3.7 6.6h-7.4zM608.96 66.4l3.7 6.6h-7.4zM610.14 66.4l3.7 6.6h-7.4zM611.32 66.4l3.7 6.6h-7.4zM612.5 66.4l3.7 6.6h-7.4zM613.68 66.4l3.7 6.6h-7.4zM614.86 66.4l3.7 6.6h-7.4zM616.04 66.4l3.7 6.6h-7.4zM617.22 66.4l3.7 6.6h-7.4zM618.4 66.4l3.7 6.6h-7.4zM619.58 66.4l3.7 6.6h-7.4zM620.76 66.4l3.7 6.6h-7.4zM621.94 66.4l3.7 6.6h-7.4zM623.12 66.4l3.7 6.6h-7.4zM624.3 66.4l3.7 6.6h-7.4zM625.48 66.4l3.7 6.6h-7.4zM626.66 66.4l3.7 6.6h-7.4zM627.84 66.4l3.7 6.6h-7.4zM629.02 66.4l3.7 6.6h-7.4zM630.2 66.4l3.7 6.6h-7.4zM631.38 66.4l3.7 6.6h-7.4zM632.56 66.4l3.7 6.6h-7.4zM633.74 66.4l3.7 6.6h-7.4zM634.92 66.4l3.7 6.6h-7.4zM636.1 66.4l3.7 6.6h-7.4zM637.28 66.4l3.7 6.6h-7.4zM638.46 66.4l3.7 6.6h-7.4zM639.64 66.4l3.7 6.6h-7.4zM640.82 66.4l3.7 6.6h-7.4zM642 66.4l3.7 6.6h-7.4zM643.18 66.4l3.7 6.6h-7.4zM644.37 66.4l3.7 6.6h-7.4zM645.55 66.4l3.7 6.6h-7.4zM646.73 66.4l3.7 6.6h-7.4zM647.91 66.4l3.7 6.6h-7.4zM649.09 66.4l3.7 6.6h-7.4zM650.27 66.4l3.7 6.6h-7.4zM651.45 66.4l3.7 6.6h-7.4zM652.63 66.4l3.7 6.6h-7.4zM653.81 66.4l3.7 6.6h-7.4zM654.99 66.4l3.7 6.6h-7.4zM656.17 66.4l3.7 6.6h-7.4zM657.35 66.4l3.7 6.6h-7.4zM658.53 66.4l3.7 6.6h-7.4zM659.71 66.4l3.7 6.6h-7.4zM660.89 66.4l3.7 6.6h-7.4zM662.07 66.4l3.7 6.6h-7.4zM663.25 66.4l3.7 6.6h-7.4z" fill="#7E2F8E"/>
<path d="M74.28 379.8L75.46 373.88L76.64 367.95L77.82 362.03L79 356.1L80.18 350.18L81.36 344.26L82.54 338.33L83.72 332.41L84.9 326.48L86.08 320.56L87.26 314.64L88.44 308.71L89.62 302.79L90.8 296.87L91.98 290.94L93.17 285.02L94.35 279.09L95.53 273.17L96.71 267.25L97.89 261.32L99.07 255.4L100.25 249.47L101.43 243.55L102.61 237.63L103.79 231.7L104.97 225.78L106.15 219.85L107.33 213.93L108.51 208.01L109.69 202.08L110.87 196.16L112.05 190.23L113.23 184.31L114.41 178.39L115.59 172.46L116.77 166.54L117.95 160.62L119.13 154.69L120.31 148.77L121.49 142.84L122.67 136.92L123.85 131L125.03 125.07L126.21 119.15L127.39 113.22L128.57 107.3L129.75 101.38L130.93 95.45L132.11 89.53L133.3 71L663.25 71" fill="none" stroke="#FF8000" stroke-width="1.75" stroke-linejoin="round"/>
<path d="M74.28 384.4l3.7 -6.6h-7.4zM75.46 378.48l3.7 -6.6h-7.4zM76.64 372.55l3.7 -6.6h-7.4zM77.82 366.63l3.7 -6.6h-7.4zM79 360.7l3.7 -6.6h-7.4zM80.18 354.78l3.7 -6.6h-7.4zM81.36 348.86l3.7 -6.6h-7.4zM82.54 342.93l3.7 -6.6h-7.4zM83.72 337.01l3.7 -6.6h-7.4zM84.9 331.08l3.7 -6.6h-7.4zM86.08 325.16l3.7 -6.6h-7.4zM87.26 319.24l3.7 -6.6h-7.4zM88.44 313.31l3.7 -6.6h-7.4zM89.62 307.39l3.7 -6.6h-7.4zM90.8 301.47l3.7 -6.6h-7.4zM91.98 295.54l3.7 -6.6h-7.4zM93.17 289.62l3.7 -6.6h-7.4zM94.35 283.69l3.7 -6.6h-7.4zM95.53 277.77l3.7 -6.6h-7.4zM96.71 271.85l3.7 -6.6h-7.4zM97.89 265.92l3.7 -6.6h-7.4zM99.07 260l3.7 -6.6h-7.4zM100.25 254.07l3.7 -6.6h-7.4zM101.43 248.15l3.7 -6.6h-7.4zM102.61 242.23l3.7 -6.6h-7.4zM103.79 236.3l3.7 -6.6h-7.4zM104.97 230.38l3.7 -6.6h-7.4zM106.15 224.45l3.7 -6.6h-7.4zM107.33 218.53l3.7 -6.6h-7.4zM108.51 212.61l3.7 -6.6h-7.4zM109.69 206.68l3.7 -6.6h-7.4zM110.87 200.76l3.7 -6.6h-7.4zM112.05 194.83l3.7 -6.6h-7.4zM113.23 188.91l3.7 -6.6h-7.4zM114.41 182.99l3.7 -6.6h-7.4zM115.59 177.06l3.7 -6.6h-7.4zM116.77 171.14l3.7 -6.6h-7.4zM117.95 165.22l3.7 -6.6h-7.4zM119.13 159.29l3.7 -6.6h-7.4zM120.31 153.37l3.7 -6.6h-7.4zM121.49 147.44l3.7 -6.6h-7.4zM122.67 141.52l3.7 -6.6h-7.4zM123.85 135.6l3.7 -6.6h-7.4zM125.03 129.67l3.7 -6.6h-7.4zM126.21 123.75l3.7 -6.6h-7.4zM127.39 117.82l3.7 -6.6h-7.4zM128.57 111.9l3.7 -6.6h-7.4zM129.75 105.98l3.7 -6.6h-7.4zM130.93 100.05l3.7 -6.6h-7.4zM132.11 94.13l3.7 -6.6h-7.4zM133.3 75.6l3.7 -6.6h-7.4zM134.48 75.6l3.7 -6.6h-7.4zM135.66 75.6l3.7 -6.6h-7.4zM136.84 75.6l3.7 -6.6h-7.4zM138.02 75.6l3.7 -6.6h-7.4zM139.2 75.6l3.7 -6.6h-7.4zM140.38 75.6l3.7 -6.6h-7.4zM141.56 75.6l3.7 -6.6h-7.4zM142.74 75.6l3.7 -6.6h-7.4zM143.92 75.6l3.7 -6.6h-7.4zM145.1 75.6l3.7 -6.6h-7.4zM146.28 75.6l3.7 -6.6h-7.4zM147.46 75.6l3.7 -6.6h-7.4zM148.64 75.6l3.7 -6.6h-7.4zM149.82 75.6l3.7 -6.6h-7.4zM151 75.6l3.7 -6.6h-7.4zM152.18 75.6l3.7 -6.6h-7.4zM153.36 75.6l3.7 -6.6h-7.4zM154.54 75.6l3.7 -6.6h-7.4zM155.72 75.6l3.7 -6.6h-7.4zM156.9 75.6l3.7 -6.6h-7.4zM158.08 75.6l3.7 -6.6h-7.4zM159.26 75.6l3.7 -6.6h-7.4zM160.44 75.6l3.7 -6.6h-7.4zM161.62 75.6l3.7 -6.6h-7.4zM162.8 75.6l3.7 -6.6h-7.4zM163.98 75.6l3.7 -6.6h-7.4zM165.16 75.6l3.7 -6.6h-7.4zM166.34 75.6l3.7 -6.6h-7.4zM167.52 75.6l3.7 -6.6h-7.4zM168.7 75.6l3.7 -6.6h-7.4zM169.88 75.6l3.7 -6.6h-7.4zM171.06 75.6l3.7 -6.6h-7.4zM172.25 75.6l3.7 -6.6h-7.4zM173.43 75.6l3.7 -6.6h-7.4zM174.61 75.6l3.7 -6.6h-7.4zM175.79 75.6l3.7 -6.6h-7.4zM176.97 75.6l3.7 -6.6h-7.4zM178.15 75.6l3.7 -6.6h-7.4zM179.33 75.6l3.7 -6.6h-7.4zM180.51 75.6l3.7 -6.6h-7.4zM181.69 75.6l3.7 -6.6h-7.4zM182.87 75.6l3.7 -6.6h-7.4zM184.05 75.6l3.7 -6.6h-7.4zM185.23 75.6l3.7 -6.6h-7.4zM186.41 75.6l3.7 -6.6h-7.4zM187.59 75.6l3.7 -6.6h-7.4zM188.77 75.6l3.7 -6.6h-7.4zM189.95 75.6l3.7 -6.6h-7.4zM191.13 75.6l3.7 -6.6h-7.4zM192.31 75.6l3.7 -6.6h-7.4zM193.49 75.6l3.7 -6.6h-7.4zM194.67 75.6l3.7 -6.6h-7.4zM195.85 75.6l3.7 -6.6h-7.4zM197.03 75.6l3.7 -6.6h-7.4zM198.21 75.6l3.7 -6.6h-7.4zM199.39 75.6l3.7 -6.6h-7.4zM200.57 75.6l3.7 -6.6h-7.4zM201.75 75.6l3.7 -6.6h-7.4zM202.93 75.6l3.7 -6.6h-7.4zM204.11 75.6l3.7 -6.6h-7.4zM205.29 75.6l3.7 -6.6h-7.4zM206.47 75.6l3.7 -6.6h-7.4zM207.65 75.6l3.7 -6.6h-7.4zM208.83 75.6l3.7 -6.6h-7.4zM210.01 75.6l3.7 -6.6h-7.4zM211.2 75.6l3.7 -6.6h-7.4zM212.38 75.6l3.7 -6.6h-7.4zM213.56 75.6l3.7 -6.6h-7.4zM214.74 75.6l3.7 -6.6h-7.4zM215.92 75.6l3.7 -6.6h-7.4zM217.1 75.6l3.7 -6.6h-7.4zM218.28 75.6l3.7 -6.6h-7.4zM219.46 75.6l3.7 -6.6h-7.4zM220.64 75.6l3.7 -6.6h-7.4zM221.82 75.6l3.7 -6.6h-7.4zM223 75.6l3.7 -6.6h-7.4zM224.18 75.6l3.7 -6.6h-7.4zM225.36 75.6l3.7 -6.6h-7.4zM226.54 75.6l3.7 -6.6h-7.4zM227.72 75.6l3.7 -6.6h-7.4zM228.9 75.6l3.7 -6.6h-7.4zM230.08 75.6l3.7 -6.6h-7.4zM231.26 75.6l3.7 -6.6h-7.4zM232.44 75.6l3.7 -6.6h-7.4zM233.62 75.6l3.7 -6.6h-7.4zM234.8 75.6l3.7 -6.6h-7.4zM235.98 75.6l3.7 -6.6h-7.4zM237.16 75.6l3.7 -6.6h-7.4zM238.34 75.6l3.7 -6.6h-7.4zM239.52 75.6l3.7 -6.6h-7.4zM240.7 75.6l3.7 -6.6h-7.4zM241.88 75.6l3.7 -6.6h-7.4zM243.06 75.6l3.7 -6.6h-7.4zM244.24 75.6l3.7 -6.6h-7.4zM245.42 75.6l3.7 -6.6h-7.4zM246.6 75.6l3.7 -6.6h-7.4zM247.78 75.6l3.7 -6.6h-7.4zM248.96 75.6l3.7 -6.6h-7.4zM250.14 75.6l3.7 -6.6h-7.4zM251.33 75.6l3.7 -6.6h-7.4zM252.51 75.6l3.7 -6.6h-7.4zM253.69 75.6l3.7 -6.6h-7.4zM254.87 75.6l3.7 -6.6h-7.4zM256.05 75.6l3.7 -6.6h-7.4zM257.23 75.6l3.7 -6.6h-7.4zM258.41 75.6l3.7 -6.6h-7.4zM259.59 75.6l3.7 -6.6h-7.4zM260.77 75.6l3.7 -6.6h-7.4zM261.95 75.6l3.7 -6.6h-7.4zM263.13 75.6l3.7 -6.6h-7.4zM264.31 75.6l3.7 -6.6h-7.4zM265.49 75.6l3.7 -6.6h-7.4zM266.67 75.6l3.7 -6.6h-7.4zM267.85 75.6l3.7 -6.6h-7.4zM269.03 75.6l3.7 -6.6h-7.4zM270.21 75.6l3.7 -6.6h-7.4zM271.39 75.6l3.7 -6.6h-7.4zM272.57 75.6l3.7 -6.6h-7.4zM273.75 75.6l3.7 -6.6h-7.4zM274.93 75.6l3.7 -6.6h-7.4zM276.11 75.6l3.7 -6.6h-7.4zM277.29 75.6l3.7 -6.6h-7.4zM278.47 75.6l3.7 -6.6h-7.4zM279.65 75.6l3.7 -6.6h-7.4zM280.83 75.6l3.7 -6.6h-7.4zM282.01 75.6l3.7 -6.6h-7.4zM283.19 75.6l3.7 -6.6h-7.4zM284.37 75.6l3.7 -6.6h-7.4zM285.55 75.6l3.7 -6.6h-7.4zM286.73 75.6l3.7 -6.6h-7.4zM287.91 75.6l3.7 -6.6h-7.4zM289.09 75.6l3.7 -6.6h-7.4zM290.28 75.6l3.7 -6.6h-7.4zM291.46 75.6l3.7 -6.6h-7.4zM292.64 75.6l3.7 -6.6h-7.4zM293.82 75.6l3.7 -6.6h-7.4zM295 75.6l3.7 -6.6h-7.4zM296.18 75.6l3.7 -6.6h-7.4zM297.36 75.6l3.7 -6.6h-7.4zM298.54 75.6l3.7 -6.6h-7.4zM299.72 75.6l3.7 -6.6h-7.4zM300.9 75.6l3.7 -6.6h-7.4zM302.08 75.6l3.7 -6.6h-7.4zM303.26 75.6l3.7 -6.6h-7.4zM304.44 75.6l3.7 -6.6h-7.4zM305.62 75.6l3.7 -6.6h-7.4zM306.8 75.6l3.7 -6.6h-7.4zM307.98 75.6l3.7 -6.6h-7.4zM309.16 75.6l3.7 -6.6h-7.4zM310.34 75.6l3.7 -6.6h-7.4zM311.52 75.6l3.7 -6.6h-7.4zM312.7 75.6l3.7 -6.6h-7.4zM313.88 75.6l3.7 -6.6h-7.4zM315.06 75.6l3.7 -6.6h-7.4zM316.24 75.6l3.7 -6.6h-7.4zM317.42 75.6l3.7 -6.6h-7.4zM318.6 75.6l3.7 -6.6h-7.4zM319.78 75.6l3.7 -6.6h-7.4zM320.96 75.6l3.7 -6.6h-7.4zM322.14 75.6l3.7 -6.6h-7.4zM323.32 75.6l3.7 -6.6h-7.4zM324.5 75.6l3.7 -6.6h-7.4zM325.68 75.6l3.7 -6.6h-7.4zM326.86 75.6l3.7 -6.6h-7.4zM328.04 75.6l3.7 -6.6h-7.4zM329.23 75.6l3.7 -6.6h-7.4zM330.41 75.6l3.7 -6.6h-7.4zM331.59 75.6l3.7 -6.6h-7.4zM332.77 75.6l3.7 -6.6h-7.4zM333.95 75.6l3.7 -6.6h-7.4zM335.13 75.6l3.7 -6.6h-7.4zM336.31 75.6l3.7 -6.6h-7.4zM337.49 75.6l3.7 -6.6h-7.4zM338.67 75.6l3.7 -6.6h-7.4zM339.85 75.6l3.7 -6.6h-7.4zM341.03 75.6l3.7 -6.6h-7.4zM342.21 75.6l3.7 -6.6h-7.4zM343.39 75.6l3.7 -6.6h-7.4zM344.57 75.6l3.7 -6.6h-7.4zM345.75 75.6l3.7 -6.6h-7.4zM346.93 75.6l3.7 -6.6h-7.4zM348.11 75.6l3.7 -6.6h-7.4zM349.29 75.6l3.7 -6.6h-7.4zM350.47 75.6l3.7 -6.6h-7.4zM351.65 75.6l3.7 -6.6h-7.4zM352.83 75.6l3.7 -6.6h-7.4zM354.01 75.6l3.7 -6.6h-7.4zM355.19 75.6l3.7 -6.6h-7.4zM356.37 75.6l3.7 -6.6h-7.4zM357.55 75.6l3.7 -6.6h-7.4zM358.73 75.6l3.7 -6.6h-7.4zM359.91 75.6l3.7 -6.6h-7.4zM361.09 75.6l3.7 -6.6h-7.4zM362.27 75.6l3.7 -6.6h-7.4zM363.45 75.6l3.7 -6.6h-7.4zM364.63 75.6l3.7 -6.6h-7.4zM365.81 75.6l3.7 -6.6h-7.4zM366.99 75.6l3.7 -6.6h-7.4zM368.17 75.6l3.7 -6.6h-7.4zM369.36 75.6l3.7 -6.6h-7.4zM370.54 75.6l3.7 -6.6h-7.4zM371.72 75.6l3.7 -6.6h-7.4zM372.9 75.6l3.7 -6.6h-7.4zM374.08 75.6l3.7 -6.6h-7.4zM375.26 75.6l3.7 -6.6h-7.4zM376.44 75.6l3.7 -6.6h-7.4zM377.62 75.6l3.7 -6.6h-7.4zM378.8 75.6l3.7 -6.6h-7.4zM379.98 75.6l3.7 -6.6h-7.4zM381.16 75.6l3.7 -6.6h-7.4zM382.34 75.6l3.7 -6.6h-7.4zM383.52 75.6l3.7 -6.6h-7.4zM384.7 75.6l3.7 -6.6h-7.4zM385.88 75.6l3.7 -6.6h-7.4zM387.06 75.6l3.7 -6.6h-7.4zM388.24 75.6l3.7 -6.6h-7.4zM389.42 75.6l3.7 -6.6h-7.4zM390.6 75.6l3.7 -6.6h-7.4zM391.78 75.6l3.7 -6.6h-7.4zM392.96 75.6l3.7 -6.6h-7.4zM394.14 75.6l3.7 -6.6h-7.4zM395.32 75.6l3.7 -6.6h-7.4zM396.5 75.6l3.7 -6.6h-7.4zM397.68 75.6l3.7 -6.6h-7.4zM398.86 75.6l3.7 -6.6h-7.4zM400.04 75.6l3.7 -6.6h-7.4zM401.22 75.6l3.7 -6.6h-7.4zM402.4 75.6l3.7 -6.6h-7.4zM403.58 75.6l3.7 -6.6h-7.4zM404.76 75.6l3.7 -6.6h-7.4zM405.94 75.6l3.7 -6.6h-7.4zM407.12 75.6l3.7 -6.6h-7.4zM408.31 75.6l3.7 -6.6h-7.4zM409.49 75.6l3.7 -6.6h-7.4zM410.67 75.6l3.7 -6.6h-7.4zM411.85 75.6l3.7 -6.6h-7.4zM413.03 75.6l3.7 -6.6h-7.4zM414.21 75.6l3.7 -6.6h-7.4zM415.39 75.6l3.7 -6.6h-7.4zM416.57 75.6l3.7 -6.6h-7.4zM417.75 75.6l3.7 -6.6h-7.4zM418.93 75.6l3.7 -6.6h-7.4zM420.11 75.6l3.7 -6.6h-7.4zM421.29 75.6l3.7 -6.6h-7.4zM422.47 75.6l3.7 -6.6h-7.4zM423.65 75.6l3.7 -6.6h-7.4zM424.83 75.6l3.7 -6.6h-7.4zM426.01 75.6l3.7 -6.6h-7.4zM427.19 75.6l3.7 -6.6h-7.4zM428.37 75.6l3.7 -6.6h-7.4zM429.55 75.6l3.7 -6.6h-7.4zM430.73 75.6l3.7 -6.6h-7.4zM431.91 75.6l3.7 -6.6h-7.4zM433.09 75.6l3.7 -6.6h-7.4zM434.27 75.6l3.7 -6.6h-7.4zM435.45 75.6l3.7 -6.6h-7.4zM436.63 75.6l3.7 -6.6h-7.4zM437.81 75.6l3.7 -6.6h-7.4zM438.99 75.6l3.7 -6.6h-7.4zM440.17 75.6l3.7 -6.6h-7.4zM441.35 75.6l3.7 -6.6h-7.4zM442.53 75.6l3.7 -6.6h-7.4zM443.71 75.6l3.7 -6.6h-7.4zM444.89 75.6l3.7 -6.6h-7.4zM446.07 75.6l3.7 -6.6h-7.4zM447.26 75.6l3.7 -6.6h-7.4zM448.44 75.6l3.7 -6.6h-7.4zM449.62 75.6l3.7 -6.6h-7.4zM450.8 75.6l3.7 -6.6h-7.4zM451.98 75.6l3.7 -6.6h-7.4zM453.16 75.6l3.7 -6.6h-7.4zM454.34 75.6l3.7 -6.6h-7.4zM455.52 75.6l3.7 -6.6h-7.4zM456.7 75.6l3.7 -6.6h-7.4zM457.88 75.6l3.7 -6.6h-7.4zM459.06 75.6l3.7 -6.6h-7.4zM460.24 75.6l3.7 -6.6h-7.4zM461.42 75.6l3.7 -6.6h-7.4zM462.6 75.6l3.7 -6.6h-7.4zM463.78 75.6l3.7 -6.6h-7.4zM464.96 75.6l3.7 -6.6h-7.4zM466.14 75.6l3.7 -6.6h-7.4zM467.32 75.6l3.7 -6.6h-7.4zM468.5 75.6l3.7 -6.6h-7.4zM469.68 75.6l3.7 -6.6h-7.4zM470.86 75.6l3.7 -6.6h-7.4zM472.04 75.6l3.7 -6.6h-7.4zM473.22 75.6l3.7 -6.6h-7.4zM474.4 75.6l3.7 -6.6h-7.4zM475.58 75.6l3.7 -6.6h-7.4zM476.76 75.6l3.7 -6.6h-7.4zM477.94 75.6l3.7 -6.6h-7.4zM479.12 75.6l3.7 -6.6h-7.4zM480.3 75.6l3.7 -6.6h-7.4zM481.48 75.6l3.7 -6.6h-7.4zM482.66 75.6l3.7 -6.6h-7.4zM483.84 75.6l3.7 -6.6h-7.4zM485.02 75.6l3.7 -6.6h-7.4zM486.2 75.6l3.7 -6.6h-7.4zM487.39 75.6l3.7 -6.6h-7.4zM488.57 75.6l3.7 -6.6h-7.4zM489.75 75.6l3.7 -6.6h-7.4zM490.93 75.6l3.7 -6.6h-7.4zM492.11 75.6l3.7 -6.6h-7.4zM493.29 75.6l3.7 -6.6h-7.4zM494.47 75.6l3.7 -6.6h-7.4zM495.65 75.6l3.7 -6.6h-7.4zM496.83 75.6l3.7 -6.6h-7.4zM498.01 75.6l3.7 -6.6h-7.4zM499.19 75.6l3.7 -6.6h-7.4zM500.37 75.6l3.7 -6.6h-7.4zM501.55 75.6l3.7 -6.6h-7.4zM502.73 75.6l3.7 -6.6h-7.4zM503.91 75.6l3.7 -6.6h-7.4zM505.09 75.6l3.7 -6.6h-7.4zM506.27 75.6l3.7 -6.6h-7.4zM507.45 75.6l3.7 -6.6h-7.4zM508.63 75.6l3.7 -6.6h-7.4zM509.81 75.6l3.7 -6.6h-7.4zM510.99 75.6l3.7 -6.6h-7.4zM512.17 75.6l3.7 -6.6h-7.4zM513.35 75.6l3.7 -6.6h-7.4zM514.53 75.6l3.7 -6.6h-7.4zM515.71 75.6l3.7 -6.6h-7.4zM516.89 75.6l3.7 -6.6h-7.4zM518.07 75.6l3.7 -6.6h-7.4zM519.25 75.6l3.7 -6.6h-7.4zM520.43 75.6l3.7 -6.6h-7.4zM521.61 75.6l3.7 -6.6h-7.4zM522.79 75.6l3.7 -6.6h-7.4zM523.97 75.6l3.7 -6.6h-7.4zM525.15 75.6l3.7 -6.6h-7.4zM526.34 75.6l3.7 -6.6h-7.4zM527.52 75.6l3.7 -6.6h-7.4zM528.7 75.6l3.7 -6.6h-7.4zM529.88 75.6l3.7 -6.6h-7.4zM531.06 75.6l3.7 -6.6h-7.4zM532.24 75.6l3.7 -6.6h-7.4zM533.42 75.6l3.7 -6.6h-7.4zM534.6 75.6l3.7 -6.6h-7.4zM535.78 75.6l3.7 -6.6h-7.4zM536.96 75.6l3.7 -6.6h-7.4zM538.14 75.6l3.7 -6.6h-7.4zM539.32 75.6l3.7 -6.6h-7.4zM540.5 75.6l3.7 -6.6h-7.4zM541.68 75.6l3.7 -6.6h-7.4zM542.86 75.6l3.7 -6.6h-7.4zM544.04 75.6l3.7 -6.6h-7.4zM545.22 75.6l3.7 -6.6h-7.4zM546.4 75.6l3.7 -6.6h-7.4zM547.58 75.6l3.7 -6.6h-7.4zM548.76 75.6l3.7 -6.6h-7.4zM549.94 75.6l3.7 -6.6h-7.4zM551.12 75.6l3.7 -6.6h-7.4zM552.3 75.6l3.7 -6.6h-7.4zM553.48 75.6l3.7 -6.6h-7.4zM554.66 75.6l3.7 -6.6h-7.4zM555.84 75.6l3.7 -6.6h-7.4zM557.02 75.6l3.7 -6.6h-7.4zM558.2 75.6l3.7 -6.6h-7.4zM559.38 75.6l3.7 -6.6h-7.4zM560.56 75.6l3.7 -6.6h-7.4zM561.74 75.6l3.7 -6.6h-7.4zM562.92 75.6l3.7 -6.6h-7.4zM564.1 75.6l3.7 -6.6h-7.4zM565.29 75.6l3.7 -6.6h-7.4zM566.47 75.6l3.7 -6.6h-7.4zM567.65 75.6l3.7 -6.6h-7.4zM568.83 75.6l3.7 -6.6h-7.4zM570.01 75.6l3.7 -6.6h-7.4zM571.19 75.6l3.7 -6.6h-7.4zM572.37 75.6l3.7 -6.6h-7.4zM573.55 75.6l3.7 -6.6h-7.4zM574.73 75.6l3.7 -6.6h-7.4zM575.91 75.6l3.7 -6.6h-7.4zM577.09 75.6l3.7 -6.6h-7.4zM578.27 75.6l3.7 -6.6h-7.4zM579.45 75.6l3.7 -6.6h-7.4zM580.63 75.6l3.7 -6.6h-7.4zM581.81 75.6l3.7 -6.6h-7.4zM582.99 75.6l3.7 -6.6h-7.4zM584.17 75.6l3.7 -6.6h-7.4zM585.35 75.6l3.7 -6.6h-7.4zM586.53 75.6l3.7 -6.6h-7.4zM587.71 75.6l3.7 -6.6h-7.4zM588.89 75.6l3.7 -6.6h-7.4zM590.07 75.6l3.7 -6.6h-7.4zM591.25 75.6l3.7 -6.6h-7.4zM592.43 75.6l3.7 -6.6h-7.4zM593.61 75.6l3.7 -6.6h-7.4zM594.79 75.6l3.7 -6.6h-7.4zM595.97 75.6l3.7 -6.6h-7.4zM597.15 75.6l3.7 -6.6h-7.4zM598.33 75.6l3.7 -6.6h-7.4zM599.51 75.6l3.7 -6.6h-7.4zM600.69 75.6l3.7 -6.6h-7.4zM601.87 75.6l3.7 -6.6h-7.4zM603.05 75.6l3.7 -6.6h-7.4zM604.24 75.6l3.7 -6.6h-7.4zM605.42 75.6l3.7 -6.6h-7.4zM606.6 75.6l3.7 -6.6h-7.4zM607.78 75.6l3.7 -6.6h-7.4zM608.96 75.6l3.7 -6.6h-7.4zM610.14 75.6l3.7 -6.6h-7.4zM611.32 75.6l3.7 -6.6h-7.4zM612.5 75.6l3.7 -6.6h-7.4zM613.68 75.6l3.7 -6.6h-7.4zM614.86 75.6l3.7 -6.6h-7.4zM616.04 75.6l3.7 -6.6h-7.4zM617.22 75.6l3.7 -6.6h-7.4zM618.4 75.6l3.7 -6.6h-7.4zM619.58 75.6l3.7 -6.6h-7.4zM620.76 75.6l3.7 -6.6h-7.4zM621.94 75.6l3.7 -6.6h-7.4zM623.12 75.6l3.7 -6.6h-7.4zM624.3 75.6l3.7 -6.6h-7.4zM625.48 75.6l3.7 -6.6h-7.4zM626.66 75.6l3.7 -6.6h-7.4zM627.84 75.6l3.7 -6.6h-7.4zM629.02 75.6l3.7 -6.6h-7.4zM630.2 75.6l3.7 -6.6h-7.4zM631.38 75.6l3.7 -6.6h-7.4zM632.56 75.6l3.7 -6.6h-7.4zM633.74 75.6l3.7 -6.6h-7.4zM634.92 75.6l3.7 -6.6h-7.4zM636.1 75.6l3.7 -6.6h-7.4zM637.28 75.6l3.7 -6.6h-7.4zM638.46 75.6l3.7 -6.6h-7.4zM639.64 75.6l3.7 -6.6h-7.4zM640.82 75.6l3.7 -6.6h-7.4zM642 75.6l3.7 -6.6h-7.4zM643.18 75.6l3.7 -6.6h-7.4zM644.37 75.6l3.7 -6.6h-7.4zM645.55 75.6l3.7 -6.6h-7.4zM646.73 75.6l3.7 -6.6h-7.4zM647.91 75.6l3.7 -6.6h-7.4zM649.09 75.6l3.7 -6.6h-7.4zM650.27 75.6l3.7 -6.6h-7.4zM651.45 75.6l3.7 -6.6h-7.4zM652.63 75.6l3.7 -6.6h-7.4zM653.81 75.6l3.7 -6.6h-7.4zM654.99 75.6l3.7 -6.6h-7.4zM656.17 75.6l3.7 -6.6h-7.4zM657.35 75.6l3.7 -6.6h-7.4zM658.53 75.6l3.7 -6.6h-7.4zM659.71 75.6l3.7 -6.6h-7.4zM660.89 75.6l3.7 -6.6h-7.4zM662.07 75.6l3.7 -6.6h-7.4zM663.25 75.6l3.7 -6.6h-7.4z" fill="#FF8000"/>
<path d="M74.28 379.8L75.46 373.62L76.64 367.45L77.82 361.27L79 355.1L80.18 348.92L81.36 342.74L82.54 336.57L83.72 330.39L84.9 324.22L86.08 318.04L87.26 311.86L88.44 305.69L89.62 299.51L90.8 293.34L91.98 287.16L93.17 280.98L94.35 274.81L95.53 268.63L96.71 262.46L97.89 256.28L99.07 250.1L100.25 243.93L101.43 237.75L102.61 231.58L103.79 225.4L104.97 219.22L106.15 213.05L107.33 206.87L108.51 200.7L109.69 194.52L110.87 188.34L112.05 182.17L113.23 175.99L114.41 169.82L115.59 163.64L116.77 157.46L117.95 151.29L119.13 145.11L120.31 138.94L121.49 132.76L122.67 126.58L123.85 120.41L125.03 114.23L126.21 108.06L127.39 101.88L128.57 95.7L129.75 89.53L130.93 83.35L132.11 77.18L133.3 71L663.25 71" fill="none" stroke="#1496F6" stroke-width="1.75" stroke-linejoin="round"/>
<path d="M71.98 379.8a2.3 2.3 0 1 0 4.6 0a2.3 2.3 0 1 0 -4.6 0zM73.16 373.62a2.3 2.3 0 1 0 4.6 0a2.3 2.3 0 1 0 -4.6 0zM74.34 367.45a2.3 2.3 0 1 0 4.6 0a2.3 2.3 0 1 0 -4.6 0zM75.52 361.27a2.3 2.3 0 1 0 4.6 0a2.3 2.3 0 1 0 -4.6 0zM76.7 355.1a2.3 2.3 0 1 0 4.6 0a2.3 2.3 0 1 0 -4.6 0zM77.88 348.92a2.3 2.3 0 1 0 4.6 0a2.3 2.3 0 1 0 -4.6 0zM79.06 342.74a2.3 2.3 0 1 0 4.6 0a2.3 2.3 0 1 0 -4.6 0zM80.24 336.57a2.3 2.3 0 1 0 4.6 0a2.3 2.3 0 1 0 -4.6 0zM81.42 330.39a2.3 2.3 0 1 0 4.6 0a2.3 2.3 0 1 0 -4.6 0zM82.6 324.22a2.3 2.3 0 1 0 4.6 0a2.3 2.3 0 1 0 -4.6 0zM83.78 318.04a2.3 2.3 0 1 0 4.6 0a2.3 2.3 0 1 0 -4.6 0zM84.96 311.86a2.3 2.3 0 1 0 4.6 0a2.3 2.3 0 1 0 -4.6 0zM86.14 305.69a2.3 2.3 0 1 0 4.6 0a2.3 2.3 0 1 0 -4.6 0zM87.32 299.51a2.3 2.3 0 1 0 4.6 0a2.3 2.3 0 1 0 -4.6 0zM88.5 293.34a2.3 2.3 0 1 0 4.6 0a2.3 2.3 0 1 0 -4.6 0zM89.68 287.16a2.3 2.3 0 1 0 4.6 0a2.3 2.3 0 1 0 -4.6 0zM90.87 280.98a2.3 2.3 0 1 0 4.6 0a2.3 2.3 0 1 0 -4.6 0zM92.05 274.81a2.3 2.3 0 1 0 4.6 0a2.3 2.3 0 1 0 -4.6 0zM93.23 268.63a2.3 2.3 0 1 0 4.6 0a2.3 2.3 0 1 0 -4.6 0zM94.41 262.46a2.3 2.3 0 1 0 4.6 0a2.3 2.3 0 1 0 -4.6 0zM95.59 256.28a2.3 2.3 0 1 0 4.6 0a2.3 2.3 0 1 0 -4.6 0zM96.77 250.1a2.3 2.3 0 1 0 4.6 0a2.3 2.3 0 1 0 -4.6 0zM97.95 243.93a2.3 2.3 0 1 0 4.6 0a2.3 2.3 0 1 0 -4.6 0zM99.13 237.75a2.3 2.3 0 1 0 4.6 0a2.3 2.3 0 1 0 -4.6 0zM100.31 231.58a2.3 2.3 0 1 0 4.6 0a2.3 2.3 0 1 0 -4.6 0zM101.49 225.4a2.3 2.3 0 1 0 4.6 0a2.3 2.3 0 1 0 -4.6 0zM102.67 219.22a2.3 2.3 0 1 0 4.6 0a2.3 2.3 0 1 0 -4.6 0zM103.85 213.05a2.3 2.3 0 1 0 4.6 0a2.3 2.3 0 1 0 -4.6 0zM105.03 206.87a2.3 2.3 0 1 0 4.6 0a2.3 2.3 0 1 0 -4.6 0zM106.21 200.7a2.3 2.3 0 1 0 4.6 0a2.3 2.3 0 1 0 -4.6 0zM107.39 194.52a2.3 2.3 0 1 0 4.6 0a2.3 2.3 0 1 0 -4.6 0zM108.57 188.34a2.3 2.3 0 1 0 4.6 0a2.3 2.3 0 1 0 -4.6 0zM109.75 182.17a2.3 2.3 0 1 0 4.6 0a2.3 2.3 0 1 0 -4.6 0zM110.93 175.99a2.3 2.3 0 1 0 4.6 0a2.3 2.3 0 1 0 -4.6 0zM112.11 169.82a2.3 2.3 0 1 0 4.6 0a2.3 2.3 0 1 0 -4.6 0zM113.29 163.64a2.3 2.3 0 1 0 4.6 0a2.3 2.3 0 1 0 -4.6 0zM114.47 157.46a2.3 2.3 0 1 0 4.6 0a2.3 2.3 0 1 0 -4.6 0zM115.65 151.29a2.3 2.3 0 1 0 4.6 0a2.3 2.3 0 1 0 -4.6 0zM116.83 145.11a2.3 2.3 0 1 0 4.6 0a2.3 2.3 0 1 0 -4.6 0zM118.01 138.94a2.3 2.3 0 1 0 4.6 0a2.3 2.3 0 1 0 -4.6 0zM119.19 132.76a2.3 2.3 0 1 0 4.6 0a2.3 2.3 0 1 0 -4.6 0zM120.37 126.58a2.3 2.3 0 1 0 4.6 0a2.3 2.3 0 1 0 -4.6 0zM121.55 120.41a2.3 2.3 0 1 0 4.6 0a2.3 2.3 0 1 0 -4.6 0zM122.73 114.23a2.3 2.3 0 1 0 4.6 0a2.3 2.3 0 1 0 -4.6 0zM123.91 108.06a2.3 2.3 0 1 0 4.6 0a2.3 2.3 0 1 0 -4.6 0zM125.09 101.88a2.3 2.3 0 1 0 4.6 0a2.3 2.3 0 1 0 -4.6 0zM126.27 95.7a2.3 2.3 0 1 0 4.6 0a2.3 2.3 0 1 0 -4.6 0zM127.45 89.53a2.3 2.3 0 1 0 4.6 0a2.3 2.3 0 1 0 -4.6 0zM128.63 83.35a2.3 2.3 0 1 0 4.6 0a2.3 2.3 0 1 0 -4.6 0zM129.81 77.18a2.3 2.3 0 1 0 4.6 0a2.3 2.3 0 1 0 -4.6 0zM131 71a2.3 2.3 0 1 0 4.6 0a2.3 2.3 0 1 0 -4.6 0zM132.18 71a2.3 2.3 0 1 0 4.6 0a2.3 2.3 0 1 0 -4.6 0zM133.36 71a2.3 2.3 0 1 0 4.6 0a2.3 2.3 0 1 0 -4.6 0zM134.54 71a2.3 2.3 0 1 0 4.6 0a2.3 2.3 0 1 0 -4.6 0zM135.72 71a2.3 2.3 0 1 0 4.6 0a2.3 2.3 0 1 0 -4.6 0zM136.9 71a2.3 2.3 0 1 0 4.6 0a2.3 2.3 0 1 0 -4.6 0zM138.08 71a2.3 2.3 0 1 0 4.6 0a2.3 2.3 0 1 0 -4.6 0zM139.26 71a2.3 2.3 0 1 0 4.6 0a2.3 2.3 0 1 0 -4.6 0zM140.44 71a2.3 2.3 0 1 0 4.6 0a2.3 2.3 0 1 0 -4.6 0zM141.62 71a2.3 2.3 0 1 0 4.6 0a2.3 2.3 0 1 0 -4.6 0zM142.8 71a2.3 2.3 0 1 0 4.6 0a2.3 2.3 0 1 0 -4.6 0zM143.98 71a2.3 2.3 0 1 0 4.6 0a2.3 2.3 0 1 0 -4.6 0zM145.16 71a2.3 2.3 0 1 0 4.6 0a2.3 2.3 0 1 0 -4.6 0zM146.34 71a2.3 2.3 0 1 0 4.6 0a2.3 2.3 0 1 0 -4.6 0zM147.52 71a2.3 2.3 0 1 0 4.6 0a2.3 2.3 0 1 0 -4.6 0zM148.7 71a2.3 2.3 0 1 0 4.6 0a2.3 2.3 0 1 0 -4.6 0zM149.88 71a2.3 2.3 0 1 0 4.6 0a2.3 2.3 0 1 0 -4.6 0zM151.06 71a2.3 2.3 0 1 0 4.6 0a2.3 2.3 0 1 0 -4.6 0zM152.24 71a2.3 2.3 0 1 0 4.6 0a2.3 2.3 0 1 0 -4.6 0zM153.42 71a2.3 2.3 0 1 0 4.6 0a2.3 2.3 0 1 0 -4.6 0zM154.6 71a2.3 2.3 0 1 0 4.6 0a2.3 2.3 0 1 0 -4.6 0zM155.78 71a2.3 2.3 0 1 0 4.6 0a2.3 2.3 0 1 0 -4.6 0zM156.96 71a2.3 2.3 0 1 0 4.6 0a2.3 2.3 0 1 0 -4.6 0zM158.14 71a2.3 2.3 0 1 0 4.6 0a2.3 2.3 0 1 0 -4.6 0zM159.32 71a2.3 2.3 0 1 0 4.6 0a2.3 2.3 0 1 0 -4.6 0zM160.5 71a2.3 2.3 0 1 0 4.6 0a2.3 2.3 0 1 0 -4.6 0zM161.68 71a2.3 2.3 0 1 0 4.6 0a2.3 2.3 0 1 0 -4.6 0zM162.86 71a2.3 2.3 0 1 0 4.6 0a2.3 2.3 0 1 0 -4.6 0zM164.04 71a2.3 2.3 0 1 0 4.6 0a2.3 2.3 0 1 0 -4.6 0zM165.22 71a2.3 2.3 0 1 0 4.6 0a2.3 2.3 0 1 0 -4.6 0zM166.4 71a2.3 2.3 0 1 0 4.6 0a2.3 2.3 0 1 0 -4.6 0zM167.58 71a2.3 2.3 0 1 0 4.6 0a2.3 2.3 0 1 0 -4.6 0zM168.76 71a2.3 2.3 0 1 0 4.6 0a2.3 2.3 0 1 0 -4.6 0zM169.95 71a2.3 2.3 0 1 0 4.6 0a2.3 2.3 0 1 0 -4.6 0zM171.13 71a2.3 2.3 0 1 0 4.6 0a2.3 2.3 0 1 0 -4.6 0zM172.31 71a2.3 2.3 0 1 0 4.6 0a2.3 2.3 0 1 0 -4.6 0zM173.49 71a2.3 2.3 0 1 0 4.6 0a2.3 2.3 0 1 0 -4.6 0zM174.67 71a2.3 2.3 0 1 0 4.6 0a2.3 2.3 0 1 0 -4.6 0zM175.85 71a2.3 2.3 0 1 0 4.6 0a2.3 2.3 0 1 0 -4.6 0zM177.03 71a2.3 2.3 0 1 0 4.6 0a2.3 2.3 0 1 0 -4.6 0zM178.21 71a2.3 2.3 0 1 0 4.6 0a2.3 2.3 0 1 0 -4.6 0zM179.39 71a2.3 2.3 0 1 0 4.6 0a2.3 2.3 0 1 0 -4.6 0zM180.57 71a2.3 2.3 0 1 0 4.6 0a2.3 2.3 0 1 0 -4.6 0zM181.75 71a2.3 2.3 0 1 0 4.6 0a2.3 2.3 0 1 0 -4.6 0zM182.93 71a2.3 2.3 0 1 0 4.6 0a2.3 2.3 0 1 0 -4.6 0zM184.11 71a2.3 2.3 0 1 0 4.6 0a2.3 2.3 0 1 0 -4.6 0zM185.29 71a2.3 2.3 0 1 0 4.6 0a2.3 2.3 0 1 0 -4.6 0zM186.47 71a2.3 2.3 0 1 0 4.6 0a2.3 2.3 0 1 0 -4.6 0zM187.65 71a2.3 2.3 0 1 0 4.6 0a2.3 2.3 0 1 0 -4.6 0zM188.83 71a2.3 2.3 0 1 0 4.6 0a2.3 2.3 0 1 0 -4.6 0zM190.01 71a2.3 2.3 0 1 0 4.6 0a2.3 2.3 0 1 0 -4.6 0zM191.19 71a2.3 2.3 0 1 0 4.6 0a2.3 2.3 0 1 0 -4.6 0zM192.37 71a2.3 2.3 0 1 0 4.6 0a2.3 2.3 0 1 0 -4.6 0zM193.55 71a2.3 2.3 0 1 0 4.6 0a2.3 2.3 0 1 0 -4.6 0zM194.73 71a2.3 2.3 0 1 0 4.6 0a2.3 2.3 0 1 0 -4.6 0zM195.91 71a2.3 2.3 0 1 0 4.6 0a2.3 2.3 0 1 0 -4.6 0zM197.09 71a2.3 2.3 0 1 0 4.6 0a2.3 2.3 0 1 0 -4.6 0zM198.27 71a2.3 2.3 0 1 0 4.6 0a2.3 2.3 0 1 0 -4.6 0zM199.45 71a2.3 2.3 0 1 0 4.6 0a2.3 2.3 0 1 0 -4.6 0zM200.63 71a2.3 2.3 0 1 0 4.6 0a2.3 2.3 0 1 0 -4.6 0zM201.81 71a2.3 2.3 0 1 0 4.6 0a2.3 2.3 0 1 0 -4.6 0zM202.99 71a2.3 2.3 0 1 0 4.6 0a2.3 2.3 0 1 0 -4.6 0zM204.17 71a2.3 2.3 0 1 0 4.6 0a2.3 2.3 0 1 0 -4.6 0zM205.35 71a2.3 2.3 0 1 0 4.6 0a2.3 2.3 0 1 0 -4.6 0zM206.53 71a2.3 2.3 0 1 0 4.6 0a2.3 2.3 0 1 0 -4.6 0zM207.71 71a2.3 2.3 0 1 0 4.6 0a2.3 2.3 0 1 0 -4.6 0zM208.9 71a2.3 2.3 0 1 0 4.6 0a2.3 2.3 0 1 0 -4.6 0zM210.08 71a2.3 2.3 0 1 0 4.6 0a2.3 2.3 0 1 0 -4.6 0zM211.26 71a2.3 2.3 0 1 0 4.6 0a2.3 2.3 0 1 0 -4.6 0zM212.44 71a2.3 2.3 0 1 0 4.6 0a2.3 2.3 0 1 0 -4.6 0zM213.62 71a2.3 2.3 0 1 0 4.6 0a2.3 2.3 0 1 0 -4.6 0zM214.8 71a2.3 2.3 0 1 0 4.6 0a2.3 2.3 0 1 0 -4.6 0zM215.98 71a2.3 2.3 0 1 0 4.6 0a2.3 2.3 0 1 0 -4.6 0zM217.16 71a2.3 2.3 0 1 0 4.6 0a2.3 2.3 0 1 0 -4.6 0zM218.34 71a2.3 2.3 0 1 0 4.6 0a2.3 2.3 0 1 0 -4.6 0zM219.52 71a2.3 2.3 0 1 0 4.6 0a2.3 2.3 0 1 0 -4.6 0zM220.7 71a2.3 2.3 0 1 0 4.6 0a2.3 2.3 0 1 0 -4.6 0zM221.88 71a2.3 2.3 0 1 0 4.6 0a2.3 2.3 0 1 0 -4.6 0zM223.06 71a2.3 2.3 0 1 0 4.6 0a2.3 2.3 0 1 0 -4.6 0zM224.24 71a2.3 2.3 0 1 0 4.6 0a2.3 2.3 0 1 0 -4.6 0zM225.42 71a2.3 2.3 0 1 0 4.6 0a2.3 2.3 0 1 0 -4.6 0zM226.6 71a2.3 2.3 0 1 0 4.6 0a2.3 2.3 0 1 0 -4.6 0zM227.78 71a2.3 2.3 0 1 0 4.6 0a2.3 2.3 0 1 0 -4.6 0zM228.96 71a2.3 2.3 0 1 0 4.6 0a2.3 2.3 0 1 0 -4.6 0zM230.14 71a2.3 2.3 0 1 0 4.6 0a2.3 2.3 0 1 0 -4.6 0zM231.32 71a2.3 2.3 0 1 0 4.6 0a2.3 2.3 0 1 0 -4.6 0zM232.5 71a2.3 2.3 0 1 0 4.6 0a2.3 2.3 0 1 0 -4.6 0zM233.68 71a2.3 2.3 0 1 0 4.6 0a2.3 2.3 0 1 0 -4.6 0zM234.86 71a2.3 2.3 0 1 0 4.6 0a2.3 2.3 0 1 0 -4.6 0zM236.04 71a2.3 2.3 0 1 0 4.6 0a2.3 2.3 0 1 0 -4.6 0zM237.22 71a2.3 2.3 0 1 0 4.6 0a2.3 2.3 0 1 0 -4.6 0zM238.4 71a2.3 2.3 0 1 0 4.6 0a2.3 2.3 0 1 0 -4.6 0zM239.58 71a2.3 2.3 0 1 0 4.6 0a2.3 2.3 0 1 0 -4.6 0zM240.76 71a2.3 2.3 0 1 0 4.6 0a2.3 2.3 0 1 0 -4.6 0zM241.94 71a2.3 2.3 0 1 0 4.6 0a2.3 2.3 0 1 0 -4.6 0zM243.12 71a2.3 2.3 0 1 0 4.6 0a2.3 2.3 0 1 0 -4.6 0zM244.3 71a2.3 2.3 0 1 0 4.6 0a2.3 2.3 0 1 0 -4.6 0zM245.48 71a2.3 2.3 0 1 0 4.6 0a2.3 2.3 0 1 0 -4.6 0zM246.66 71a2.3 2.3 0 1 0 4.6 0a2.3 2.3 0 1 0 -4.6 0zM247.84 71a2.3 2.3 0 1 0 4.6 0a2.3 2.3 0 1 0 -4.6 0zM249.03 71a2.3 2.3 0 1 0 4.6 0a2.3 2.3 0 1 0 -4.6 0zM250.21 71a2.3 2.3 0 1 0 4.6 0a2.3 2.3 0 1 0 -4.6 0zM251.39 71a2.3 2.3 0 1 0 4.6 0a2.3 2.3 0 1 0 -4.6 0zM252.57 71a2.3 2.3 0 1 0 4.6 0a2.3 2.3 0 1 0 -4.6 0zM253.75 71a2.3 2.3 0 1 0 4.6 0a2.3 2.3 0 1 0 -4.6 0zM254.93 71a2.3 2.3 0 1 0 4.6 0a2.3 2.3 0 1 0 -4.6 0zM256.11 71a2.3 2.3 0 1 0 4.6 0a2.3 2.3 0 1 0 -4.6 0zM257.29 71a2.3 2.3 0 1 0 4.6 0a2.3 2.3 0 1 0 -4.6 0zM258.47 71a2.3 2.3 0 1 0 4.6 0a2.3 2.3 0 1 0 -4.6 0zM259.65 71a2.3 2.3 0 1 0 4.6 0a2.3 2.3 0 1 0 -4.6 0zM260.83 71a2.3 2.3 0 1 0 4.6 0a2.3 2.3 0 1 0 -4.6 0zM262.01 71a2.3 2.3 0 1 0 4.6 0a2.3 2.3 0 1 0 -4.6 0zM263.19 71a2.3 2.3 0 1 0 4.6 0a2.3 2.3 0 1 0 -4.6 0zM264.37 71a2.3 2.3 0 1 0 4.6 0a2.3 2.3 0 1 0 -4.6 0zM265.55 71a2.3 2.3 0 1 0 4.6 0a2.3 2.3 0 1 0 -4.6 0zM266.73 71a2.3 2.3 0 1 0 4.6 0a2.3 2.3 0 1 0 -4.6 0zM267.91 71a2.3 2.3 0 1 0 4.6 0a2.3 2.3 0 1 0 -4.6 0zM269.09 71a2.3 2.3 0 1 0 4.6 0a2.3 2.3 0 1 0 -4.6 0zM270.27 71a2.3 2.3 0 1 0 4.6 0a2.3 2.3 0 1 0 -4.6 0zM271.45 71a2.3 2.3 0 1 0 4.6 0a2.3 2.3 0 1 0 -4.6 0zM272.63 71a2.3 2.3 0 1 0 4.6 0a2.3 2.3 0 1 0 -4.6 0zM273.81 71a2.3 2.3 0 1 0 4.6 0a2.3 2.3 0 1 0 -4.6 0zM274.99 71a2.3 2.3 0 1 0 4.6 0a2.3 2.3 0 1 0 -4.6 0zM276.17 71a2.3 2.3 0 1 0 4.6 0a2.3 2.3 0 1 0 -4.6 0zM277.35 71a2.3 2.3 0 1 0 4.6 0a2.3 2.3 0 1 0 -4.6 0zM278.53 71a2.3 2.3 0 1 0 4.6 0a2.3 2.3 0 1 0 -4.6 0zM279.71 71a2.3 2.3 0 1 0 4.6 0a2.3 2.3 0 1 0 -4.6 0zM280.89 71a2.3 2.3 0 1 0 4.6 0a2.3 2.3 0 1 0 -4.6 0zM282.07 71a2.3 2.3 0 1 0 4.6 0a2.3 2.3 0 1 0 -4.6 0zM283.25 71a2.3 2.3 0 1 0 4.6 0a2.3 2.3 0 1 0 -4.6 0zM284.43 71a2.3 2.3 0 1 0 4.6 0a2.3 2.3 0 1 0 -4.6 0zM285.61 71a2.3 2.3 0 1 0 4.6 0a2.3 2.3 0 1 0 -4.6 0zM286.79 71a2.3 2.3 0 1 0 4.6 0a2.3 2.3 0 1 0 -4.6 0zM287.98 71a2.3 2.3 0 1 0 4.6 0a2.3 2.3 0 1 0 -4.6 0zM289.16 71a2.3 2.3 0 1 0 4.6 0a2.3 2.3 0 1 0 -4.6 0zM290.34 71a2.3 2.3 0 1 0 4.6 0a2.3 2.3 0 1 0 -4.6 0zM291.52 71a2.3 2.3 0 1 0 4.6 0a2.3 2.3 0 1 0 -4.6 0zM292.7 71a2.3 2.3 0 1 0 4.6 0a2.3 2.3 0 1 0 -4.6 0zM293.88 71a2.3 2.3 0 1 0 4.6 0a2.3 2.3 0 1 0 -4.6 0zM295.06 71a2.3 2.3 0 1 0 4.6 0a2.3 2.3 0 1 0 -4.6 0zM296.24 71a2.3 2.3 0 1 0 4.6 0a2.3 2.3 0 1 0 -4.6 0zM297.42 71a2.3 2.3 0 1 0 4.6 0a2.3 2.3 0 1 0 -4.6 0zM298.6 71a2.3 2.3 0 1 0 4.6 0a2.3 2.3 0 1 0 -4.6 0zM299.78 71a2.3 2.3 0 1 0 4.6 0a2.3 2.3 0 1 0 -4.6 0zM300.96 71a2.3 2.3 0 1 0 4.6 0a2.3 2.3 0 1 0 -4.6 0zM302.14 71a2.3 2.3 0 1 0 4.6 0a2.3 2.3 0 1 0 -4.6 0zM303.32 71a2.3 2.3 0 1 0 4.6 0a2.3 2.3 0 1 0 -4.6 0zM304.5 71a2.3 2.3 0 1 0 4.6 0a2.3 2.3 0 1 0 -4.6 0zM305.68 71a2.3 2.3 0 1 0 4.6 0a2.3 2.3 0 1 0 -4.6 0zM306.86 71a2.3 2.3 0 1 0 4.6 0a2.3 2.3 0 1 0 -4.6 0zM308.04 71a2.3 2.3 0 1 0 4.6 0a2.3 2.3 0 1 0 -4.6 0zM309.22 71a2.3 2.3 0 1 0 4.6 0a2.3 2.3 0 1 0 -4.6 0zM310.4 71a2.3 2.3 0 1 0 4.6 0a2.3 2.3 0 1 0 -4.6 0zM311.58 71a2.3 2.3 0 1 0 4.6 0a2.3 2.3 0 1 0 -4.6 0zM312.76 71a2.3 2.3 0 1 0 4.6 0a2.3 2.3 0 1 0 -4.6 0zM313.94 71a2.3 2.3 0 1 0 4.6 0a2.3 2.3 0 1 0 -4.6 0zM315.12 71a2.3 2.3 0 1 0 4.6 0a2.3 2.3 0 1 0 -4.6 0zM316.3 71a2.3 2.3 0 1 0 4.6 0a2.3 2.3 0 1 0 -4.6 0zM317.48 71a2.3 2.3 0 1 0 4.6 0a2.3 2.3 0 1 0 -4.6 0zM318.66 71a2.3 2.3 0 1 0 4.6 0a2.3 2.3 0 1 0 -4.6 0zM319.84 71a2.3 2.3 0 1 0 4.6 0a2.3 2.3 0 1 0 -4.6 0zM321.02 71a2.3 2.3 0 1 0 4.6 0a2.3 2.3 0 1 0 -4.6 0zM322.2 71a2.3 2.3 0 1 0 4.6 0a2.3 2.3 0 1 0 -4.6 0zM323.38 71a2.3 2.3 0 1 0 4.6 0a2.3 2.3 0 1 0 -4.6 0zM324.56 71a2.3 2.3 0 1 0 4.6 0a2.3 2.3 0 1 0 -4.6 0zM325.74 71a2.3 2.3 0 1 0 4.6 0a2.3 2.3 0 1 0 -4.6 0zM326.93 71a2.3 2.3 0 1 0 4.6 0a2.3 2.3 0 1 0 -4.6 0zM328.11 71a2.3 2.3 0 1 0 4.6 0a2.3 2.3 0 1 0 -4.6 0zM329.29 71a2.3 2.3 0 1 0 4.6 0a2.3 2.3 0 1 0 -4.6 0zM330.47 71a2.3 2.3 0 1 0 4.6 0a2.3 2.3 0 1 0 -4.6 0zM331.65 71a2.3 2.3 0 1 0 4.6 0a2.3 2.3 0 1 0 -4.6 0zM332.83 71a2.3 2.3 0 1 0 4.6 0a2.3 2.3 0 1 0 -4.6 0zM334.01 71a2.3 2.3 0 1 0 4.6 0a2.3 2.3 0 1 0 -4.6 0zM335.19 71a2.3 2.3 0 1 0 4.6 0a2.3 2.3 0 1 0 -4.6 0zM336.37 71a2.3 2.3 0 1 0 4.6 0a2.3 2.3 0 1 0 -4.6 0zM337.55 71a2.3 2.3 0 1 0 4.6 0a2.3 2.3 0 1 0 -4.6 0zM338.73 71a2.3 2.3 0 1 0 4.6 0a2.3 2.3 0 1 0 -4.6 0zM339.91 71a2.3 2.3 0 1 0 4.6 0a2.3 2.3 0 1 0 -4.6 0zM341.09 71a2.3 2.3 0 1 0 4.6 0a2.3 2.3 0 1 0 -4.6 0zM342.27 71a2.3 2.3 0 1 0 4.6 0a2.3 2.3 0 1 0 -4.6 0zM343.45 71a2.3 2.3 0 1 0 4.6 0a2.3 2.3 0 1 0 -4.6 0zM344.63 71a2.3 2.3 0 1 0 4.6 0a2.3 2.3 0 1 0 -4.6 0zM345.81 71a2.3 2.3 0 1 0 4.6 0a2.3 2.3 0 1 0 -4.6 0zM346.99 71a2.3 2.3 0 1 0 4.6 0a2.3 2.3 0 1 0 -4.6 0zM348.17 71a2.3 2.3 0 1 0 4.6 0a2.3 2.3 0 1 0 -4.6 0zM349.35 71a2.3 2.3 0 1 0 4.6 0a2.3 2.3 0 1 0 -4.6 0zM350.53 71a2.3 2.3 0 1 0 4.6 0a2.3 2.3 0 1 0 -4.6 0zM351.71 71a2.3 2.3 0 1 0 4.6 0a2.3 2.3 0 1 0 -4.6 0zM352.89 71a2.3 2.3 0 1 0 4.6 0a2.3 2.3 0 1 0 -4.6 0zM354.07 71a2.3 2.3 0 1 0 4.6 0a2.3 2.3 0 1 0 -4.6 0zM355.25 71a2.3 2.3 0 1 0 4.6 0a2.3 2.3 0 1 0 -4.6 0zM356.43 71a2.3 2.3 0 1 0 4.6 0a2.3 2.3 0 1 0 -4.6 0zM357.61 71a2.3 2.3 0 1 0 4.6 0a2.3 2.3 0 1 0 -4.6 0zM358.79 71a2.3 2.3 0 1 0 4.6 0a2.3 2.3 0 1 0 -4.6 0zM359.97 71a2.3 2.3 0 1 0 4.6 0a2.3 2.3 0 1 0 -4.6 0zM361.15 71a2.3 2.3 0 1 0 4.6 0a2.3 2.3 0 1 0 -4.6 0zM362.33 71a2.3 2.3 0 1 0 4.6 0a2.3 2.3 0 1 0 -4.6 0zM363.51 71a2.3 2.3 0 1 0 4.6 0a2.3 2.3 0 1 0 -4.6 0zM364.69 71a2.3 2.3 0 1 0 4.6 0a2.3 2.3 0 1 0 -4.6 0zM365.87 71a2.3 2.3 0 1 0 4.6 0a2.3 2.3 0 1 0 -4.6 0zM367.06 71a2.3 2.3 0 1 0 4.6 0a2.3 2.3 0 1 0 -4.6 0zM368.24 71a2.3 2.3 0 1 0 4.6 0a2.3 2.3 0 1 0 -4.6 0zM369.42 71a2.3 2.3 0 1 0 4.6 0a2.3 2.3 0 1 0 -4.6 0zM370.6 71a2.3 2.3 0 1 0 4.6 0a2.3 2.3 0 1 0 -4.6 0zM371.78 71a2.3 2.3 0 1 0 4.6 0a2.3 2.3 0 1 0 -4.6 0zM372.96 71a2.3 2.3 0 1 0 4.6 0a2.3 2.3 0 1 0 -4.6 0zM374.14 71a2.3 2.3 0 1 0 4.6 0a2.3 2.3 0 1 0 -4.6 0zM375.32 71a2.3 2.3 0 1 0 4.6 0a2.3 2.3 0 1 0 -4.6 0zM376.5 71a2.3 2.3 0 1 0 4.6 0a2.3 2.3 0 1 0 -4.6 0zM377.68 71a2.3 2.3 0 1 0 4.6 0a2.3 2.3 0 1 0 -4.6 0zM378.86 71a2.3 2.3 0 1 0 4.6 0a2.3 2.3 0 1 0 -4.6 0zM380.04 71a2.3 2.3 0 1 0 4.6 0a2.3 2.3 0 1 0 -4.6 0zM381.22 71a2.3 2.3 0 1 0 4.6 0a2.3 2.3 0 1 0 -4.6 0zM382.4 71a2.3 2.3 0 1 0 4.6 0a2.3 2.3 0 1 0 -4.6 0zM383.58 71a2.3 2.3 0 1 0 4.6 0a2.3 2.3 0 1 0 -4.6 0zM384.76 71a2.3 2.3 0 1 0 4.6 0a2.3 2.3 0 1 0 -4.6 0zM385.94 71a2.3 2.3 0 1 0 4.6 0a2.3 2.3 0 1 0 -4.6 0zM387.12 71a2.3 2.3 0 1 0 4.6 0a2.3 2.3 0 1 0 -4.6 0zM388.3 71a2.3 2.3 0 1 0 4.6 0a2.3 2.3 0 1 0 -4.6 0zM389.48 71a2.3 2.3 0 1 0 4.6 0a2.3 2.3 0 1 0 -4.6 0zM390.66 71a2.3 2.3 0 1 0 4.6 0a2.3 2.3 0 1 0 -4.6 0zM391.84 71a2.3 2.3 0 1 0 4.6 0a2.3 2.3 0 1 0 -4.6 0zM393.02 71a2.3 2.3 0 1 0 4.6 0a2.3 2.3 0 1 0 -4.6 0zM394.2 71a2.3 2.3 0 1 0 4.6 0a2.3 2.3 0 1 0 -4.6 0zM395.38 71a2.3 2.3 0 1 0 4.6 0a2.3 2.3 0 1 0 -4.6 0zM396.56 71a2.3 2.3 0 1 0 4.6 0a2.3 2.3 0 1 0 -4.6 0zM397.74 71a2.3 2.3 0 1 0 4.6 0a2.3 2.3 0 1 0 -4.6 0zM398.92 71a2.3 2.3 0 1 0 4.6 0a2.3 2.3 0 1 0 -4.6 0zM400.1 71a2.3 2.3 0 1 0 4.6 0a2.3 2.3 0 1 0 -4.6 0zM401.28 71a2.3 2.3 0 1 0 4.6 0a2.3 2.3 0 1 0 -4.6 0zM402.46 71a2.3 2.3 0 1 0 4.6 0a2.3 2.3 0 1 0 -4.6 0zM403.64 71a2.3 2.3 0 1 0 4.6 0a2.3 2.3 0 1 0 -4.6 0zM404.82 71a2.3 2.3 0 1 0 4.6 0a2.3 2.3 0 1 0 -4.6 0zM406.01 71a2.3 2.3 0 1 0 4.6 0a2.3 2.3 0 1 0 -4.6 0zM407.19 71a2.3 2.3 0 1 0 4.6 0a2.3 2.3 0 1 0 -4.6 0zM408.37 71a2.3 2.3 0 1 0 4.6 0a2.3 2.3 0 1 0 -4.6 0zM409.55 71a2.3 2.3 0 1 0 4.6 0a2.3 2.3 0 1 0 -4.6 0zM410.73 71a2.3 2.3 0 1 0 4.6 0a2.3 2.3 0 1 0 -4.6 0zM411.91 71a2.3 2.3 0 1 0 4.6 0a2.3 2.3 0 1 0 -4.6 0zM413.09 71a2.3 2.3 0 1 0 4.6 0a2.3 2.3 0 1 0 -4.6 0zM414.27 71a2.3 2.3 0 1 0 4.6 0a2.3 2.3 0 1 0 -4.6 0zM415.45 71a2.3 2.3 0 1 0 4.6 0a2.3 2.3 0 1 0 -4.6 0zM416.63 71a2.3 2.3 0 1 0 4.6 0a2.3 2.3 0 1 0 -4.6 0zM417.81 71a2.3 2.3 0 1 0 4.6 0a2.3 2.3 0 1 0 -4.6 0zM418.99 71a2.3 2.3 0 1 0 4.6 0a2.3 2.3 0 1 0 -4.6 0zM420.17 71a2.3 2.3 0 1 0 4.6 0a2.3 2.3 0 1 0 -4.6 0zM421.35 71a2.3 2.3 0 1 0 4.6 0a2.3 2.3 0 1 0 -4.6 0zM422.53 71a2.3 2.3 0 1 0 4.6 0a2.3 2.3 0 1 0 -4.6 0zM423.71 71a2.3 2.3 0 1 0 4.6 0a2.3 2.3 0 1 0 -4.6 0zM424.89 71a2.3 2.3 0 1 0 4.6 0a2.3 2.3 0 1 0 -4.6 0zM426.07 71a2.3 2.3 0 1 0 4.6 0a2.3 2.3 0 1 0 -4.6 0zM427.25 71a2.3 2.3 0 1 0 4.6 0a2.3 2.3 0 1 0 -4.6 0zM428.43 71a2.3 2.3 0 1 0 4.6 0a2.3 2.3 0 1 0 -4.6 0zM429.61 71a2.3 2.3 0 1 0 4.6 0a2.3 2.3 0 1 0 -4.6 0zM430.79 71a2.3 2.3 0 1 0 4.6 0a2.3 2.3 0 1 0 -4.6 0zM431.97 71a2.3 2.3 0 1 0 4.6 0a2.3 2.3 0 1 0 -4.6 0zM433.15 71a2.3 2.3 0 1 0 4.6 0a2.3 2.3 0 1 0 -4.6 0zM434.33 71a2.3 2.3 0 1 0 4.6 0a2.3 2.3 0 1 0 -4.6 0zM435.51 71a2.3 2.3 0 1 0 4.6 0a2.3 2.3 0 1 0 -4.6 0zM436.69 71a2.3 2.3 0 1 0 4.6 0a2.3 2.3 0 1 0 -4.6 0zM437.87 71a2.3 2.3 0 1 0 4.6 0a2.3 2.3 0 1 0 -4.6 0zM439.05 71a2.3 2.3 0 1 0 4.6 0a2.3 2.3 0 1 0 -4.6 0zM440.23 71a2.3 2.3 0 1 0 4.6 0a2.3 2.3 0 1 0 -4.6 0zM441.41 71a2.3 2.3 0 1 0 4.6 0a2.3 2.3 0 1 0 -4.6 0zM442.59 71a2.3 2.3 0 1 0 4.6 0a2.3 2.3 0 1 0 -4.6 0zM443.77 71a2.3 2.3 0 1 0 4.6 0a2.3 2.3 0 1 0 -4.6 0zM444.96 71a2.3 2.3 0 1 0 4.6 0a2.3 2.3 0 1 0 -4.6 0zM446.14 71a2.3 2.3 0 1 0 4.6 0a2.3 2.3 0 1 0 -4.6 0zM447.32 71a2.3 2.3 0 1 0 4.6 0a2.3 2.3 0 1 0 -4.6 0zM448.5 71a2.3 2.3 0 1 0 4.6 0a2.3 2.3 0 1 0 -4.6 0zM449.68 71a2.3 2.3 0 1 0 4.6 0a2.3 2.3 0 1 0 -4.6 0zM450.86 71a2.3 2.3 0 1 0 4.6 0a2.3 2.3 0 1 0 -4.6 0zM452.04 71a2.3 2.3 0 1 0 4.6 0a2.3 2.3 0 1 0 -4.6 0zM453.22 71a2.3 2.3 0 1 0 4.6 0a2.3 2.3 0 1 0 -4.6 0zM454.4 71a2.3 2.3 0 1 0 4.6 0a2.3 2.3 0 1 0 -4.6 0zM455.58 71a2.3 2.3 0 1 0 4.6 0a2.3 2.3 0 1 0 -4.6 0zM456.76 71a2.3 2.3 0 1 0 4.6 0a2.3 2.3 0 1 0 -4.6 0zM457.94 71a2.3 2.3 0 1 0 4.6 0a2.3 2.3 0 1 0 -4.6 0zM459.12 71a2.3 2.3 0 1 0 4.6 0a2.3 2.3 0 1 0 -4.6 0zM460.3 71a2.3 2.3 0 1 0 4.6 0a2.3 2.3 0 1 0 -4.6 0zM461.48 71a2.3 2.3 0 1 0 4.6 0a2.3 2.3 0 1 0 -4.6 0zM462.66 71a2.3 2.3 0 1 0 4.6 0a2.3 2.3 0 1 0 -4.6 0zM463.84 71a2.3 2.3 0 1 0 4.6 0a2.3 2.3 0 1 0 -4.6 0zM465.02 71a2.3 2.3 0 1 0 4.6 0a2.3 2.3 0 1 0 -4.6 0zM466.2 71a2.3 2.3 0 1 0 4.6 0a2.3 2.3 0 1 0 -4.6 0zM467.38 71a2.3 2.3 0 1 0 4.6 0a2.3 2.3 0 1 0 -4.6 0zM468.56 71a2.3 2.3 0 1 0 4.6 0a2.3 2.3 0 1 0 -4.6 0zM469.74 71a2.3 2.3 0 1 0 4.6 0a2.3 2.3 0 1 0 -4.6 0zM470.92 71a2.3 2.3 0 1 0 4.6 0a2.3 2.3 0 1 0 -4.6 0zM472.1 71a2.3 2.3 0 1 0 4.6 0a2.3 2.3 0 1 0 -4.6 0zM473.28 71a2.3 2.3 0 1 0 4.6 0a2.3 2.3 0 1 0 -4.6 0zM474.46 71a2.3 2.3 0 1 0 4.6 0a2.3 2.3 0 1 0 -4.6 0zM475.64 71a2.3 2.3 0 1 0 4.6 0a2.3 2.3 0 1 0 -4.6 0zM476.82 71a2.3 2.3 0 1 0 4.6 0a2.3 2.3 0 1 0 -4.6 0zM478 71a2.3 2.3 0 1 0 4.6 0a2.3 2.3 0 1 0 -4.6 0zM479.18 71a2.3 2.3 0 1 0 4.6 0a2.3 2.3 0 1 0 -4.6 0zM480.36 71a2.3 2.3 0 1 0 4.6 0a2.3 2.3 0 1 0 -4.6 0zM481.54 71a2.3 2.3 0 1 0 4.6 0a2.3 2.3 0 1 0 -4.6 0zM482.72 71a2.3 2.3 0 1 0 4.6 0a2.3 2.3 0 1 0 -4.6 0zM483.9 71a2.3 2.3 0 1 0 4.6 0a2.3 2.3 0 1 0 -4.6 0zM485.09 71a2.3 2.3 0 1 0 4.6 0a2.3 2.3 0 1 0 -4.6 0zM486.27 71a2.3 2.3 0 1 0 4.6 0a2.3 2.3 0 1 0 -4.6 0zM487.45 71a2.3 2.3 0 1 0 4.6 0a2.3 2.3 0 1 0 -4.6 0zM488.63 71a2.3 2.3 0 1 0 4.6 0a2.3 2.3 0 1 0 -4.6 0zM489.81 71a2.3 2.3 0 1 0 4.6 0a2.3 2.3 0 1 0 -4.6 0zM490.99 71a2.3 2.3 0 1 0 4.6 0a2.3 2.3 0 1 0 -4.6 0zM492.17 71a2.3 2.3 0 1 0 4.6 0a2.3 2.3 0 1 0 -4.6 0zM493.35 71a2.3 2.3 0 1 0 4.6 0a2.3 2.3 0 1 0 -4.6 0zM494.53 71a2.3 2.3 0 1 0 4.6 0a2.3 2.3 0 1 0 -4.6 0zM495.71 71a2.3 2.3 0 1 0 4.6 0a2.3 2.3 0 1 0 -4.6 0zM496.89 71a2.3 2.3 0 1 0 4.6 0a2.3 2.3 0 1 0 -4.6 0zM498.07 71a2.3 2.3 0 1 0 4.6 0a2.3 2.3 0 1 0 -4.6 0zM499.25 71a2.3 2.3 0 1 0 4.6 0a2.3 2.3 0 1 0 -4.6 0zM500.43 71a2.3 2.3 0 1 0 4.6 0a2.3 2.3 0 1 0 -4.6 0zM501.61 71a2.3 2.3 0 1 0 4.6 0a2.3 2.3 0 1 0 -4.6 0zM502.79 71a2.3 2.3 0 1 0 4.6 0a2.3 2.3 0 1 0 -4.6 0zM503.97 71a2.3 2.3 0 1 0 4.6 0a2.3 2.3 0 1 0 -4.6 0zM505.15 71a2.3 2.3 0 1 0 4.6 0a2.3 2.3 0 1 0 -4.6 0zM506.33 71a2.3 2.3 0 1 0 4.6 0a2.3 2.3 0 1 0 -4.6 0zM507.51 71a2.3 2.3 0 1 0 4.6 0a2.3 2.3 0 1 0 -4.6 0zM508.69 71a2.3 2.3 0 1 0 4.6 0a2.3 2.3 0 1 0 -4.6 0zM509.87 71a2.3 2.3 0 1 0 4.6 0a2.3 2.3 0 1 0 -4.6 0zM511.05 71a2.3 2.3 0 1 0 4.6 0a2.3 2.3 0 1 0 -4.6 0zM512.23 71a2.3 2.3 0 1 0 4.6 0a2.3 2.3 0 1 0 -4.6 0zM513.41 71a2.3 2.3 0 1 0 4.6 0a2.3 2.3 0 1 0 -4.6 0zM514.59 71a2.3 2.3 0 1 0 4.6 0a2.3 2.3 0 1 0 -4.6 0zM515.77 71a2.3 2.3 0 1 0 4.6 0a2.3 2.3 0 1 0 -4.6 0zM516.95 71a2.3 2.3 0 1 0 4.6 0a2.3 2.3 0 1 0 -4.6 0zM518.13 71a2.3 2.3 0 1 0 4.6 0a2.3 2.3 0 1 0 -4.6 0zM519.31 71a2.3 2.3 0 1 0 4.6 0a2.3 2.3 0 1 0 -4.6 0zM520.49 71a2.3 2.3 0 1 0 4.6 0a2.3 2.3 0 1 0 -4.6 0zM521.67 71a2.3 2.3 0 1 0 4.6 0a2.3 2.3 0 1 0 -4.6 0zM522.85 71a2.3 2.3 0 1 0 4.6 0a2.3 2.3 0 1 0 -4.6 0zM524.04 71a2.3 2.3 0 1 0 4.6 0a2.3 2.3 0 1 0 -4.6 0zM525.22 71a2.3 2.3 0 1 0 4.6 0a2.3 2.3 0 1 0 -4.6 0zM526.4 71a2.3 2.3 0 1 0 4.6 0a2.3 2.3 0 1 0 -4.6 0zM527.58 71a2.3 2.3 0 1 0 4.6 0a2.3 2.3 0 1 0 -4.6 0zM528.76 71a2.3 2.3 0 1 0 4.6 0a2.3 2.3 0 1 0 -4.6 0zM529.94 71a2.3 2.3 0 1 0 4.6 0a2.3 2.3 0 1 0 -4.6 0zM531.12 71a2.3 2.3 0 1 0 4.6 0a2.3 2.3 0 1 0 -4.6 0zM532.3 71a2.3 2.3 0 1 0 4.6 0a2.3 2.3 0 1 0 -4.6 0zM533.48 71a2.3 2.3 0 1 0 4.6 0a2.3 2.3 0 1 0 -4.6 0zM534.66 71a2.3 2.3 0 1 0 4.6 0a2.3 2.3 0 1 0 -4.6 0zM535.84 71a2.3 2.3 0 1 0 4.6 0a2.3 2.3 0 1 0 -4.6 0zM537.02 71a2.3 2.3 0 1 0 4.6 0a2.3 2.3 0 1 0 -4.6 0zM538.2 71a2.3 2.3 0 1 0 4.6 0a2.3 2.3 0 1 0 -4.6 0zM539.38 71a2.3 2.3 0 1 0 4.6 0a2.3 2.3 0 1 0 -4.6 0zM540.56 71a2.3 2.3 0 1 0 4.6 0a2.3 2.3 0 1 0 -4.6 0zM541.74 71a2.3 2.3 0 1 0 4.6 0a2.3 2.3 0 1 0 -4.6 0zM542.92 71a2.3 2.3 0 1 0 4.6 0a2.3 2.3 0 1 0 -4.6 0zM544.1 71a2.3 2.3 0 1 0 4.6 0a2.3 2.3 0 1 0 -4.6 0zM545.28 71a2.3 2.3 0 1 0 4.6 0a2.3 2.3 0 1 0 -4.6 0zM546.46 71a2.3 2.3 0 1 0 4.6 0a2.3 2.3 0 1 0 -4.6 0zM547.64 71a2.3 2.3 0 1 0 4.6 0a2.3 2.3 0 1 0 -4.6 0zM548.82 71a2.3 2.3 0 1 0 4.6 0a2.3 2.3 0 1 0 -4.6 0zM550 71a2.3 2.3 0 1 0 4.6 0a2.3 2.3 0 1 0 -4.6 0zM551.18 71a2.3 2.3 0 1 0 4.6 0a2.3 2.3 0 1 0 -4.6 0zM552.36 71a2.3 2.3 0 1 0 4.6 0a2.3 2.3 0 1 0 -4.6 0zM553.54 71a2.3 2.3 0 1 0 4.6 0a2.3 2.3 0 1 0 -4.6 0zM554.72 71a2.3 2.3 0 1 0 4.6 0a2.3 2.3 0 1 0 -4.6 0zM555.9 71a2.3 2.3 0 1 0 4.6 0a2.3 2.3 0 1 0 -4.6 0zM557.08 71a2.3 2.3 0 1 0 4.6 0a2.3 2.3 0 1 0 -4.6 0zM558.26 71a2.3 2.3 0 1 0 4.6 0a2.3 2.3 0 1 0 -4.6 0zM559.44 71a2.3 2.3 0 1 0 4.6 0a2.3 2.3 0 1 0 -4.6 0zM560.62 71a2.3 2.3 0 1 0 4.6 0a2.3 2.3 0 1 0 -4.6 0zM561.8 71a2.3 2.3 0 1 0 4.6 0a2.3 2.3 0 1 0 -4.6 0zM562.99 71a2.3 2.3 0 1 0 4.6 0a2.3 2.3 0 1 0 -4.6 0zM564.17 71a2.3 2.3 0 1 0 4.6 0a2.3 2.3 0 1 0 -4.6 0zM565.35 71a2.3 2.3 0 1 0 4.6 0a2.3 2.3 0 1 0 -4.6 0zM566.53 71a2.3 2.3 0 1 0 4.6 0a2.3 2.3 0 1 0 -4.6 0zM567.71 71a2.3 2.3 0 1 0 4.6 0a2.3 2.3 0 1 0 -4.6 0zM568.89 71a2.3 2.3 0 1 0 4.6 0a2.3 2.3 0 1 0 -4.6 0zM570.07 71a2.3 2.3 0 1 0 4.6 0a2.3 2.3 0 1 0 -4.6 0zM571.25 71a2.3 2.3 0 1 0 4.6 0a2.3 2.3 0 1 0 -4.6 0zM572.43 71a2.3 2.3 0 1 0 4.6 0a2.3 2.3 0 1 0 -4.6 0zM573.61 71a2.3 2.3 0 1 0 4.6 0a2.3 2.3 0 1 0 -4.6 0zM574.79 71a2.3 2.3 0 1 0 4.6 0a2.3 2.3 0 1 0 -4.6 0zM575.97 71a2.3 2.3 0 1 0 4.6 0a2.3 2.3 0 1 0 -4.6 0zM577.15 71a2.3 2.3 0 1 0 4.6 0a2.3 2.3 0 1 0 -4.6 0zM578.33 71a2.3 2.3 0 1 0 4.6 0a2.3 2.3 0 1 0 -4.6 0zM579.51 71a2.3 2.3 0 1 0 4.6 0a2.3 2.3 0 1 0 -4.6 0zM580.69 71a2.3 2.3 0 1 0 4.6 0a2.3 2.3 0 1 0 -4.6 0zM581.87 71a2.3 2.3 0 1 0 4.6 0a2.3 2.3 0 1 0 -4.6 0zM583.05 71a2.3 2.3 0 1 0 4.6 0a2.3 2.3 0 1 0 -4.6 0zM584.23 71a2.3 2.3 0 1 0 4.6 0a2.3 2.3 0 1 0 -4.6 0zM585.41 71a2.3 2.3 0 1 0 4.6 0a2.3 2.3 0 1 0 -4.6 0zM586.59 71a2.3 2.3 0 1 0 4.6 0a2.3 2.3 0 1 0 -4.6 0zM587.77 71a2.3 2.3 0 1 0 4.6 0a2.3 2.3 0 1 0 -4.6 0zM588.95 71a2.3 2.3 0 1 0 4.6 0a2.3 2.3 0 1 0 -4.6 0zM590.13 71a2.3 2.3 0 1 0 4.6 0a2.3 2.3 0 1 0 -4.6 0zM591.31 71a2.3 2.3 0 1 0 4.6 0a2.3 2.3 0 1 0 -4.6 0zM592.49 71a2.3 2.3 0 1 0 4.6 0a2.3 2.3 0 1 0 -4.6 0zM593.67 71a2.3 2.3 0 1 0 4.6 0a2.3 2.3 0 1 0 -4.6 0zM594.85 71a2.3 2.3 0 1 0 4.6 0a2.3 2.3 0 1 0 -4.6 0zM596.03 71a2.3 2.3 0 1 0 4.6 0a2.3 2.3 0 1 0 -4.6 0zM597.21 71a2.3 2.3 0 1 0 4.6 0a2.3 2.3 0 1 0 -4.6 0zM598.39 71a2.3 2.3 0 1 0 4.6 0a2.3 2.3 0 1 0 -4.6 0zM599.57 71a2.3 2.3 0 1 0 4.6 0a2.3 2.3 0 1 0 -4.6 0zM600.75 71a2.3 2.3 0 1 0 4.6 0a2.3 2.3 0 1 0 -4.6 0zM601.94 71a2.3 2.3 0 1 0 4.6 0a2.3 2.3 0 1 0 -4.6 0zM603.12 71a2.3 2.3 0 1 0 4.6 0a2.3 2.3 0 1 0 -4.6 0zM604.3 71a2.3 2.3 0 1 0 4.6 0a2.3 2.3 0 1 0 -4.6 0zM605.48 71a2.3 2.3 0 1 0 4.6 0a2.3 2.3 0 1 0 -4.6 0zM606.66 71a2.3 2.3 0 1 0 4.6 0a2.3 2.3 0 1 0 -4.6 0zM607.84 71a2.3 2.3 0 1 0 4.6 0a2.3 2.3 0 1 0 -4.6 0zM609.02 71a2.3 2.3 0 1 0 4.6 0a2.3 2.3 0 1 0 -4.6 0zM610.2 71a2.3 2.3 0 1 0 4.6 0a2.3 2.3 0 1 0 -4.6 0zM611.38 71a2.3 2.3 0 1 0 4.6 0a2.3 2.3 0 1 0 -4.6 0zM612.56 71a2.3 2.3 0 1 0 4.6 0a2.3 2.3 0 1 0 -4.6 0zM613.74 71a2.3 2.3 0 1 0 4.6 0a2.3 2.3 0 1 0 -4.6 0zM614.92 71a2.3 2.3 0 1 0 4.6 0a2.3 2.3 0 1 0 -4.6 0zM616.1 71a2.3 2.3 0 1 0 4.6 0a2.3 2.3 0 1 0 -4.6 0zM617.28 71a2.3 2.3 0 1 0 4.6 0a2.3 2.3 0 1 0 -4.6 0zM618.46 71a2.3 2.3 0 1 0 4.6 0a2.3 2.3 0 1 0 -4.6 0zM619.64 71a2.3 2.3 0 1 0 4.6 0a2.3 2.3 0 1 0 -4.6 0zM620.82 71a2.3 2.3 0 1 0 4.6 0a2.3 2.3 0 1 0 -4.6 0zM622 71a2.3 2.3 0 1 0 4.6 0a2.3 2.3 0 1 0 -4.6 0zM623.18 71a2.3 2.3 0 1 0 4.6 0a2.3 2.3 0 1 0 -4.6 0zM624.36 71a2.3 2.3 0 1 0 4.6 0a2.3 2.3 0 1 0 -4.6 0zM625.54 71a2.3 2.3 0 1 0 4.6 0a2.3 2.3 0 1 0 -4.6 0zM626.72 71a2.3 2.3 0 1 0 4.6 0a2.3 2.3 0 1 0 -4.6 0zM627.9 71a2.3 2.3 0 1 0 4.6 0a2.3 2.3 0 1 0 -4.6 0zM629.08 71a2.3 2.3 0 1 0 4.6 0a2.3 2.3 0 1 0 -4.6 0zM630.26 71a2.3 2.3 0 1 0 4.6 0a2.3 2.3 0 1 0 -4.6 0zM631.44 71a2.3 2.3 0 1 0 4.6 0a2.3 2.3 0 1 0 -4.6 0zM632.62 71a2.3 2.3 0 1 0 4.6 0a2.3 2.3 0 1 0 -4.6 0zM633.8 71a2.3 2.3 0 1 0 4.6 0a2.3 2.3 0 1 0 -4.6 0zM634.98 71a2.3 2.3 0 1 0 4.6 0a2.3 2.3 0 1 0 -4.6 0zM636.16 71a2.3 2.3 0 1 0 4.6 0a2.3 2.3 0 1 0 -4.6 0zM637.34 71a2.3 2.3 0 1 0 4.6 0a2.3 2.3 0 1 0 -4.6 0zM638.52 71a2.3 2.3 0 1 0 4.6 0a2.3 2.3 0 1 0 -4.6 0zM639.7 71a2.3 2.3 0 1 0 4.6 0a2.3 2.3 0 1 0 -4.6 0zM640.88 71a2.3 2.3 0 1 0 4.6 0a2.3 2.3 0 1 0 -4.6 0zM642.07 71a2.3 2.3 0 1 0 4.6 0a2.3 2.3 0 1 0 -4.6 0zM643.25 71a2.3 2.3 0 1 0 4.6 0a2.3 2.3 0 1 0 -4.6 0zM644.43 71a2.3 2.3 0 1 0 4.6 0a2.3 2.3 0 1 0 -4.6 0zM645.61 71a2.3 2.3 0 1 0 4.6 0a2.3 2.3 0 1 0 -4.6 0zM646.79 71a2.3 2.3 0 1 0 4.6 0a2.3 2.3 0 1 0 -4.6 0zM647.97 71a2.3 2.3 0 1 0 4.6 0a2.3 2.3 0 1 0 -4.6 0zM649.15 71a2.3 2.3 0 1 0 4.6 0a2.3 2.3 0 1 0 -4.6 0zM650.33 71a2.3 2.3 0 1 0 4.6 0a2.3 2.3 0 1 0 -4.6 0zM651.51 71a2.3 2.3 0 1 0 4.6 0a2.3 2.3 0 1 0 -4.6 0zM652.69 71a2.3 2.3 0 1 0 4.6 0a2.3 2.3 0 1 0 -4.6 0zM653.87 71a2.3 2.3 0 1 0 4.6 0a2.3 2.3 0 1 0 -4.6 0zM655.05 71a2.3 2.3 0 1 0 4.6 0a2.3 2.3 0 1 0 -4.6 0zM656.23 71a2.3 2.3 0 1 0 4.6 0a2.3 2.3 0 1 0 -4.6 0zM657.41 71a2.3 2.3 0 1 0 4.6 0a2.3 2.3 0 1 0 -4.6 0zM658.59 71a2.3 2.3 0 1 0 4.6 0a2.3 2.3 0 1 0 -4.6 0zM659.77 71a2.3 2.3 0 1 0 4.6 0a2.3 2.3 0 1 0 -4.6 0zM660.95 71a2.3 2.3 0 1 0 4.6 0a2.3 2.3 0 1 0 -4.6 0z" fill="#1496F6"/>
<text transform="translate(52.65 389.4) scale(1 1.03)" font-size="25">0</text>
<text transform="translate(31.8 327.77) scale(1 1.03)" font-size="25">0.2</text>
<text transform="translate(31.8 266.13) scale(1 1.03)" font-size="25">0.4</text>
<text transform="translate(31.8 204.5) scale(1 1.03)" font-size="25">0.6</text>
<text transform="translate(31.8 142.86) scale(1 1.03)" font-size="25">0.8</text>
<path d="M61.96 81.23H59.77V67.23Q58.97 67.99 57.69 68.74T55.37 69.88V67.75Q57.2 66.89 58.58 65.65T60.52 63.26H61.96Z" fill="#262626" stroke="#262626" stroke-width="0.25"/>
<path d="M41.11 19.6H38.92V5.59Q38.12 6.35 36.84 7.11T34.52 8.24V6.12Q36.35 5.25 37.73 4.02T39.67 1.63H41.11Z" fill="#262626" stroke="#262626" stroke-width="0.25"/><text transform="translate(45.7 19.6) scale(1 1.03)" font-size="25">.2</text>
<path d="M179.59 412.8H177.4V398.8Q176.6 399.56 175.32 400.31T173 401.45V399.32Q174.83 398.46 176.21 397.22T178.15 394.83H179.59Z" fill="#262626" stroke="#262626" stroke-width="0.25"/><text transform="translate(184.18 412.8) scale(1 1.04)" font-size="25">00</text>
<text transform="translate(288.31 412.8) scale(1 1.04)" font-size="25">200</text>
<text transform="translate(406.34 412.8) scale(1 1.04)" font-size="25">300</text>
<text transform="translate(524.37 412.8) scale(1 1.04)" font-size="25">400</text>
<text transform="translate(642.4 412.8) scale(1 1.04)" font-size="25">500</text>
<text transform="translate(369 447.5) scale(1 1.0)" font-size="27.7" text-anchor="middle">Iteration</text>
<text transform="translate(22 194) rotate(-90) scale(1 1.0)" font-size="27.7" text-anchor="middle">Convergence Rate</text>
<rect x="257.2" y="112.9" width="207.8" height="194.1" fill="#fff" stroke="#262626" stroke-width="1.2" stroke-opacity="1"/>
<path d="M260.3 130H292.3" stroke="#000000" stroke-width="1.75"/>
<path d="M274.1 130a1.9 1.9 0 1 0 3.8 0a1.9 1.9 0 1 0 -3.8 0z" fill="none" stroke="#000000" stroke-width="2.0"/>
<text transform="translate(294 139.8) scale(1 1.04)" font-size="25.5" style="fill:#000;stroke:#000">GA</text>
<path d="M260.3 162H292.3" stroke="#0000FF" stroke-width="1.75"/>
<path d="M273.7 159.7h4.6v4.6h-4.6z" fill="#0000FF"/>
<text transform="translate(294 171.82) scale(1 1.04)" font-size="25.5" style="fill:#000;stroke:#000">PSO</text>
<path d="M260.3 194H292.3" stroke="#00FF00" stroke-width="1.75"/>
<path d="M276 190.1l2.6 3.9l-2.6 3.9l-2.6 -3.9z" fill="#00FF00"/>
<text transform="translate(294 203.84) scale(1 1.04)" font-size="25.5" style="fill:#000;stroke:#000">CCS-GWO</text>
<path d="M260.3 226H292.3" stroke="#7E2F8E" stroke-width="1.75"/>
<path d="M276 221.4l3.7 6.6h-7.4z" fill="#7E2F8E"/>
<text transform="translate(294 235.86) scale(1 1.04)" font-size="25.5" style="fill:#000;stroke:#000">MMSCC-GWO</text>
<path d="M260.3 258H292.3" stroke="#FF8000" stroke-width="1.75"/>
<path d="M276 262.6l3.7 -6.6h-7.4z" fill="#FF8000"/>
<text transform="translate(294 267.88) scale(1 1.04)" font-size="25.5" style="fill:#000;stroke:#000">WCA</text>
<path d="M260.3 290H292.3" stroke="#1496F6" stroke-width="1.75"/>
<path d="M273.7 290a2.3 2.3 0 1 0 4.6 0a2.3 2.3 0 1 0 -4.6 0z" fill="#1496F6"/>
<text transform="translate(294 299.9) scale(1 1.04)" font-size="25.5" style="fill:#000;stroke:#000">HMS-GWO</text>
</svg></body></html>
